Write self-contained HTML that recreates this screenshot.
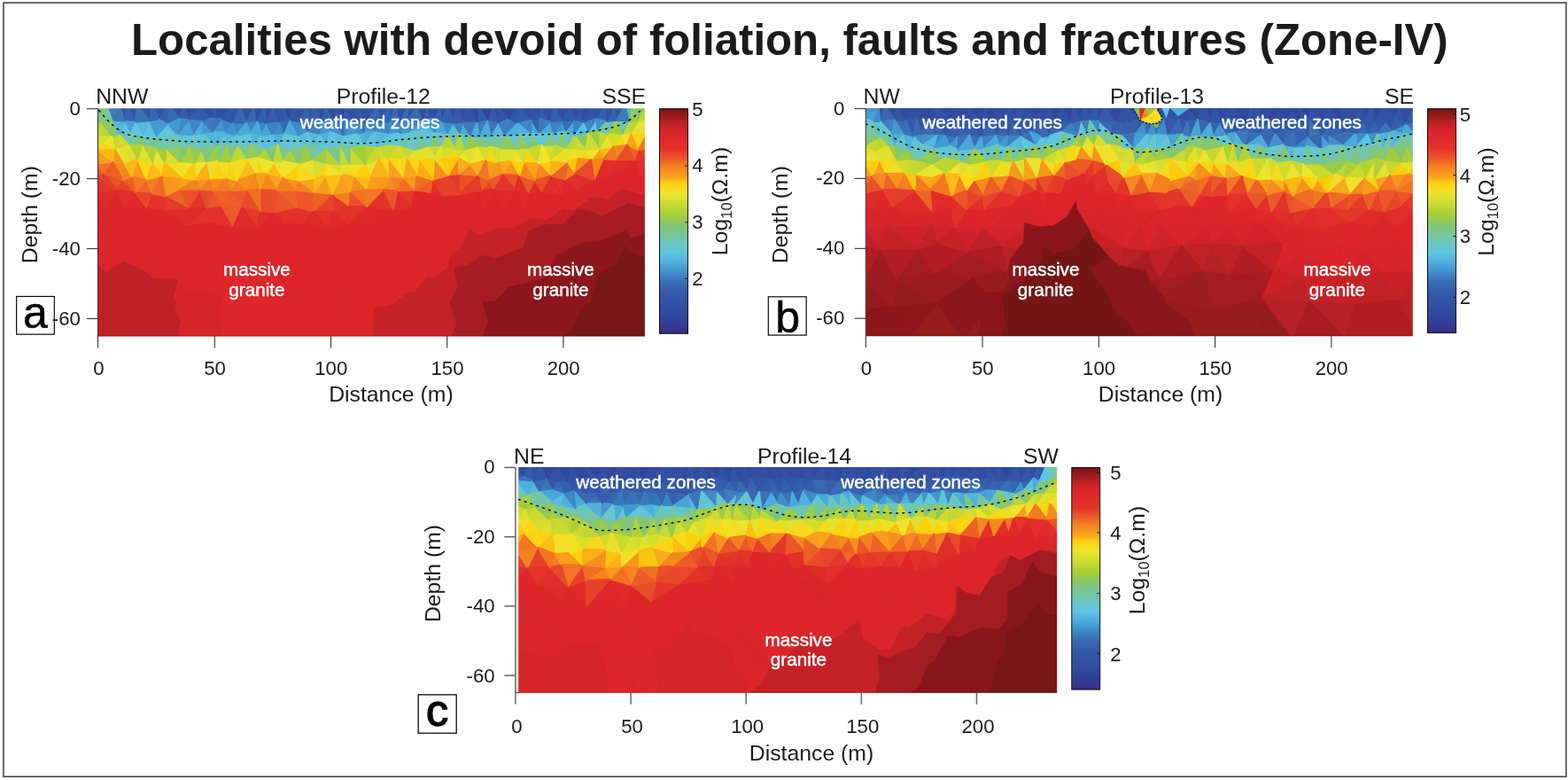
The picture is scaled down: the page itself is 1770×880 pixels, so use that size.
<!DOCTYPE html>
<html lang="en"><head><meta charset="utf-8"><title>Localities with devoid of foliation, faults and fractures (Zone-IV)</title>
<style>html,body{margin:0;padding:0;background:#fff}body{width:1770px;height:880px;overflow:hidden}svg{display:block}text{font-family:"Liberation Sans",Arial,Helvetica,sans-serif;fill:#1c1a1b}.t{font-size:22.2px}.l{font-size:24.8px}.z{font-size:20.7px;fill:#fff;stroke:#fff;stroke-width:.45px}.k{font-size:50px;fill:#000;stroke:#000}</style></head><body>
<svg width="1770" height="880" viewBox="0 0 1770 880">
<rect x="0" y="0" width="1770" height="880" fill="#fff"/>
<rect x="3.95" y="3.1" width="1763.95" height="873.1" fill="none" stroke="#3c3c3c" stroke-width="1.5"/>
<text x="891.4" y="61.9" text-anchor="middle" font-size="49.2" font-weight="bold">Localities with devoid of foliation, faults and fractures (Zone-IV)</text>
<defs><linearGradient id="jet" x1="0" y1="1" x2="0" y2="0">
<stop offset="0.000" stop-color="#342f7d"/>
<stop offset="0.015" stop-color="#35358b"/>
<stop offset="0.053" stop-color="#323f98"/>
<stop offset="0.110" stop-color="#314ea3"/>
<stop offset="0.170" stop-color="#3358a9"/>
<stop offset="0.225" stop-color="#3a6cb3"/>
<stop offset="0.262" stop-color="#3d87c3"/>
<stop offset="0.302" stop-color="#48a7d9"/>
<stop offset="0.355" stop-color="#5ec5e1"/>
<stop offset="0.405" stop-color="#6bc6bb"/>
<stop offset="0.455" stop-color="#7dc68a"/>
<stop offset="0.485" stop-color="#86c66f"/>
<stop offset="0.522" stop-color="#a1cd3a"/>
<stop offset="0.572" stop-color="#c8d92f"/>
<stop offset="0.625" stop-color="#efe42e"/>
<stop offset="0.668" stop-color="#fdd00e"/>
<stop offset="0.695" stop-color="#f9a51c"/>
<stop offset="0.746" stop-color="#f37e21"/>
<stop offset="0.777" stop-color="#ec5a29"/>
<stop offset="0.824" stop-color="#e2312b"/>
<stop offset="0.875" stop-color="#de262b"/>
<stop offset="0.902" stop-color="#d9252a"/>
<stop offset="0.947" stop-color="#b01f24"/>
<stop offset="1.000" stop-color="#761416"/>
</linearGradient><filter id="soft" x="-2%" y="-2%" width="104%" height="104%"><feGaussianBlur stdDeviation="0.55"/></filter></defs>
<g id="panel-a">
<clipPath id="clipa"><rect x="111.00" y="122.30" width="616.90" height="257.20"/></clipPath>
<g clip-path="url(#clipa)"><g stroke-width="1.5" stroke-linejoin="round" filter="url(#soft)">
<path fill="#e4392b" stroke="#e4392b" d="M375.0 218.7L394.6 232.7L375.4 238.5zM211.7 235.0L226.4 213.7L233.0 234.4zM468.3 214.5L464.2 233.5L448.7 215.3zM289.6 257.2L273.2 233.3L293.9 238.3z"/>
<path fill="#dc262b" stroke="#dc262b" d="M263.4 256.6L232.5 274.9L238.9 250.7zM132.4 346.7L166.6 382.5L108.0 382.5zM441.3 308.0L463.7 281.2L484.5 307.5zM435.3 335.4L441.3 308.0L484.5 307.5zM286.2 341.9L304.8 382.5L231.6 382.5zM237.4 345.6L286.2 341.9L231.6 382.5zM286.2 341.9L237.4 345.6L267.1 306.2zM237.4 345.6L237.3 316.8L267.1 306.2zM108.0 336.9L132.4 346.7L108.0 382.5zM132.4 346.7L108.0 336.9L108.0 309.4zM132.4 346.7L190.9 342.7L166.6 382.5zM237.3 316.8L190.9 342.7L190.0 303.3zM190.9 342.7L237.3 316.8L237.4 345.6zM166.6 382.5L190.9 342.7L231.6 382.5zM190.9 342.7L237.4 345.6L231.6 382.5zM153.2 309.5L132.4 346.7L108.0 309.4zM124.1 279.9L153.2 309.5L108.0 309.4zM153.2 309.5L164.7 281.7L190.0 303.3zM153.2 309.5L190.9 342.7L132.4 346.7zM613.7 233.7L628.3 255.7L604.5 253.3zM654.5 382.5L698.4 344.2L730.9 382.5zM698.4 344.2L730.9 351.8L730.9 382.5zM730.9 351.8L698.4 344.2L730.9 304.1zM707.1 281.6L730.9 280.8L730.9 304.1zM730.9 280.8L707.1 281.6L730.9 250.4zM577.9 281.9L570.6 255.6L604.5 253.3zM698.4 344.2L642.1 344.4L678.2 306.8zM642.1 344.4L698.4 344.2L654.5 382.5zM601.6 382.5L642.1 344.4L654.5 382.5zM642.1 344.4L601.6 382.5L602.4 341.6zM514.6 309.8L496.9 349.8L484.5 307.5zM496.9 349.8L435.3 335.4L484.5 307.5zM435.3 335.4L496.9 349.8L466.3 382.5zM559.2 311.5L514.6 309.8L537.5 285.8zM523.6 259.0L547.1 257.4L537.5 285.8zM429.7 277.7L463.7 281.2L441.3 308.0zM463.7 281.2L498.6 281.1L484.5 307.5zM498.6 281.1L514.6 309.8L484.5 307.5zM523.6 259.0L498.6 281.1L501.7 251.2zM514.6 309.8L498.6 281.1L537.5 285.8zM429.7 277.7L445.1 257.9L463.7 281.2zM108.0 275.1L124.1 279.9L108.0 309.4zM141.2 258.0L124.1 279.9L108.0 252.4zM124.1 279.9L141.2 258.0L164.7 281.7zM185.2 252.1L198.1 284.7L164.7 281.7zM198.1 284.7L237.3 316.8L190.0 303.3zM688.2 219.1L704.1 196.8L707.3 218.0zM654.4 253.9L646.1 277.1L628.3 255.7zM654.4 253.9L650.8 231.2L672.8 251.2zM688.2 219.1L676.7 234.8L667.8 215.2zM717.5 233.2L692.0 236.4L707.3 218.0zM692.0 236.4L717.5 233.2L701.2 251.2zM692.0 236.4L676.7 234.8L688.2 219.1zM676.7 234.8L692.0 236.4L672.8 251.2zM547.1 257.4L543.7 237.0L570.6 255.6zM523.6 259.0L543.7 237.0L547.1 257.4zM593.0 238.4L613.7 233.7L604.5 253.3zM569.3 232.6L593.0 238.4L570.6 255.6zM672.0 282.7L707.1 281.6L678.2 306.8zM707.1 281.6L672.0 282.7L701.2 251.2zM672.0 282.7L654.4 253.9L672.8 251.2zM604.3 286.9L577.9 281.9L604.5 253.3zM646.1 277.1L604.3 286.9L628.3 255.7zM642.1 344.4L647.5 313.0L678.2 306.8zM647.5 313.0L672.0 282.7L678.2 306.8zM672.0 282.7L647.5 313.0L646.1 277.1zM552.6 348.7L496.9 349.8L514.6 309.8zM559.2 311.5L552.6 348.7L514.6 309.8zM552.6 348.7L559.2 311.5L602.4 341.6zM429.7 277.7L401.0 285.5L423.3 255.3zM185.2 252.1L156.6 255.3L164.9 233.9zM141.2 258.0L156.6 255.3L164.7 281.7zM108.0 235.5L117.7 235.6L108.0 252.4zM117.7 235.6L139.9 233.8L141.2 258.0zM717.5 233.2L730.9 238.2L730.9 250.4zM634.9 219.0L636.5 231.7L613.7 233.7zM595.6 311.6L559.2 311.5L577.9 281.9zM559.2 311.5L595.6 311.6L602.4 341.6zM595.6 311.6L647.5 313.0L602.4 341.6zM364.7 382.5L396.2 344.8L417.1 382.5zM396.2 344.8L435.3 335.4L417.1 382.5zM332.2 337.4L364.7 382.5L304.8 382.5zM286.2 341.9L332.2 337.4L304.8 382.5zM316.2 311.8L332.2 337.4L286.2 341.9zM332.2 337.4L316.2 311.8L356.8 306.1zM396.2 344.8L332.2 337.4L356.8 306.1zM332.2 337.4L396.2 344.8L364.7 382.5zM292.9 281.5L316.2 311.8L267.1 306.2zM401.0 285.5L369.4 257.6L392.3 252.0zM369.4 257.6L401.0 285.5L361.1 274.8zM343.3 253.0L369.4 257.6L361.1 274.8zM332.0 281.6L361.1 274.8L356.8 306.1zM396.2 344.8L393.1 311.6L435.3 335.4zM435.3 335.4L393.1 311.6L441.3 308.0zM393.1 311.6L401.0 285.5L441.3 308.0zM393.1 311.6L396.2 344.8L356.8 306.1zM289.6 257.2L270.5 284.4L263.4 256.6zM289.6 257.2L292.9 281.5L270.5 284.4zM321.1 250.3L332.0 281.6L292.9 281.5zM502.3 234.0L518.2 219.4L524.9 237.2z"/>
<path fill="#dd262b" stroke="#dd262b" d="M435.3 335.4L466.3 382.5L417.1 382.5zM232.5 274.9L270.5 284.4L267.1 306.2zM270.5 284.4L232.5 274.9L263.4 256.6zM237.3 316.8L232.5 274.9L267.1 306.2zM153.2 309.5L124.1 279.9L164.7 281.7zM190.9 342.7L153.2 309.5L190.0 303.3zM650.8 231.2L652.5 213.7L667.8 215.2zM730.9 304.1L698.4 344.2L678.2 306.8zM707.1 281.6L730.9 304.1L678.2 306.8zM707.1 281.6L701.2 251.2L730.9 250.4zM577.9 281.9L547.1 257.4L570.6 255.6zM547.1 257.4L577.9 281.9L537.5 285.8zM466.3 382.5L496.9 349.8L547.2 382.5zM577.9 281.9L559.2 311.5L537.5 285.8zM498.6 281.1L523.6 259.0L537.5 285.8zM445.1 257.9L429.7 277.7L423.3 255.3zM124.1 279.9L108.0 275.1L108.0 252.4zM164.7 281.7L198.1 284.7L190.0 303.3zM237.3 316.8L198.1 284.7L232.5 274.9zM117.7 235.6L141.2 258.0L108.0 252.4zM701.2 251.2L717.5 233.2L730.9 250.4zM676.7 234.8L650.8 231.2L667.8 215.2zM650.8 231.2L676.7 234.8L672.8 251.2zM692.0 236.4L688.2 219.1L707.3 218.0zM692.0 236.4L701.2 251.2L672.8 251.2zM543.7 237.0L569.3 232.6L570.6 255.6zM634.9 219.0L652.5 213.7L650.8 231.2zM570.6 255.6L593.0 238.4L604.5 253.3zM701.2 251.2L672.0 282.7L672.8 251.2zM654.4 253.9L672.0 282.7L646.1 277.1zM628.3 255.7L604.3 286.9L604.5 253.3zM647.5 313.0L604.3 286.9L646.1 277.1zM647.5 313.0L642.1 344.4L602.4 341.6zM496.9 349.8L552.6 348.7L547.2 382.5zM552.6 348.7L601.6 382.5L547.2 382.5zM316.2 311.8L286.2 341.9L267.1 306.2zM401.0 285.5L429.7 277.7L441.3 308.0zM401.0 285.5L392.3 252.0L423.3 255.3zM156.6 255.3L185.2 252.1L164.7 281.7zM209.6 253.7L198.1 284.7L185.2 252.1zM186.2 237.1L209.6 253.7L185.2 252.1zM198.1 284.7L209.6 253.7L232.5 274.9zM232.5 274.9L209.6 253.7L238.9 250.7zM139.9 233.8L117.7 235.6L132.1 214.5zM156.6 255.3L139.9 233.8L164.9 233.9zM139.9 233.8L156.6 255.3L141.2 258.0zM723.2 201.8L730.9 217.6L707.3 218.0zM704.1 196.8L723.2 201.8L707.3 218.0zM730.9 238.2L717.5 233.2L730.9 217.6zM524.9 237.2L523.6 259.0L501.7 251.2zM524.9 237.2L543.7 237.0L523.6 259.0zM524.9 237.2L543.2 214.8L543.7 237.0zM636.5 231.7L634.9 219.0L650.8 231.2zM636.5 231.7L654.4 253.9L628.3 255.7zM654.4 253.9L636.5 231.7L650.8 231.2zM613.7 233.7L636.5 231.7L628.3 255.7zM604.3 286.9L595.6 311.6L577.9 281.9zM647.5 313.0L595.6 311.6L604.3 286.9zM316.2 311.8L332.0 281.6L356.8 306.1zM332.0 281.6L343.3 253.0L361.1 274.8zM292.9 281.5L332.0 281.6L316.2 311.8zM444.3 236.9L464.2 233.5L445.1 257.9zM730.9 204.0L723.2 201.8L730.9 182.5zM723.2 201.8L730.9 204.0L730.9 217.6zM652.5 213.7L670.5 203.1L667.8 215.2zM670.5 203.1L688.2 219.1L667.8 215.2zM361.1 274.8L393.1 311.6L356.8 306.1zM289.6 257.2L321.1 250.3L292.9 281.5zM473.9 255.6L498.6 281.1L463.7 281.2zM445.1 257.9L473.9 255.6L463.7 281.2zM464.2 233.5L473.9 255.6L445.1 257.9zM689.5 197.3L704.1 196.8L688.2 219.1zM502.3 234.0L524.9 237.2L501.7 251.2zM518.2 219.4L502.3 234.0L499.7 220.7zM473.9 255.6L485.8 239.2L501.7 251.2zM485.8 239.2L502.3 234.0L501.7 251.2zM485.8 239.2L473.9 255.6L464.2 233.5zM502.3 234.0L485.8 239.2L499.7 220.7z"/>
<path fill="#e2312b" stroke="#e2312b" d="M394.6 232.7L392.3 252.0L375.4 238.5zM634.9 219.0L621.0 198.3L637.5 202.7zM108.0 219.3L108.0 202.4L132.1 214.5zM353.6 238.5L343.3 253.0L335.4 234.1z"/>
<path fill="#f37e21" stroke="#f37e21" d="M375.0 218.7L395.5 216.2L394.6 232.7z"/>
<path fill="#e7452a" stroke="#e7452a" d="M353.6 238.5L375.0 218.7L375.4 238.5zM552.3 203.5L556.9 213.3L543.2 214.8z"/>
<path fill="#f7971e" stroke="#f7971e" d="M333.2 215.0L319.6 200.1L337.5 203.7zM220.5 202.7L237.9 201.5L226.4 213.7zM182.5 198.1L205.7 200.8L201.3 214.0zM566.7 196.6L577.4 181.5L586.3 197.7z"/>
<path fill="#fbd312" stroke="#fbd312" d="M367.4 198.0L355.2 201.3L369.0 184.4z"/>
<path fill="#ea5129" stroke="#ea5129" d="M395.5 216.2L414.3 233.2L394.6 232.7zM118.0 196.5L138.8 203.2L132.1 214.5zM518.1 196.2L540.0 198.3L518.2 219.4zM566.7 196.6L586.3 197.7L580.9 213.6z"/>
<path fill="#df282b" stroke="#df282b" d="M392.3 252.0L414.3 233.2L423.3 255.3zM186.2 237.1L185.2 252.1L164.9 233.9zM652.5 213.7L634.9 219.0L637.5 202.7zM414.3 233.2L444.3 236.9L423.3 255.3zM139.9 233.8L152.2 216.9L164.9 233.9zM596.6 216.9L611.2 216.2L613.7 233.7zM464.2 233.5L468.3 214.5L485.6 217.3zM321.1 250.3L289.6 257.2L309.3 239.4zM518.2 219.4L543.2 214.8L524.9 237.2zM499.7 220.7L485.8 239.2L485.6 217.3z"/>
<path fill="#e2302b" stroke="#e2302b" d="M414.3 233.2L392.3 252.0L394.6 232.7zM233.0 234.4L250.2 231.8L238.9 250.7zM250.2 231.8L263.4 256.6L238.9 250.7zM209.6 253.7L233.0 234.4L238.9 250.7zM171.6 218.4L186.2 237.1L164.9 233.9zM369.4 257.6L353.6 238.5L375.4 238.5zM649.0 195.6L652.5 213.7L637.5 202.7zM335.4 234.1L321.1 250.3L309.3 239.4zM432.8 213.8L444.3 236.9L414.3 233.2z"/>
<path fill="#314fa4" stroke="#314fa4" d="M250.2 134.1L239.1 119.3L251.6 119.3zM346.5 119.3L353.8 119.3L350.5 135.4zM301.2 139.3L298.2 119.3L309.0 119.3zM609.1 133.7L598.9 119.3L611.2 119.3zM511.7 138.7L506.3 119.3L516.4 119.3z"/>
<path fill="#61c5da" stroke="#61c5da" d="M283.7 162.5L295.0 152.5L299.4 168.4z"/>
<path fill="#345baa" stroke="#345baa" d="M389.5 119.3L398.5 139.1L386.3 134.1zM609.1 133.7L611.2 119.3L620.8 137.3zM658.6 138.9L647.6 136.0L655.3 119.3z"/>
<path fill="#ec5829" stroke="#ec5829" d="M354.9 217.2L353.6 238.5L335.4 234.1z"/>
<path fill="#eb5829" stroke="#eb5829" d="M333.2 215.0L354.9 217.2L335.4 234.1zM258.9 214.9L279.3 214.4L273.2 233.3z"/>
<path fill="#ee6427" stroke="#ee6427" d="M353.6 238.5L354.9 217.2L375.0 218.7zM171.6 218.4L152.2 216.9L165.4 203.0z"/>
<path fill="#f48220" stroke="#f48220" d="M354.9 217.2L333.2 215.0L337.5 203.7z"/>
<path fill="#f9a21c" stroke="#f9a21c" d="M355.2 201.3L354.9 217.2L337.5 203.7zM312.3 214.8L300.7 196.1L319.6 200.1z"/>
<path fill="#f89c1d" stroke="#f89c1d" d="M354.9 217.2L367.4 198.0L375.0 218.7zM148.8 199.1L155.1 179.3L165.4 203.0z"/>
<path fill="#fbba15" stroke="#fbba15" d="M367.4 198.0L354.9 217.2L355.2 201.3zM680.9 179.7L676.6 168.2L692.1 165.5zM300.7 196.1L308.8 183.3L319.6 200.1z"/>
<path fill="#3150a4" stroke="#3150a4" d="M346.5 119.3L337.1 137.5L332.4 119.3zM413.6 137.8L402.5 119.3L412.1 119.3zM363.3 138.2L353.8 119.3L367.4 119.3zM611.2 119.3L625.3 119.3L620.8 137.3zM206.7 119.3L203.6 133.7L190.5 119.3zM667.7 119.3L658.6 138.9L655.3 119.3zM586.5 119.3L598.9 119.3L600.0 135.6zM563.3 119.3L563.1 139.1L555.4 119.3zM530.9 119.3L521.6 137.9L516.4 119.3z"/>
<path fill="#355eac" stroke="#355eac" d="M337.1 137.5L346.5 119.3L350.5 135.4zM301.2 139.3L309.0 119.3L315.4 138.3z"/>
<path fill="#4090c9" stroke="#4090c9" d="M337.1 137.5L348.9 148.7L336.5 154.5z"/>
<path fill="#396ab2" stroke="#396ab2" d="M348.9 148.7L337.1 137.5L350.5 135.4z"/>
<path fill="#d7dd2f" stroke="#d7dd2f" d="M355.2 201.3L351.9 180.0L369.0 184.4zM384.6 185.7L385.9 196.2L369.0 184.4z"/>
<path fill="#9ccc44" stroke="#9ccc44" d="M351.9 180.0L368.2 166.8L369.0 184.4z"/>
<path fill="#74c6a4" stroke="#74c6a4" d="M368.2 166.8L351.9 180.0L355.4 164.7z"/>
<path fill="#e02b2b" stroke="#e02b2b" d="M117.7 235.6L108.0 219.3L132.1 214.5zM209.6 253.7L211.7 235.0L233.0 234.4zM603.5 203.5L611.2 216.2L596.6 216.9zM695.9 180.4L716.0 180.5L704.1 196.8z"/>
<path fill="#ea5329" stroke="#ea5329" d="M226.4 213.7L211.7 235.0L201.3 214.0z"/>
<path fill="#de262b" stroke="#de262b" d="M730.9 217.6L717.5 233.2L707.3 218.0zM593.0 238.4L569.3 232.6L580.9 213.6zM601.6 382.5L552.6 348.7L602.4 341.6zM444.3 236.9L445.1 257.9L423.3 255.3zM117.7 235.6L108.0 235.5L108.0 219.3zM270.5 284.4L292.9 281.5L267.1 306.2zM401.0 285.5L393.1 311.6L361.1 274.8zM332.0 281.6L321.1 250.3L343.3 253.0zM498.6 281.1L473.9 255.6L501.7 251.2zM670.5 203.1L689.5 197.3L688.2 219.1zM543.7 237.0L556.9 213.3L569.3 232.6z"/>
<path fill="#fdcc0f" stroke="#fdcc0f" d="M621.5 181.0L621.0 198.3L607.4 184.3z"/>
<path fill="#88c76a" stroke="#88c76a" d="M624.8 163.7L638.6 147.8L639.5 168.1z"/>
<path fill="#c5d830" stroke="#c5d830" d="M621.5 181.0L624.8 163.7L639.5 168.1zM710.0 136.7L712.0 150.7L702.0 152.7zM468.8 169.2L459.5 179.8L451.4 164.0zM483.3 164.5L498.2 164.4L490.5 178.9z"/>
<path fill="#acd037" stroke="#acd037" d="M108.0 135.1L115.2 138.6L108.0 153.4z"/>
<path fill="#bdd632" stroke="#bdd632" d="M115.2 138.6L126.5 154.2L108.0 153.4zM128.8 167.5L126.5 154.2L135.3 150.7zM227.0 168.6L234.0 183.7L219.6 183.6z"/>
<path fill="#7dc689" stroke="#7dc689" d="M122.7 119.3L108.0 135.1L108.0 119.3z"/>
<path fill="#85c672" stroke="#85c672" d="M108.0 135.1L122.7 119.3L115.2 138.6zM611.6 163.7L596.3 167.0L599.2 151.3zM564.6 167.7L552.2 165.2L554.3 154.3z"/>
<path fill="#e5e12e" stroke="#e5e12e" d="M128.8 167.5L146.8 162.7L140.3 185.7z"/>
<path fill="#cfdb2f" stroke="#cfdb2f" d="M146.8 162.7L128.8 167.5L135.3 150.7zM439.4 179.3L427.9 179.2L425.2 165.3z"/>
<path fill="#314fa3" stroke="#314fa3" d="M206.7 119.3L216.5 119.3L213.4 135.3zM277.9 138.5L272.0 119.3L287.2 119.3zM634.6 136.2L625.3 119.3L635.8 119.3zM428.3 138.2L426.9 119.3L438.9 119.3zM470.5 119.3L460.0 136.2L460.0 119.3z"/>
<path fill="#3251a5" stroke="#3251a5" d="M190.5 119.3L179.7 134.8L178.5 119.3zM216.5 119.3L226.7 119.3L213.4 135.3zM402.5 119.3L398.5 139.1L389.5 119.3zM426.9 119.3L413.6 137.8L412.1 119.3zM667.7 119.3L684.0 119.3L672.9 134.0zM446.4 119.3L440.3 136.9L438.9 119.3z"/>
<path fill="#5dc3e1" stroke="#5dc3e1" d="M168.8 136.6L176.4 153.8L160.9 154.1zM189.2 139.8L200.1 151.8L192.8 154.5z"/>
<path fill="#449cd1" stroke="#449cd1" d="M179.7 134.8L176.4 153.8L168.8 136.6z"/>
<path fill="#f0e32c" stroke="#f0e32c" d="M205.7 200.8L202.9 182.4L219.6 183.6zM234.0 183.7L220.5 202.7L219.6 183.6z"/>
<path fill="#4398ce" stroke="#4398ce" d="M413.6 137.8L423.8 148.7L410.2 149.9zM440.3 136.9L452.3 150.4L438.2 151.8z"/>
<path fill="#3b77b9" stroke="#3b77b9" d="M398.5 139.1L413.6 137.8L410.2 149.9z"/>
<path fill="#f2e027" stroke="#f2e027" d="M394.3 185.0L412.8 185.6L399.1 199.2z"/>
<path fill="#ec5a29" stroke="#ec5a29" d="M250.2 231.8L273.2 233.3L263.4 256.6z"/>
<path fill="#3254a7" stroke="#3254a7" d="M309.0 119.3L322.3 119.3L315.4 138.3zM705.5 119.3L695.4 135.9L692.6 119.3z"/>
<path fill="#3e89c5" stroke="#3e89c5" d="M326.0 135.1L337.1 137.5L336.5 154.5z"/>
<path fill="#345aaa" stroke="#345aaa" d="M322.3 119.3L326.0 135.1L315.4 138.3zM555.4 119.3L563.1 139.1L550.2 136.5z"/>
<path fill="#3149a0" stroke="#3149a0" d="M326.0 135.1L322.3 119.3L332.4 119.3z"/>
<path fill="#3357a8" stroke="#3357a8" d="M337.1 137.5L326.0 135.1L332.4 119.3zM402.5 119.3L413.6 137.8L398.5 139.1z"/>
<path fill="#4aaada" stroke="#4aaada" d="M319.5 150.7L326.0 135.1L336.5 154.5zM600.0 135.6L608.8 150.4L599.2 151.3zM475.6 147.7L462.6 148.4L476.7 137.0zM647.6 136.0L648.4 153.3L638.6 147.8z"/>
<path fill="#3868b1" stroke="#3868b1" d="M326.0 135.1L319.5 150.7L315.4 138.3zM290.7 137.5L277.9 138.5L287.2 119.3z"/>
<path fill="#7ec688" stroke="#7ec688" d="M313.2 163.3L328.8 169.7L318.7 181.7z"/>
<path fill="#60c5db" stroke="#60c5db" d="M328.8 169.7L319.5 150.7L336.5 154.5zM219.2 152.4L212.9 164.6L200.1 151.8z"/>
<path fill="#64c5d0" stroke="#64c5d0" d="M319.5 150.7L328.8 169.7L313.2 163.3z"/>
<path fill="#314ea3" stroke="#314ea3" d="M261.1 119.3L250.2 134.1L251.6 119.3zM647.6 136.0L645.4 119.3L655.3 119.3zM645.4 119.3L634.6 136.2L635.8 119.3zM506.3 119.3L497.5 136.9L497.2 119.3zM298.2 119.3L290.7 137.5L287.2 119.3zM451.4 138.5L446.4 119.3L460.0 119.3z"/>
<path fill="#81c67f" stroke="#81c67f" d="M269.3 164.2L260.6 183.0L256.4 162.6z"/>
<path fill="#5cc2e0" stroke="#5cc2e0" d="M227.0 168.6L219.2 152.4L229.4 150.2z"/>
<path fill="#47a4d7" stroke="#47a4d7" d="M219.2 152.4L200.1 151.8L213.4 135.3z"/>
<path fill="#4397ce" stroke="#4397ce" d="M254.9 149.6L239.9 148.8L250.2 134.1z"/>
<path fill="#66c6ca" stroke="#66c6ca" d="M244.9 164.4L254.9 149.6L256.4 162.6z"/>
<path fill="#53b6dd" stroke="#53b6dd" d="M254.9 149.6L244.9 164.4L239.9 148.8z"/>
<path fill="#6ac6bd" stroke="#6ac6bd" d="M244.9 164.4L227.0 168.6L229.4 150.2z"/>
<path fill="#53b5dd" stroke="#53b5dd" d="M239.9 148.8L244.9 164.4L229.4 150.2z"/>
<path fill="#7fc683" stroke="#7fc683" d="M290.8 178.1L283.7 162.5L299.4 168.4zM244.9 164.4L234.0 183.7L227.0 168.6z"/>
<path fill="#3662ae" stroke="#3662ae" d="M378.7 135.7L363.3 138.2L367.4 119.3zM189.2 139.8L179.7 134.8L190.5 119.3zM684.0 119.3L685.2 137.3L672.9 134.0z"/>
<path fill="#3d86c2" stroke="#3d86c2" d="M363.3 138.2L378.7 135.7L372.9 148.6zM263.0 138.6L254.9 149.6L250.2 134.1zM290.7 137.5L301.2 139.3L295.0 152.5zM266.7 152.7L263.0 138.6L277.9 138.5z"/>
<path fill="#3b76b9" stroke="#3b76b9" d="M363.3 138.2L348.9 148.7L350.5 135.4zM563.1 139.1L554.3 154.3L550.2 136.5z"/>
<path fill="#314ba1" stroke="#314ba1" d="M378.6 119.3L378.7 135.7L367.4 119.3z"/>
<path fill="#314aa0" stroke="#314aa0" d="M378.6 119.3L389.5 119.3L386.3 134.1z"/>
<path fill="#3356a8" stroke="#3356a8" d="M378.7 135.7L378.6 119.3L386.3 134.1zM155.7 119.3L151.7 137.7L143.4 119.3zM261.1 119.3L263.0 138.6L250.2 134.1zM563.3 119.3L575.1 133.8L563.1 139.1z"/>
<path fill="#345cab" stroke="#345cab" d="M353.8 119.3L363.3 138.2L350.5 135.4z"/>
<path fill="#58bddf" stroke="#58bddf" d="M348.9 148.7L345.0 164.0L336.5 154.5zM295.0 152.5L306.6 151.1L299.4 168.4zM686.2 150.9L685.2 137.3L695.4 135.9zM511.7 138.7L519.3 151.3L504.0 151.7z"/>
<path fill="#61c5d9" stroke="#61c5d9" d="M345.0 164.0L348.9 148.7L355.4 164.7zM608.8 150.4L611.6 163.7L599.2 151.3z"/>
<path fill="#68c6c3" stroke="#68c6c3" d="M345.0 164.0L328.8 169.7L336.5 154.5z"/>
<path fill="#73c6a5" stroke="#73c6a5" d="M351.9 180.0L345.0 164.0L355.4 164.7z"/>
<path fill="#54b8de" stroke="#54b8de" d="M348.9 148.7L360.0 151.0L355.4 164.7zM254.9 149.6L266.7 152.7L256.4 162.6z"/>
<path fill="#50b2dc" stroke="#50b2dc" d="M368.2 166.8L360.0 151.0L372.9 148.6zM705.5 119.3L713.6 119.3L710.0 136.7z"/>
<path fill="#64c5ce" stroke="#64c5ce" d="M360.0 151.0L368.2 166.8L355.4 164.7z"/>
<path fill="#4295cd" stroke="#4295cd" d="M360.0 151.0L363.3 138.2L372.9 148.6zM625.2 150.4L634.6 136.2L638.6 147.8z"/>
<path fill="#3d83c1" stroke="#3d83c1" d="M363.3 138.2L360.0 151.0L348.9 148.7zM440.3 136.9L438.2 151.8L428.3 138.2z"/>
<path fill="#e02c2b" stroke="#e02c2b" d="M209.6 253.7L186.2 237.1L211.7 235.0zM689.5 197.3L670.5 203.1L680.9 179.7zM569.3 232.6L556.9 213.3L580.9 213.6zM543.2 214.8L556.9 213.3L543.7 237.0z"/>
<path fill="#ed6127" stroke="#ed6127" d="M211.7 235.0L186.3 221.4L201.3 214.0z"/>
<path fill="#e43a2b" stroke="#e43a2b" d="M186.2 237.1L186.3 221.4L211.7 235.0z"/>
<path fill="#eb5529" stroke="#eb5529" d="M118.0 196.5L108.0 202.4L108.0 184.8z"/>
<path fill="#e43b2b" stroke="#e43b2b" d="M108.0 202.4L118.0 196.5L132.1 214.5zM518.1 196.2L518.2 219.4L506.0 197.8z"/>
<path fill="#f17423" stroke="#f17423" d="M127.5 182.7L118.0 196.5L108.0 184.8z"/>
<path fill="#f7961e" stroke="#f7961e" d="M127.5 182.7L128.8 167.5L140.3 185.7z"/>
<path fill="#f89d1d" stroke="#f89d1d" d="M108.0 168.1L127.5 182.7L108.0 184.8zM417.7 199.5L432.8 213.8L413.0 214.5z"/>
<path fill="#fbbb15" stroke="#fbbb15" d="M127.5 182.7L108.0 168.1L128.8 167.5zM417.7 199.5L413.0 214.5L399.1 199.2zM289.5 196.0L267.2 203.8L279.7 179.8z"/>
<path fill="#e7472a" stroke="#e7472a" d="M152.2 216.9L171.6 218.4L164.9 233.9z"/>
<path fill="#e3352b" stroke="#e3352b" d="M171.6 218.4L186.3 221.4L186.2 237.1z"/>
<path fill="#e7442a" stroke="#e7442a" d="M138.8 203.2L152.2 216.9L132.1 214.5zM720.3 169.0L730.9 167.6L730.9 182.5z"/>
<path fill="#f68e1f" stroke="#f68e1f" d="M138.8 203.2L127.5 182.7L140.3 185.7z"/>
<path fill="#ed5e28" stroke="#ed5e28" d="M127.5 182.7L138.8 203.2L118.0 196.5zM540.0 198.3L552.3 203.5L543.2 214.8z"/>
<path fill="#e12e2b" stroke="#e12e2b" d="M152.2 216.9L139.9 233.8L132.1 214.5zM723.2 201.8L716.0 180.5L730.9 182.5zM464.2 233.5L444.3 236.9L448.7 215.3zM343.3 253.0L321.1 250.3L335.4 234.1z"/>
<path fill="#f9a31c" stroke="#f9a31c" d="M205.7 200.8L220.5 202.7L201.3 214.0z"/>
<path fill="#f38121" stroke="#f38121" d="M220.5 202.7L226.4 213.7L201.3 214.0zM640.4 182.2L649.0 195.6L637.5 202.7zM267.2 203.8L279.3 214.4L258.9 214.9z"/>
<path fill="#fcca10" stroke="#fcca10" d="M220.5 202.7L205.7 200.8L219.6 183.6z"/>
<path fill="#ea5429" stroke="#ea5429" d="M241.0 214.7L250.2 231.8L233.0 234.4zM312.3 214.8L335.4 234.1L309.3 239.4z"/>
<path fill="#e94c2a" stroke="#e94c2a" d="M226.4 213.7L241.0 214.7L233.0 234.4z"/>
<path fill="#f27b22" stroke="#f27b22" d="M237.9 201.5L241.0 214.7L226.4 213.7z"/>
<path fill="#f58d1f" stroke="#f58d1f" d="M241.0 214.7L237.9 201.5L256.4 200.7zM432.8 213.8L440.0 199.4L448.7 215.3z"/>
<path fill="#fbd313" stroke="#fbd313" d="M720.3 169.0L712.0 150.7L730.9 150.1zM237.9 201.5L245.6 181.5L256.4 200.7z"/>
<path fill="#e8e22e" stroke="#e8e22e" d="M712.0 150.7L720.7 136.5L730.9 150.1zM336.3 185.1L351.9 180.0L355.2 201.3zM720.7 136.5L730.9 134.0L730.9 150.1zM676.6 168.2L686.2 150.9L692.1 165.5z"/>
<path fill="#bed632" stroke="#bed632" d="M720.7 136.5L712.0 150.7L710.0 136.7z"/>
<path fill="#8ac767" stroke="#8ac767" d="M720.7 136.5L713.6 119.3L730.9 119.3zM648.4 153.3L663.7 149.3L661.4 169.1z"/>
<path fill="#92c958" stroke="#92c958" d="M713.6 119.3L720.7 136.5L710.0 136.7z"/>
<path fill="#75c69f" stroke="#75c69f" d="M695.4 135.9L710.0 136.7L702.0 152.7z"/>
<path fill="#f27922" stroke="#f27922" d="M730.9 167.6L720.3 169.0L730.9 150.1z"/>
<path fill="#e3342b" stroke="#e3342b" d="M716.0 180.5L720.3 169.0L730.9 182.5z"/>
<path fill="#de272b" stroke="#de272b" d="M716.0 180.5L723.2 201.8L704.1 196.8zM593.0 238.4L596.6 216.9L613.7 233.7zM611.2 216.2L634.9 219.0L613.7 233.7zM485.8 239.2L464.2 233.5L485.6 217.3z"/>
<path fill="#f89f1d" stroke="#f89f1d" d="M676.6 168.2L680.9 179.7L667.4 180.2zM385.9 196.2L395.5 216.2L375.0 218.7zM563.1 182.9L552.3 203.5L548.3 180.8z"/>
<path fill="#fad515" stroke="#fad515" d="M652.3 178.7L661.4 169.1L667.4 180.2z"/>
<path fill="#f1e22a" stroke="#f1e22a" d="M661.4 169.1L676.6 168.2L667.4 180.2zM517.4 178.1L523.5 169.0L530.9 185.3z"/>
<path fill="#ee6327" stroke="#ee6327" d="M621.0 198.3L640.4 182.2L637.5 202.7zM241.0 214.7L258.9 214.9L250.2 231.8zM312.3 214.8L333.2 215.0L335.4 234.1z"/>
<path fill="#fab118" stroke="#fab118" d="M640.4 182.2L621.0 198.3L621.5 181.0zM220.5 202.7L234.0 183.7L237.9 201.5z"/>
<path fill="#f5dc21" stroke="#f5dc21" d="M640.4 182.2L621.5 181.0L639.5 168.1z"/>
<path fill="#df292b" stroke="#df292b" d="M596.6 216.9L593.0 238.4L580.9 213.6zM369.4 257.6L343.3 253.0L353.6 238.5zM273.2 233.3L289.6 257.2L263.4 256.6zM689.5 197.3L695.9 180.4L704.1 196.8z"/>
<path fill="#e02d2b" stroke="#e02d2b" d="M611.2 216.2L621.0 198.3L634.9 219.0zM586.3 197.7L596.6 216.9L580.9 213.6zM488.4 203.0L499.7 220.7L485.6 217.3z"/>
<path fill="#68c6c5" stroke="#68c6c5" d="M624.8 163.7L625.2 150.4L638.6 147.8zM200.1 151.8L204.1 165.4L192.8 154.5z"/>
<path fill="#df2a2b" stroke="#df2a2b" d="M392.3 252.0L369.4 257.6L375.4 238.5z"/>
<path fill="#74c6a3" stroke="#74c6a3" d="M122.7 119.3L128.1 135.9L115.2 138.6z"/>
<path fill="#80c682" stroke="#80c682" d="M126.5 154.2L128.1 135.9L135.3 150.7z"/>
<path fill="#8cc863" stroke="#8cc863" d="M128.1 135.9L126.5 154.2L115.2 138.6z"/>
<path fill="#f8d81a" stroke="#f8d81a" d="M115.8 162.9L108.0 168.1L108.0 153.4z"/>
<path fill="#d8de2f" stroke="#d8de2f" d="M126.5 154.2L115.8 162.9L108.0 153.4z"/>
<path fill="#efe32d" stroke="#efe32d" d="M115.8 162.9L126.5 154.2L128.8 167.5zM308.8 183.3L318.7 181.7L319.6 200.1z"/>
<path fill="#f9d618" stroke="#f9d618" d="M108.0 168.1L115.8 162.9L128.8 167.5zM708.0 163.4L692.1 165.5L702.0 152.7zM427.9 179.2L439.4 179.3L440.0 199.4zM591.1 183.8L596.3 167.0L607.4 184.3zM552.2 165.2L563.1 182.9L548.3 180.8z"/>
<path fill="#dedf2e" stroke="#dedf2e" d="M146.8 162.7L155.1 179.3L140.3 185.7z"/>
<path fill="#f7d81b" stroke="#f7d81b" d="M165.4 203.0L155.1 179.3L171.8 185.4z"/>
<path fill="#3253a6" stroke="#3253a6" d="M155.7 119.3L171.6 119.3L168.8 136.6zM141.1 136.9L134.9 119.3L143.4 119.3z"/>
<path fill="#3254a6" stroke="#3254a6" d="M179.7 134.8L171.6 119.3L178.5 119.3z"/>
<path fill="#3968b1" stroke="#3968b1" d="M171.6 119.3L179.7 134.8L168.8 136.6zM203.6 133.7L189.2 139.8L190.5 119.3zM460.0 136.2L451.4 138.5L460.0 119.3z"/>
<path fill="#54b7dd" stroke="#54b7dd" d="M151.7 137.7L168.8 136.6L160.9 154.1zM411.6 163.1L402.7 151.0L410.2 149.9z"/>
<path fill="#3b72b6" stroke="#3b72b6" d="M151.7 137.7L155.7 119.3L168.8 136.6z"/>
<path fill="#355cab" stroke="#355cab" d="M203.6 133.7L206.7 119.3L213.4 135.3zM481.1 119.3L488.3 133.5L476.7 137.0z"/>
<path fill="#3e8ac5" stroke="#3e8ac5" d="M200.1 151.8L203.6 133.7L213.4 135.3z"/>
<path fill="#f3df25" stroke="#f3df25" d="M186.2 184.1L202.9 182.4L205.7 200.8zM245.6 181.5L260.6 183.0L256.4 200.7z"/>
<path fill="#ece32e" stroke="#ece32e" d="M176.7 167.8L186.2 184.1L171.8 185.4zM427.9 179.2L417.7 199.5L412.8 185.6z"/>
<path fill="#dade2f" stroke="#dade2f" d="M186.2 184.1L187.6 167.5L202.9 182.4z"/>
<path fill="#a4ce39" stroke="#a4ce39" d="M187.6 167.5L186.2 184.1L176.7 167.8z"/>
<path fill="#6ac6be" stroke="#6ac6be" d="M187.6 167.5L176.4 153.8L192.8 154.5zM638.6 147.8L648.4 153.3L639.5 168.1z"/>
<path fill="#77c69b" stroke="#77c69b" d="M176.4 153.8L187.6 167.5L176.7 167.8z"/>
<path fill="#e1e02e" stroke="#e1e02e" d="M472.5 180.8L483.3 164.5L490.5 178.9zM523.5 169.0L539.6 164.6L530.9 185.3z"/>
<path fill="#f68f1f" stroke="#f68f1f" d="M413.0 214.5L395.5 216.2L399.1 199.2zM267.2 203.8L258.9 214.9L256.4 200.7zM289.5 196.0L279.3 214.4L267.2 203.8z"/>
<path fill="#f17224" stroke="#f17224" d="M413.0 214.5L414.3 233.2L395.5 216.2z"/>
<path fill="#f6da1f" stroke="#f6da1f" d="M385.9 196.2L394.3 185.0L399.1 199.2zM186.2 184.1L182.5 198.1L171.8 185.4z"/>
<path fill="#fbc013" stroke="#fbc013" d="M367.4 198.0L385.9 196.2L375.0 218.7z"/>
<path fill="#f1e129" stroke="#f1e129" d="M385.9 196.2L367.4 198.0L369.0 184.4zM591.1 183.8L577.4 181.5L583.2 168.3z"/>
<path fill="#f9a71b" stroke="#f9a71b" d="M395.5 216.2L385.9 196.2L399.1 199.2z"/>
<path fill="#b6d434" stroke="#b6d434" d="M368.2 166.8L384.6 185.7L369.0 184.4z"/>
<path fill="#e7e22e" stroke="#e7e22e" d="M385.9 196.2L384.6 185.7L394.3 185.0zM459.5 179.8L468.8 169.2L472.5 180.8z"/>
<path fill="#b3d335" stroke="#b3d335" d="M411.6 163.1L425.2 165.3L412.8 185.6z"/>
<path fill="#4eb0db" stroke="#4eb0db" d="M423.8 148.7L411.6 163.1L410.2 149.9z"/>
<path fill="#5fc5df" stroke="#5fc5df" d="M425.2 165.3L411.6 163.1L423.8 148.7zM663.7 149.3L672.9 134.0L674.4 147.7z"/>
<path fill="#c8d92f" stroke="#c8d92f" d="M425.2 165.3L427.9 179.2L412.8 185.6z"/>
<path fill="#4daedb" stroke="#4daedb" d="M306.6 151.1L319.5 150.7L313.2 163.3zM519.3 151.3L521.6 137.9L531.6 154.0z"/>
<path fill="#59bfdf" stroke="#59bfdf" d="M306.6 151.1L313.2 163.3L299.4 168.4z"/>
<path fill="#47a5d8" stroke="#47a5d8" d="M301.2 139.3L306.6 151.1L295.0 152.5z"/>
<path fill="#3f8cc6" stroke="#3f8cc6" d="M319.5 150.7L306.6 151.1L315.4 138.3zM497.5 136.9L511.7 138.7L504.0 151.7zM460.0 136.2L462.6 148.4L451.4 138.5zM462.6 148.4L460.0 136.2L476.7 137.0z"/>
<path fill="#3c82c0" stroke="#3c82c0" d="M306.6 151.1L301.2 139.3L315.4 138.3z"/>
<path fill="#aed136" stroke="#aed136" d="M328.8 169.7L336.3 185.1L318.7 181.7z"/>
<path fill="#9dcc41" stroke="#9dcc41" d="M336.3 185.1L345.0 164.0L351.9 180.0z"/>
<path fill="#83c679" stroke="#83c679" d="M345.0 164.0L336.3 185.1L328.8 169.7z"/>
<path fill="#fcd211" stroke="#fcd211" d="M319.6 200.1L336.3 185.1L337.5 203.7z"/>
<path fill="#eee42e" stroke="#eee42e" d="M318.7 181.7L336.3 185.1L319.6 200.1z"/>
<path fill="#f7d91c" stroke="#f7d91c" d="M336.3 185.1L355.2 201.3L337.5 203.7zM517.4 178.1L499.8 179.1L513.6 167.5z"/>
<path fill="#345bab" stroke="#345bab" d="M226.7 119.3L228.9 136.9L213.4 135.3zM239.0 133.3L228.9 136.9L226.7 119.3zM584.5 139.1L586.5 119.3L600.0 135.6z"/>
<path fill="#3d88c4" stroke="#3d88c4" d="M228.9 136.9L219.2 152.4L213.4 135.3z"/>
<path fill="#4babda" stroke="#4babda" d="M219.2 152.4L228.9 136.9L229.4 150.2zM625.2 150.4L608.8 150.4L620.8 137.3z"/>
<path fill="#4399d0" stroke="#4399d0" d="M228.9 136.9L239.9 148.8L229.4 150.2z"/>
<path fill="#69c6c2" stroke="#69c6c2" d="M212.9 164.6L219.2 152.4L227.0 168.6z"/>
<path fill="#8fc85d" stroke="#8fc85d" d="M212.9 164.6L227.0 168.6L219.6 183.6z"/>
<path fill="#aad037" stroke="#aad037" d="M202.9 182.4L212.9 164.6L219.6 183.6z"/>
<path fill="#51b4dc" stroke="#51b4dc" d="M283.0 149.8L295.0 152.5L283.7 162.5z"/>
<path fill="#3252a6" stroke="#3252a6" d="M263.0 138.6L261.1 119.3L272.0 119.3z"/>
<path fill="#3866b0" stroke="#3866b0" d="M277.9 138.5L263.0 138.6L272.0 119.3z"/>
<path fill="#c2d731" stroke="#c2d731" d="M269.3 164.2L279.7 179.8L260.6 183.0zM730.9 134.0L720.7 136.5L730.9 119.3zM451.4 164.0L439.4 179.3L439.7 162.6z"/>
<path fill="#7bc68f" stroke="#7bc68f" d="M279.7 179.8L269.3 164.2L283.7 162.5z"/>
<path fill="#99cb4b" stroke="#99cb4b" d="M290.8 178.1L279.7 179.8L283.7 162.5z"/>
<path fill="#b9d433" stroke="#b9d433" d="M308.8 183.3L290.8 178.1L299.4 168.4z"/>
<path fill="#81c67d" stroke="#81c67d" d="M313.2 163.3L308.8 183.3L299.4 168.4z"/>
<path fill="#c3d830" stroke="#c3d830" d="M308.8 183.3L313.2 163.3L318.7 181.7z"/>
<path fill="#a3ce3a" stroke="#a3ce3a" d="M260.6 183.0L245.6 181.5L256.4 162.6z"/>
<path fill="#79c696" stroke="#79c696" d="M245.6 181.5L244.9 164.4L256.4 162.6zM160.4 164.2L176.4 153.8L176.7 167.8z"/>
<path fill="#f27822" stroke="#f27822" d="M152.2 216.9L148.8 199.1L165.4 203.0z"/>
<path fill="#ec5c28" stroke="#ec5c28" d="M138.8 203.2L148.8 199.1L152.2 216.9z"/>
<path fill="#f48720" stroke="#f48720" d="M148.8 199.1L138.8 203.2L140.3 185.7zM300.7 196.1L312.3 214.8L293.7 213.7z"/>
<path fill="#fbb916" stroke="#fbb916" d="M155.1 179.3L148.8 199.1L140.3 185.7z"/>
<path fill="#f37d21" stroke="#f37d21" d="M258.9 214.9L241.0 214.7L256.4 200.7z"/>
<path fill="#ed5f28" stroke="#ed5f28" d="M258.9 214.9L273.2 233.3L250.2 231.8z"/>
<path fill="#a3ce39" stroke="#a3ce39" d="M686.2 150.9L695.4 135.9L702.0 152.7z"/>
<path fill="#d5dd2f" stroke="#d5dd2f" d="M692.1 165.5L686.2 150.9L702.0 152.7zM611.6 163.7L624.8 163.7L621.5 181.0zM523.5 169.0L517.4 178.1L513.6 167.5z"/>
<path fill="#c0d731" stroke="#c0d731" d="M686.2 150.9L676.6 168.2L674.4 147.7z"/>
<path fill="#3c7cbc" stroke="#3c7cbc" d="M695.4 135.9L705.5 119.3L710.0 136.7zM575.1 133.8L584.5 139.1L570.0 153.3z"/>
<path fill="#ee6227" stroke="#ee6227" d="M716.0 180.5L708.0 163.4L720.3 169.0z"/>
<path fill="#f0e22b" stroke="#f0e22b" d="M712.0 150.7L708.0 163.4L702.0 152.7z"/>
<path fill="#f8a21c" stroke="#f8a21c" d="M708.0 163.4L712.0 150.7L720.3 169.0z"/>
<path fill="#f48420" stroke="#f48420" d="M680.9 179.7L670.5 203.1L667.4 180.2z"/>
<path fill="#3764af" stroke="#3764af" d="M695.4 135.9L685.2 137.3L692.6 119.3zM609.1 133.7L608.8 150.4L600.0 135.6z"/>
<path fill="#4192cb" stroke="#4192cb" d="M672.9 134.0L685.2 137.3L674.4 147.7z"/>
<path fill="#73c6a6" stroke="#73c6a6" d="M685.2 137.3L686.2 150.9L674.4 147.7z"/>
<path fill="#70c6ad" stroke="#70c6ad" d="M519.3 151.3L513.6 167.5L504.0 151.7zM176.4 153.8L160.4 164.2L160.9 154.1z"/>
<path fill="#e2e02e" stroke="#e2e02e" d="M648.1 167.7L661.4 169.1L652.3 178.7zM468.8 169.2L483.3 164.5L472.5 180.8zM577.4 181.5L564.6 167.7L583.2 168.3zM564.6 167.7L577.4 181.5L563.1 182.9z"/>
<path fill="#e3e12e" stroke="#e3e12e" d="M648.1 167.7L640.4 182.2L639.5 168.1z"/>
<path fill="#f2df27" stroke="#f2df27" d="M640.4 182.2L648.1 167.7L652.3 178.7z"/>
<path fill="#fcc811" stroke="#fcc811" d="M649.0 195.6L640.4 182.2L652.3 178.7z"/>
<path fill="#e12f2b" stroke="#e12f2b" d="M649.0 195.6L670.5 203.1L652.5 213.7zM289.6 257.2L293.9 238.3L309.3 239.4zM695.9 180.4L689.5 197.3L680.9 179.7z"/>
<path fill="#f58b1f" stroke="#f58b1f" d="M649.0 195.6L652.3 178.7L667.4 180.2z"/>
<path fill="#e8482a" stroke="#e8482a" d="M670.5 203.1L649.0 195.6L667.4 180.2z"/>
<path fill="#f58820" stroke="#f58820" d="M621.0 198.3L603.5 203.5L607.4 184.3zM708.0 163.4L695.9 180.4L692.1 165.5zM289.5 196.0L293.7 213.7L279.3 214.4z"/>
<path fill="#e94e2a" stroke="#e94e2a" d="M611.2 216.2L603.5 203.5L621.0 198.3zM293.9 238.3L312.3 214.8L309.3 239.4zM293.7 213.7L312.3 214.8L293.9 238.3z"/>
<path fill="#eb5729" stroke="#eb5729" d="M586.3 197.7L603.5 203.5L596.6 216.9z"/>
<path fill="#3a6fb5" stroke="#3a6fb5" d="M634.6 136.2L647.6 136.0L638.6 147.8z"/>
<path fill="#3359aa" stroke="#3359aa" d="M634.6 136.2L645.4 119.3L647.6 136.0z"/>
<path fill="#3d84c1" stroke="#3d84c1" d="M634.6 136.2L625.2 150.4L620.8 137.3zM290.7 137.5L283.0 149.8L277.9 138.5zM398.5 139.1L388.1 154.3L386.3 134.1zM658.6 138.9L648.4 153.3L647.6 136.0z"/>
<path fill="#3660ad" stroke="#3660ad" d="M625.3 119.3L634.6 136.2L620.8 137.3zM497.5 136.9L488.3 133.5L497.2 119.3zM301.2 139.3L290.7 137.5L298.2 119.3zM506.3 119.3L511.7 138.7L497.5 136.9z"/>
<path fill="#3357a9" stroke="#3357a9" d="M658.6 138.9L667.7 119.3L672.9 134.0zM521.6 137.9L530.9 119.3L538.4 138.6z"/>
<path fill="#32469d" stroke="#32469d" d="M555.4 119.3L550.2 136.5L539.9 119.3z"/>
<path fill="#355dac" stroke="#355dac" d="M550.2 136.5L538.4 138.6L539.9 119.3z"/>
<path fill="#53b7dd" stroke="#53b7dd" d="M554.3 154.3L563.1 139.1L570.0 153.3z"/>
<path fill="#f9a41c" stroke="#f9a41c" d="M603.5 203.5L591.1 183.8L607.4 184.3z"/>
<path fill="#f48520" stroke="#f48520" d="M591.1 183.8L603.5 203.5L586.3 197.7zM540.0 198.3L518.1 196.2L530.9 185.3z"/>
<path fill="#3255a7" stroke="#3255a7" d="M598.9 119.3L609.1 133.7L600.0 135.6zM239.0 133.3L239.1 119.3L250.2 134.1z"/>
<path fill="#3c7bbc" stroke="#3c7bbc" d="M608.8 150.4L609.1 133.7L620.8 137.3zM134.9 119.3L128.1 135.9L122.7 119.3zM521.6 137.9L538.4 138.6L531.6 154.0zM541.1 154.1L538.4 138.6L550.2 136.5z"/>
<path fill="#b1d235" stroke="#b1d235" d="M160.4 164.2L176.7 167.8L171.8 185.4z"/>
<path fill="#dfe02e" stroke="#dfe02e" d="M155.1 179.3L160.4 164.2L171.8 185.4z"/>
<path fill="#89c769" stroke="#89c769" d="M160.4 164.2L146.8 162.7L160.9 154.1z"/>
<path fill="#afd136" stroke="#afd136" d="M160.4 164.2L155.1 179.3L146.8 162.7z"/>
<path fill="#70c6ac" stroke="#70c6ac" d="M147.4 148.3L146.8 162.7L135.3 150.7z"/>
<path fill="#72c6a9" stroke="#72c6a9" d="M146.8 162.7L147.4 148.3L160.9 154.1z"/>
<path fill="#5ec5e0" stroke="#5ec5e0" d="M147.4 148.3L151.7 137.7L160.9 154.1zM141.1 136.9L147.4 148.3L135.3 150.7z"/>
<path fill="#449ad0" stroke="#449ad0" d="M189.2 139.8L203.6 133.7L200.1 151.8z"/>
<path fill="#62c5d4" stroke="#62c5d4" d="M176.4 153.8L189.2 139.8L192.8 154.5z"/>
<path fill="#449cd2" stroke="#449cd2" d="M189.2 139.8L176.4 153.8L179.7 134.8z"/>
<path fill="#f6941e" stroke="#f6941e" d="M186.3 221.4L182.5 198.1L201.3 214.0z"/>
<path fill="#fbb716" stroke="#fbb716" d="M182.5 198.1L186.2 184.1L205.7 200.8z"/>
<path fill="#f37c21" stroke="#f37c21" d="M182.5 198.1L171.6 218.4L165.4 203.0z"/>
<path fill="#ef6b25" stroke="#ef6b25" d="M171.6 218.4L182.5 198.1L186.3 221.4z"/>
<path fill="#fbb915" stroke="#fbb915" d="M182.5 198.1L165.4 203.0L171.8 185.4z"/>
<path fill="#314da2" stroke="#314da2" d="M470.5 119.3L481.1 119.3L476.7 137.0zM488.3 133.5L481.1 119.3L497.2 119.3zM239.0 133.3L226.7 119.3L239.1 119.3z"/>
<path fill="#f38021" stroke="#f38021" d="M440.0 199.4L456.0 200.7L448.7 215.3zM517.4 178.1L518.1 196.2L506.0 197.8z"/>
<path fill="#f17124" stroke="#f17124" d="M456.0 200.7L468.3 214.5L448.7 215.3z"/>
<path fill="#f7981e" stroke="#f7981e" d="M456.0 200.7L470.1 197.6L468.3 214.5zM432.8 213.8L417.7 199.5L440.0 199.4z"/>
<path fill="#7cc68d" stroke="#7cc68d" d="M468.8 169.2L475.6 147.7L483.3 164.5z"/>
<path fill="#3c80bf" stroke="#3c80bf" d="M413.6 137.8L428.3 138.2L423.8 148.7zM563.1 139.1L575.1 133.8L570.0 153.3zM511.7 138.7L521.6 137.9L519.3 151.3z"/>
<path fill="#3865b0" stroke="#3865b0" d="M426.9 119.3L428.3 138.2L413.6 137.8zM151.7 137.7L141.1 136.9L143.4 119.3z"/>
<path fill="#fab317" stroke="#fab317" d="M417.7 199.5L427.9 179.2L440.0 199.4z"/>
<path fill="#fdcf0e" stroke="#fdcf0e" d="M412.8 185.6L417.7 199.5L399.1 199.2z"/>
<path fill="#c6d830" stroke="#c6d830" d="M394.3 185.0L395.0 165.2L412.8 185.6z"/>
<path fill="#9fcd3d" stroke="#9fcd3d" d="M395.0 165.2L411.6 163.1L412.8 185.6z"/>
<path fill="#c4d830" stroke="#c4d830" d="M439.4 179.3L425.2 165.3L439.7 162.6z"/>
<path fill="#f8a11d" stroke="#f8a11d" d="M439.4 179.3L456.0 200.7L440.0 199.4z"/>
<path fill="#e53f2a" stroke="#e53f2a" d="M499.7 220.7L488.4 203.0L506.0 197.8z"/>
<path fill="#ed5d28" stroke="#ed5d28" d="M468.3 214.5L488.4 203.0L485.6 217.3z"/>
<path fill="#f06f24" stroke="#f06f24" d="M470.1 197.6L488.4 203.0L468.3 214.5z"/>
<path fill="#f58e1f" stroke="#f58e1f" d="M506.0 197.8L488.4 203.0L490.5 178.9z"/>
<path fill="#fdcd0f" stroke="#fdcd0f" d="M488.4 203.0L472.5 180.8L490.5 178.9z"/>
<path fill="#faad19" stroke="#faad19" d="M488.4 203.0L470.1 197.6L472.5 180.8zM518.1 196.2L517.4 178.1L530.9 185.3z"/>
<path fill="#4bacda" stroke="#4bacda" d="M283.0 149.8L290.7 137.5L295.0 152.5z"/>
<path fill="#3b75b8" stroke="#3b75b8" d="M239.9 148.8L239.0 133.3L250.2 134.1z"/>
<path fill="#3c7abb" stroke="#3c7abb" d="M228.9 136.9L239.0 133.3L239.9 148.8z"/>
<path fill="#94ca54" stroke="#94ca54" d="M187.6 167.5L204.1 165.4L202.9 182.4z"/>
<path fill="#84c674" stroke="#84c674" d="M204.1 165.4L212.9 164.6L202.9 182.4zM489.8 150.3L498.2 164.4L483.3 164.5z"/>
<path fill="#76c69e" stroke="#76c69e" d="M204.1 165.4L187.6 167.5L192.8 154.5z"/>
<path fill="#70c6ae" stroke="#70c6ae" d="M212.9 164.6L204.1 165.4L200.1 151.8z"/>
<path fill="#66c6c9" stroke="#66c6c9" d="M269.3 164.2L266.7 152.7L283.7 162.5z"/>
<path fill="#5cc3e0" stroke="#5cc3e0" d="M266.7 152.7L283.0 149.8L283.7 162.5z"/>
<path fill="#4297ce" stroke="#4297ce" d="M263.0 138.6L266.7 152.7L254.9 149.6z"/>
<path fill="#4aa9da" stroke="#4aa9da" d="M283.0 149.8L266.7 152.7L277.9 138.5zM489.8 150.3L497.5 136.9L504.0 151.7z"/>
<path fill="#64c5cf" stroke="#64c5cf" d="M266.7 152.7L269.3 164.2L256.4 162.6z"/>
<path fill="#fbd212" stroke="#fbd212" d="M260.6 183.0L267.2 203.8L256.4 200.7z"/>
<path fill="#f5db20" stroke="#f5db20" d="M279.7 179.8L267.2 203.8L260.6 183.0z"/>
<path fill="#9ecc40" stroke="#9ecc40" d="M245.6 181.5L234.0 183.7L244.9 164.4z"/>
<path fill="#e9e22e" stroke="#e9e22e" d="M234.0 183.7L245.6 181.5L237.9 201.5z"/>
<path fill="#e94f2a" stroke="#e94f2a" d="M695.9 180.4L708.0 163.4L716.0 180.5z"/>
<path fill="#f17623" stroke="#f17623" d="M695.9 180.4L680.9 179.7L692.1 165.5z"/>
<path fill="#3252a5" stroke="#3252a5" d="M685.2 137.3L684.0 119.3L692.6 119.3z"/>
<path fill="#fad415" stroke="#fad415" d="M499.8 179.1L506.0 197.8L490.5 178.9zM300.7 196.1L289.5 196.0L290.8 178.1z"/>
<path fill="#e6422a" stroke="#e6422a" d="M518.2 219.4L499.7 220.7L506.0 197.8z"/>
<path fill="#3d85c2" stroke="#3d85c2" d="M663.7 149.3L658.6 138.9L672.9 134.0z"/>
<path fill="#99cb49" stroke="#99cb49" d="M676.6 168.2L663.7 149.3L674.4 147.7z"/>
<path fill="#d0db2f" stroke="#d0db2f" d="M661.4 169.1L663.7 149.3L676.6 168.2z"/>
<path fill="#3d86c3" stroke="#3d86c3" d="M584.5 139.1L600.0 135.6L599.2 151.3z"/>
<path fill="#314ca2" stroke="#314ca2" d="M538.4 138.6L530.9 119.3L539.9 119.3z"/>
<path fill="#ede32e" stroke="#ede32e" d="M530.9 185.3L539.6 164.6L548.3 180.8zM289.5 196.0L279.7 179.8L290.8 178.1z"/>
<path fill="#d6dd2f" stroke="#d6dd2f" d="M596.3 167.0L591.1 183.8L583.2 168.3z"/>
<path fill="#84c676" stroke="#84c676" d="M611.6 163.7L625.2 150.4L624.8 163.7z"/>
<path fill="#65c6cd" stroke="#65c6cd" d="M611.6 163.7L608.8 150.4L625.2 150.4z"/>
<path fill="#c6d92f" stroke="#c6d92f" d="M596.3 167.0L611.6 163.7L607.4 184.3z"/>
<path fill="#efe42e" stroke="#efe42e" d="M611.6 163.7L621.5 181.0L607.4 184.3z"/>
<path fill="#47a3d6" stroke="#47a3d6" d="M147.4 148.3L141.1 136.9L151.7 137.7z"/>
<path fill="#52b5dd" stroke="#52b5dd" d="M128.1 135.9L141.1 136.9L135.3 150.7z"/>
<path fill="#3b78ba" stroke="#3b78ba" d="M134.9 119.3L141.1 136.9L128.1 135.9z"/>
<path fill="#3867b0" stroke="#3867b0" d="M460.0 136.2L470.5 119.3L476.7 137.0z"/>
<path fill="#3f8ec8" stroke="#3f8ec8" d="M428.3 138.2L438.2 151.8L423.8 148.7z"/>
<path fill="#68c6c2" stroke="#68c6c2" d="M425.2 165.3L438.2 151.8L439.7 162.6z"/>
<path fill="#55b8de" stroke="#55b8de" d="M438.2 151.8L425.2 165.3L423.8 148.7z"/>
<path fill="#4194cc" stroke="#4194cc" d="M488.3 133.5L489.8 150.3L476.7 137.0z"/>
<path fill="#55b9de" stroke="#55b9de" d="M489.8 150.3L475.6 147.7L476.7 137.0z"/>
<path fill="#408fc8" stroke="#408fc8" d="M489.8 150.3L488.3 133.5L497.5 136.9z"/>
<path fill="#60c5dc" stroke="#60c5dc" d="M475.6 147.7L489.8 150.3L483.3 164.5z"/>
<path fill="#6ec6b2" stroke="#6ec6b2" d="M462.6 148.4L468.8 169.2L451.4 164.0z"/>
<path fill="#63c5d2" stroke="#63c5d2" d="M468.8 169.2L462.6 148.4L475.6 147.7z"/>
<path fill="#3661ae" stroke="#3661ae" d="M440.3 136.9L428.3 138.2L438.9 119.3z"/>
<path fill="#3969b1" stroke="#3969b1" d="M440.3 136.9L446.4 119.3L451.4 138.5z"/>
<path fill="#f27723" stroke="#f27723" d="M413.0 214.5L432.8 213.8L414.3 233.2z"/>
<path fill="#eb5629" stroke="#eb5629" d="M444.3 236.9L432.8 213.8L448.7 215.3z"/>
<path fill="#4091ca" stroke="#4091ca" d="M378.7 135.7L388.1 154.3L372.9 148.6z"/>
<path fill="#3b71b6" stroke="#3b71b6" d="M388.1 154.3L378.7 135.7L386.3 134.1z"/>
<path fill="#d4dc2f" stroke="#d4dc2f" d="M459.5 179.8L439.4 179.3L451.4 164.0zM499.8 179.1L498.2 164.4L513.6 167.5z"/>
<path fill="#f8d719" stroke="#f8d719" d="M439.4 179.3L459.5 179.8L456.0 200.7z"/>
<path fill="#fad414" stroke="#fad414" d="M470.1 197.6L459.5 179.8L472.5 180.8z"/>
<path fill="#f9a51c" stroke="#f9a51c" d="M456.0 200.7L459.5 179.8L470.1 197.6z"/>
<path fill="#e8492a" stroke="#e8492a" d="M273.2 233.3L279.3 214.4L293.9 238.3z"/>
<path fill="#bcd532" stroke="#bcd532" d="M513.6 167.5L498.2 164.4L504.0 151.7z"/>
<path fill="#69c6c0" stroke="#69c6c0" d="M498.2 164.4L489.8 150.3L504.0 151.7z"/>
<path fill="#e4e12e" stroke="#e4e12e" d="M498.2 164.4L499.8 179.1L490.5 178.9z"/>
<path fill="#faab1a" stroke="#faab1a" d="M540.0 198.3L530.9 185.3L548.3 180.8z"/>
<path fill="#e53c2a" stroke="#e53c2a" d="M518.2 219.4L540.0 198.3L543.2 214.8z"/>
<path fill="#d1dc2f" stroke="#d1dc2f" d="M539.6 164.6L552.2 165.2L548.3 180.8z"/>
<path fill="#faac1a" stroke="#faac1a" d="M577.4 181.5L566.7 196.6L563.1 182.9z"/>
<path fill="#fdd00e" stroke="#fdd00e" d="M577.4 181.5L591.1 183.8L586.3 197.7z"/>
<path fill="#ccda2f" stroke="#ccda2f" d="M648.1 167.7L648.4 153.3L661.4 169.1z"/>
<path fill="#bfd632" stroke="#bfd632" d="M648.4 153.3L648.1 167.7L639.5 168.1z"/>
<path fill="#58bcdf" stroke="#58bcdf" d="M663.7 149.3L648.4 153.3L658.6 138.9z"/>
<path fill="#31499f" stroke="#31499f" d="M586.5 119.3L575.1 133.8L573.9 119.3z"/>
<path fill="#3358a9" stroke="#3358a9" d="M584.5 139.1L575.1 133.8L586.5 119.3z"/>
<path fill="#31489f" stroke="#31489f" d="M575.1 133.8L563.3 119.3L573.9 119.3z"/>
<path fill="#50b1dc" stroke="#50b1dc" d="M585.8 151.0L584.5 139.1L599.2 151.3z"/>
<path fill="#66c6cb" stroke="#66c6cb" d="M596.3 167.0L585.8 151.0L599.2 151.3z"/>
<path fill="#93c955" stroke="#93c955" d="M585.8 151.0L596.3 167.0L583.2 168.3z"/>
<path fill="#67c6c6" stroke="#67c6c6" d="M585.8 151.0L583.2 168.3L570.0 153.3z"/>
<path fill="#4eafdb" stroke="#4eafdb" d="M584.5 139.1L585.8 151.0L570.0 153.3z"/>
<path fill="#355dab" stroke="#355dab" d="M521.6 137.9L511.7 138.7L516.4 119.3z"/>
<path fill="#6ec6b3" stroke="#6ec6b3" d="M541.1 154.1L539.6 164.6L531.6 154.0z"/>
<path fill="#4fb0db" stroke="#4fb0db" d="M538.4 138.6L541.1 154.1L531.6 154.0z"/>
<path fill="#6bc6ba" stroke="#6bc6ba" d="M552.2 165.2L541.1 154.1L554.3 154.3zM523.5 169.0L519.3 151.3L531.6 154.0z"/>
<path fill="#87c66c" stroke="#87c66c" d="M541.1 154.1L552.2 165.2L539.6 164.6z"/>
<path fill="#4cacda" stroke="#4cacda" d="M554.3 154.3L541.1 154.1L550.2 136.5z"/>
<path fill="#97ca4d" stroke="#97ca4d" d="M539.6 164.6L523.5 169.0L531.6 154.0z"/>
<path fill="#bad533" stroke="#bad533" d="M523.5 169.0L513.6 167.5L519.3 151.3z"/>
<path fill="#5ec4e1" stroke="#5ec4e1" d="M452.3 150.4L462.6 148.4L451.4 164.0z"/>
<path fill="#65c6ce" stroke="#65c6ce" d="M452.3 150.4L451.4 164.0L439.7 162.6z"/>
<path fill="#5dc4e1" stroke="#5dc4e1" d="M438.2 151.8L452.3 150.4L439.7 162.6z"/>
<path fill="#4296cd" stroke="#4296cd" d="M462.6 148.4L452.3 150.4L451.4 138.5z"/>
<path fill="#3d87c3" stroke="#3d87c3" d="M452.3 150.4L440.3 136.9L451.4 138.5z"/>
<path fill="#60c5da" stroke="#60c5da" d="M384.9 164.7L368.2 166.8L372.9 148.6z"/>
<path fill="#59bedf" stroke="#59bedf" d="M388.1 154.3L384.9 164.7L372.9 148.6z"/>
<path fill="#62c5d5" stroke="#62c5d5" d="M384.9 164.7L388.1 154.3L395.0 165.2z"/>
<path fill="#7ac692" stroke="#7ac692" d="M384.9 164.7L384.6 185.7L368.2 166.8z"/>
<path fill="#cada2f" stroke="#cada2f" d="M384.6 185.7L384.9 164.7L394.3 185.0z"/>
<path fill="#7dc68a" stroke="#7dc68a" d="M384.9 164.7L395.0 165.2L394.3 185.0z"/>
<path fill="#408fc9" stroke="#408fc9" d="M402.7 151.0L398.5 139.1L410.2 149.9z"/>
<path fill="#4398cf" stroke="#4398cf" d="M402.7 151.0L388.1 154.3L398.5 139.1z"/>
<path fill="#5ec5e1" stroke="#5ec5e1" d="M388.1 154.3L402.7 151.0L395.0 165.2z"/>
<path fill="#61c5d7" stroke="#61c5d7" d="M395.0 165.2L402.7 151.0L411.6 163.1z"/>
<path fill="#f07024" stroke="#f07024" d="M279.3 214.4L293.7 213.7L293.9 238.3z"/>
<path fill="#6fc6b0" stroke="#6fc6b0" d="M564.6 167.7L554.3 154.3L570.0 153.3z"/>
<path fill="#d4dd2f" stroke="#d4dd2f" d="M552.2 165.2L564.6 167.7L563.1 182.9z"/>
<path fill="#90c95b" stroke="#90c95b" d="M583.2 168.3L564.6 167.7L570.0 153.3z"/>
<path fill="#e3362b" stroke="#e3362b" d="M556.9 213.3L566.7 196.6L580.9 213.6z"/>
<path fill="#f27722" stroke="#f27722" d="M552.3 203.5L540.0 198.3L548.3 180.8z"/>
<path fill="#f7951e" stroke="#f7951e" d="M566.7 196.6L552.3 203.5L563.1 182.9z"/>
<path fill="#ec5929" stroke="#ec5929" d="M556.9 213.3L552.3 203.5L566.7 196.6z"/>
<path fill="#fcc711" stroke="#fcc711" d="M499.8 179.1L517.4 178.1L506.0 197.8z"/>
<path fill="#f37f21" stroke="#f37f21" d="M333.2 215.0L312.3 214.8L319.6 200.1z"/>
<path fill="#ede42e" stroke="#ede42e" d="M308.8 183.3L300.7 196.1L290.8 178.1z"/>
<path fill="#f8a01d" stroke="#f8a01d" d="M289.5 196.0L300.7 196.1L293.7 213.7z"/>
<path fill="#bf2126" stroke="#bf2126" stroke-width="0.5" d="M110.0 298.6L119.6 307.5L138.8 294.8L162.5 305.6L171.6 313.3L201.1 316.1L196.1 333.3L204.2 355.6L201.1 380.9L110.0 380.9z"/>
<path fill="#d6252a" stroke="#d6252a" stroke-width="0.5" d="M201.1 323.1L212.6 330.1L250.1 333.6L246.7 354.3L250.1 380.9L201.1 380.9L207.6 368.2L197.8 349.8z"/>
<path fill="#c42227" stroke="#c42227" stroke-width="0.5" d="M418.2 380.9L423.0 374.8L421.7 347.6L440.8 345.3L460.3 330.1L467.7 330.5L481.3 312.6L490.8 312.6L505.8 302.1L509.3 288.0L520.8 278.6L530.3 260.0L541.3 264.4L565.3 256.5L577.9 258.8L600.4 246.0L617.0 249.0L635.4 235.5L646.8 237.5L670.4 221.5L685.1 225.9L701.1 213.8L731.7 221.5L731.7 380.9z"/>
<path fill="#a71d22" stroke="#a71d22" stroke-width="0.5" d="M509.3 380.9L515.5 364.9L507.7 341.6L516.7 323.6L512.8 302.1L528.0 299.5L544.3 288.0L559.4 292.0L575.8 284.5L590.8 279.9L596.4 260.6L617.9 253.0L634.7 253.5L652.4 236.1L670.4 239.0L679.1 244.4L709.3 229.3L731.7 235.5L731.7 380.9z"/>
<path fill="#8c181b" stroke="#8c181b" stroke-width="0.5" d="M544.3 380.9L551.2 363.3L544.3 340.6L558.7 339.7L574.8 323.6L607.4 316.1L618.4 310.9L627.3 288.7L656.4 274.0L676.4 272.6L705.4 260.0L712.6 268.7L731.7 263.5L731.7 380.9z"/>
<path fill="#761416" stroke="#761416" stroke-width="0.5" d="M635.4 380.9L646.6 371.8L656.4 347.6L666.4 341.6L675.9 309.2L696.4 298.4L705.4 277.5L714.1 286.2L731.7 291.5L731.7 380.9z"/>
</g></g>
<g stroke="#3a3a3a" stroke-width="1.15" fill="none">
<path d="M110.50 122.30V392.50"/>
<path d="M97.90 122.70H110.50"/>
<path d="M97.90 201.64H110.50"/>
<path d="M97.90 280.58H110.50"/>
<path d="M97.90 359.52H110.50"/>
<path d="M242.30 379.00V392.50"/>
<path d="M373.50 379.00V392.50"/>
<path d="M504.70 379.00V392.50"/>
<path d="M635.90 379.00V392.50"/>
</g>
<path d="M111.00 379.00H727.90" stroke="#000" stroke-opacity="0.22" stroke-width="1" fill="none"/>
<text class="t" x="90.9" y="129.7" text-anchor="end">0</text>
<text class="t" x="90.9" y="208.6" text-anchor="end">-20</text>
<text class="t" x="90.9" y="287.6" text-anchor="end">-40</text>
<text class="t" x="90.9" y="366.5" text-anchor="end">-60</text>
<text class="t" x="111.4" y="423.0" text-anchor="middle">0</text>
<text class="t" x="242.6" y="423.0" text-anchor="middle">50</text>
<text class="t" x="373.8" y="423.0" text-anchor="middle">100</text>
<text class="t" x="505.0" y="423.0" text-anchor="middle">150</text>
<text class="t" x="636.2" y="423.0" text-anchor="middle">200</text>
<text class="l" x="441.4" y="452.9" text-anchor="middle">Distance (m)</text>
<text class="l" transform="translate(41.6 242.1) rotate(-90)" text-anchor="middle">Depth (m)</text>
<text class="l" x="108.2" y="117.4">NNW</text>
<text class="l" x="432.8" y="117.4" text-anchor="middle">Profile-12</text>
<text class="l" x="729.0" y="117.4" text-anchor="end">SSE</text>
<path d="M111.9 124.7L116.3 130.0L120.7 134.8L125.1 139.2L129.5 143.2L133.9 146.4L138.3 149.0L142.7 151.2L147.1 152.6L151.5 153.6L155.9 154.4L160.3 155.0L164.7 155.6L169.1 156.2L173.5 156.7L177.9 157.2L182.3 157.6L186.7 158.0L191.1 158.3L195.5 158.7L199.9 159.0L204.3 159.3L208.7 159.6L213.1 159.7L217.5 159.8L221.8 159.8L226.2 159.9L230.6 159.9L235.0 159.9L239.4 159.9L243.8 160.0L248.2 160.0L252.6 160.0L257.0 160.0L261.4 160.0L265.8 160.0L270.2 160.0L274.6 160.0L279.0 159.9L283.4 159.8L287.8 159.7L292.2 159.6L296.6 159.5L301.0 159.3L305.4 159.2L309.8 159.1L314.2 159.1L318.6 159.0L323.0 159.0L327.4 159.0L331.8 159.1L336.2 159.2L340.6 159.2L345.0 159.3L349.4 159.5L353.8 159.6L358.2 159.7L362.6 159.9L367.0 160.0L371.4 160.1L375.8 160.3L380.2 160.5L384.6 160.7L389.0 161.0L393.4 161.3L397.8 161.5L402.2 161.7L406.6 161.8L411.0 161.7L415.4 161.5L419.8 161.3L424.2 160.9L428.6 160.5L433.0 160.0L437.4 159.4L441.8 158.8L446.2 158.3L450.6 157.8L455.0 157.3L459.4 156.9L463.8 156.5L468.2 156.1L472.6 155.8L477.0 155.4L481.4 155.1L485.8 154.8L490.2 154.6L494.6 154.4L499.0 154.2L503.4 154.1L507.8 153.9L512.2 153.8L516.5 153.6L520.9 153.5L525.3 153.4L529.7 153.4L534.1 153.3L538.5 153.2L542.9 153.2L547.3 153.1L551.7 153.1L556.1 153.0L560.5 152.9L564.9 152.9L569.3 152.8L573.7 152.7L578.1 152.6L582.5 152.5L586.9 152.4L591.3 152.3L595.7 152.2L600.1 152.1L604.5 152.0L608.9 151.8L613.3 151.7L617.7 151.5L622.1 151.4L626.5 151.2L630.9 151.0L635.3 150.8L639.7 150.5L644.1 150.3L648.5 150.0L652.9 149.6L657.3 149.3L661.7 148.8L666.1 148.2L670.5 147.6L674.9 147.0L679.3 146.2L683.7 145.4L688.1 144.5L692.5 143.4L696.9 142.0L701.3 140.4L705.7 138.3L710.1 135.7L714.5 132.7L718.9 128.9L723.3 124.3" fill="none" stroke="#0d0d0d" stroke-width="1.5" stroke-linecap="round" stroke-dasharray="1.7 5.5"/>
<text class="z" x="417.5" y="145.2" text-anchor="middle">weathered zones</text>
<text class="z" x="289.9" y="311.2" text-anchor="middle">massive</text>
<text class="z" x="289.9" y="333.8" text-anchor="middle">granite</text>
<text class="z" x="632.9" y="311.2" text-anchor="middle">massive</text>
<text class="z" x="632.9" y="333.8" text-anchor="middle">granite</text>
<rect x="744.50" y="122.70" width="32.05" height="253.60" fill="url(#jet)" stroke="#150c0c" stroke-width="1"/>
<path d="M776.45 187.10h-3.2" stroke="#151515" stroke-width="1"/>
<path d="M776.45 250.70h-3.2" stroke="#151515" stroke-width="1"/>
<path d="M776.45 314.30h-3.2" stroke="#151515" stroke-width="1"/>
<text class="t" x="781.2" y="130.9">5</text>
<text class="t" x="781.2" y="194.4">4</text>
<text class="t" x="781.2" y="257.9">3</text>
<text class="t" x="781.2" y="321.7">2</text>
<text class="l" transform="translate(820.5 227.0) rotate(-90)" text-anchor="middle">Log<tspan font-size="16.5" dy="5.2">10</tspan><tspan dy="-5.2">(Ω.m)</tspan></text>
<rect x="18.64" y="334.46" width="42.70" height="42.74" fill="none" stroke="#0c0c0c" stroke-width="1.2"/>
<text class="k" x="39.8" y="370.1" text-anchor="middle" stroke-width="0.5">a</text>
</g>
<g id="panel-b">
<clipPath id="clipb"><rect x="977.80" y="122.10" width="617.00" height="257.20"/></clipPath>
<g clip-path="url(#clipb)"><g stroke-width="1.5" stroke-linejoin="round" filter="url(#soft)">
<path fill="#951a1d" stroke="#951a1d" d="M1218.5 382.3L1269.4 344.9L1296.7 382.3zM1269.4 344.9L1218.5 382.3L1199.1 337.9zM1218.5 382.3L1162.9 382.3L1199.1 337.9zM1162.9 382.3L1145.3 342.3L1199.1 337.9zM1215.8 315.5L1269.4 344.9L1199.1 337.9zM1111.5 349.0L1162.9 382.3L1088.4 382.3zM1111.5 349.0L1134.5 304.9L1145.3 342.3zM1422.6 382.3L1424.8 336.7L1459.8 382.3zM1269.4 344.9L1308.1 337.3L1296.7 382.3zM1007.7 347.3L974.8 348.2L974.8 316.8zM1007.7 347.3L1012.4 315.7L1057.4 342.0z"/>
<path fill="#d42429" stroke="#d42429" d="M1471.4 313.3L1470.1 286.6L1514.9 312.5zM1470.1 286.6L1471.4 313.3L1438.0 305.3zM1130.2 253.8L1130.2 277.2L1109.6 257.6zM1538.3 285.4L1560.6 307.1L1514.9 312.5zM1166.0 282.9L1162.6 257.3L1185.5 256.6zM1130.2 253.8L1162.6 257.3L1130.2 277.2zM1057.6 274.0L1051.2 252.2L1077.9 256.6zM1402.1 277.3L1418.3 249.9L1447.5 274.6zM1207.9 252.5L1233.6 256.5L1227.9 279.9zM1368.1 275.3L1333.4 277.5L1364.2 257.2zM1368.1 275.3L1386.9 255.5L1402.1 277.3z"/>
<path fill="#a21c21" stroke="#a21c21" d="M1424.8 336.7L1369.6 350.9L1387.5 309.6zM1012.4 315.7L1036.2 281.0L1054.8 308.3zM1092.9 285.0L1099.4 313.4L1054.8 308.3zM1092.9 285.0L1134.5 304.9L1099.4 313.4zM1369.6 350.9L1357.2 305.0L1387.5 309.6zM1307.7 316.3L1269.4 344.9L1265.1 306.8zM1307.7 316.3L1357.2 305.0L1308.1 337.3z"/>
<path fill="#a61d22" stroke="#a61d22" d="M1438.0 305.3L1424.8 336.7L1387.5 309.6zM1215.8 315.5L1186.5 306.0L1193.1 275.1zM1215.8 315.5L1227.9 279.9L1265.1 306.8zM1166.0 282.9L1186.5 306.0L1134.5 304.9z"/>
<path fill="#cc2328" stroke="#cc2328" d="M1471.4 313.3L1424.8 336.7L1438.0 305.3zM1477.5 340.1L1471.4 313.3L1514.9 312.5zM1166.0 282.9L1185.5 256.6L1193.1 275.1zM1207.9 252.5L1227.9 279.9L1193.1 275.1z"/>
<path fill="#991b1e" stroke="#991b1e" d="M1024.9 382.3L1057.4 342.0L1088.4 382.3zM1134.5 304.9L1111.5 349.0L1099.4 313.4zM1422.6 382.3L1334.0 382.3L1369.6 350.9zM1424.8 336.7L1422.6 382.3L1369.6 350.9zM1308.1 337.3L1334.0 382.3L1296.7 382.3zM1334.0 382.3L1308.1 337.3L1369.6 350.9zM1145.3 342.3L1186.5 306.0L1199.1 337.9zM1307.7 316.3L1308.1 337.3L1269.4 344.9z"/>
<path fill="#9d1b20" stroke="#9d1b20" d="M1099.4 313.4L1057.4 342.0L1054.8 308.3zM1269.4 344.9L1215.8 315.5L1265.1 306.8zM1134.5 304.9L1186.5 306.0L1145.3 342.3zM1186.5 306.0L1215.8 315.5L1199.1 337.9zM993.3 281.3L1012.4 315.7L974.8 316.8zM1012.4 315.7L1007.7 347.3L974.8 316.8zM1057.4 342.0L1012.4 315.7L1054.8 308.3zM1308.1 337.3L1357.2 305.0L1369.6 350.9z"/>
<path fill="#8c181b" stroke="#8c181b" d="M1007.7 347.3L1024.9 382.3L974.8 382.3zM1057.4 342.0L1111.5 349.0L1088.4 382.3zM1111.5 349.0L1057.4 342.0L1099.4 313.4zM974.8 348.2L1007.7 347.3L974.8 382.3z"/>
<path fill="#90191c" stroke="#90191c" d="M1007.7 347.3L1057.4 342.0L1024.9 382.3zM1162.9 382.3L1111.5 349.0L1145.3 342.3z"/>
<path fill="#b62025" stroke="#b62025" d="M1270.7 278.7L1295.3 283.1L1265.1 306.8zM1578.8 337.0L1597.8 341.9L1597.8 382.3zM1424.8 336.7L1477.5 340.1L1459.8 382.3zM1477.5 340.1L1530.0 341.4L1519.4 382.3zM1130.2 277.2L1166.0 282.9L1134.5 304.9zM1357.2 305.0L1368.1 275.3L1387.5 309.6z"/>
<path fill="#d02429" stroke="#d02429" d="M1295.3 283.1L1270.7 278.7L1287.6 254.7zM1000.9 255.6L993.3 281.3L974.8 258.9zM1092.9 285.0L1077.9 256.6L1109.6 257.6zM1000.9 255.6L1027.7 254.4L1036.2 281.0zM1027.7 254.4L1051.2 252.2L1036.2 281.0zM1309.5 254.8L1333.4 277.5L1295.3 283.1z"/>
<path fill="#b31f24" stroke="#b31f24" d="M1519.4 382.3L1578.8 337.0L1597.8 382.3zM974.8 276.6L993.3 281.3L974.8 316.8zM1036.2 281.0L1012.4 315.7L993.3 281.3zM1227.9 279.9L1215.8 315.5L1193.1 275.1zM1519.4 382.3L1530.0 341.4L1578.8 337.0zM1402.1 277.3L1438.0 305.3L1387.5 309.6zM1036.2 281.0L1057.6 274.0L1054.8 308.3zM1057.6 274.0L1092.9 285.0L1054.8 308.3z"/>
<path fill="#dc262b" stroke="#dc262b" d="M1490.2 258.3L1470.1 286.6L1464.3 255.9zM1447.5 274.6L1445.4 251.0L1464.3 255.9zM1179.8 231.3L1185.5 256.6L1162.1 236.5zM1179.8 231.3L1202.7 236.5L1185.5 256.6zM1281.3 235.6L1261.6 250.9L1260.8 233.1zM1051.7 237.7L1051.2 252.2L1033.4 239.3zM1490.2 258.3L1511.6 278.3L1470.1 286.6zM1511.6 278.3L1490.2 258.3L1523.8 250.4zM1538.3 285.4L1511.6 278.3L1523.8 250.4zM1597.8 285.9L1584.6 280.4L1597.8 256.4zM1584.6 280.4L1572.7 254.7L1597.8 256.4zM1207.9 252.5L1202.7 236.5L1224.2 236.2zM1547.0 257.6L1562.4 238.6L1572.7 254.7zM1547.0 257.6L1572.7 254.7L1584.6 280.4zM1387.7 238.2L1418.3 249.9L1386.9 255.5zM1345.6 232.3L1374.6 235.9L1364.2 257.2zM1111.1 235.7L1141.5 230.9L1130.2 253.8zM1233.6 256.5L1224.2 236.2L1243.2 238.4zM1007.3 233.0L1000.9 255.6L984.7 236.0zM1027.7 254.4L1007.3 233.0L1033.4 239.3z"/>
<path fill="#da252a" stroke="#da252a" d="M1447.5 274.6L1470.1 286.6L1438.0 305.3zM1470.1 286.6L1447.5 274.6L1464.3 255.9zM1538.3 285.4L1584.6 280.4L1560.6 307.1zM1185.5 256.6L1162.6 257.3L1162.1 236.5zM1470.1 286.6L1511.6 278.3L1514.9 312.5zM1141.5 230.9L1162.6 257.3L1130.2 253.8zM1233.6 256.5L1207.9 252.5L1224.2 236.2zM1261.6 250.9L1233.6 256.5L1243.2 238.4zM1007.3 233.0L1027.7 254.4L1000.9 255.6z"/>
<path fill="#d9252a" stroke="#d9252a" d="M1270.7 278.7L1261.6 250.9L1287.6 254.7zM984.7 236.0L1000.9 255.6L974.8 258.9zM1077.9 256.6L1090.8 236.3L1109.6 257.6zM1309.5 254.8L1295.3 283.1L1287.6 254.7zM1051.2 252.2L1073.6 232.0L1077.9 256.6zM1051.2 252.2L1027.7 254.4L1033.4 239.3zM1584.6 280.4L1597.8 285.9L1597.8 305.0zM1333.4 277.5L1331.7 257.1L1364.2 257.2zM1331.7 257.1L1333.4 277.5L1309.5 254.8zM1386.9 255.5L1418.3 249.9L1402.1 277.3zM1386.9 255.5L1368.1 275.3L1364.2 257.2z"/>
<path fill="#db252a" stroke="#db252a" d="M1260.8 233.1L1261.6 250.9L1243.2 238.4zM974.8 237.8L984.7 236.0L974.8 258.9zM1111.1 235.7L1130.2 253.8L1109.6 257.6zM1310.1 237.0L1309.5 254.8L1287.6 254.7zM1310.1 237.0L1331.7 257.1L1309.5 254.8zM1331.7 257.1L1345.6 232.3L1364.2 257.2zM1261.6 250.9L1281.3 235.6L1287.6 254.7zM1281.3 235.6L1310.1 237.0L1287.6 254.7zM1202.7 236.5L1207.9 252.5L1185.5 256.6zM1547.0 257.6L1584.6 280.4L1538.3 285.4zM1447.5 274.6L1418.3 249.9L1445.4 251.0zM1374.6 235.9L1386.9 255.5L1364.2 257.2zM1162.6 257.3L1141.5 230.9L1162.1 236.5z"/>
<path fill="#e53c2a" stroke="#e53c2a" d="M1198.0 219.0L1179.0 217.9L1189.1 198.1zM1520.6 236.3L1537.8 219.3L1545.2 236.3z"/>
<path fill="#c12227" stroke="#c12227" d="M993.3 281.3L974.8 276.6L974.8 258.9zM1530.0 341.4L1560.6 307.1L1578.8 337.0zM1051.2 252.2L1057.6 274.0L1036.2 281.0zM1333.4 277.5L1368.1 275.3L1357.2 305.0z"/>
<path fill="#ee6726" stroke="#ee6726" d="M974.8 217.4L974.8 198.8L984.6 198.1z"/>
<path fill="#de262b" stroke="#de262b" d="M974.8 237.8L974.8 217.4L984.7 236.0zM1224.2 236.2L1198.0 219.0L1225.3 213.0zM1179.8 231.3L1179.0 217.9L1198.0 219.0zM1202.7 236.5L1179.8 231.3L1198.0 219.0zM1238.3 217.6L1260.3 217.2L1260.8 233.1zM1385.0 219.7L1374.6 235.9L1366.1 221.3zM1141.5 230.9L1150.4 221.6L1162.1 236.5z"/>
<path fill="#c52227" stroke="#c52227" d="M1000.9 255.6L1036.2 281.0L993.3 281.3zM1560.6 307.1L1530.0 341.4L1514.9 312.5zM1530.0 341.4L1477.5 340.1L1514.9 312.5zM1402.1 277.3L1447.5 274.6L1438.0 305.3zM1092.9 285.0L1057.6 274.0L1077.9 256.6z"/>
<path fill="#be2126" stroke="#be2126" d="M1130.2 277.2L1092.9 285.0L1109.6 257.6zM1597.8 305.0L1597.8 341.9L1578.8 337.0zM1477.5 340.1L1424.8 336.7L1471.4 313.3zM1333.4 277.5L1307.7 316.3L1295.3 283.1zM1368.1 275.3L1402.1 277.3L1387.5 309.6z"/>
<path fill="#af1f24" stroke="#af1f24" d="M1092.9 285.0L1130.2 277.2L1134.5 304.9zM1307.7 316.3L1333.4 277.5L1357.2 305.0z"/>
<path fill="#e2312b" stroke="#e2312b" d="M1090.8 236.3L1073.6 232.0L1074.6 221.4zM1233.9 197.8L1248.0 185.5L1250.9 203.5zM1223.2 195.3L1233.9 197.8L1225.3 213.0zM1449.7 214.8L1456.5 239.4L1435.2 239.0zM1456.5 239.4L1482.9 234.0L1464.3 255.9zM1141.5 230.9L1129.3 215.4L1150.4 221.6z"/>
<path fill="#e12f2b" stroke="#e12f2b" d="M1073.6 232.0L1090.8 236.3L1077.9 256.6zM1345.6 232.3L1353.8 218.9L1366.1 221.3zM1435.2 239.0L1456.5 239.4L1445.4 251.0z"/>
<path fill="#ba2025" stroke="#ba2025" d="M1227.9 279.9L1270.7 278.7L1265.1 306.8zM1186.5 306.0L1166.0 282.9L1193.1 275.1z"/>
<path fill="#c92328" stroke="#c92328" d="M1560.6 307.1L1597.8 305.0L1578.8 337.0zM1162.6 257.3L1166.0 282.9L1130.2 277.2zM1227.9 279.9L1233.6 256.5L1270.7 278.7z"/>
<path fill="#ab1e23" stroke="#ab1e23" d="M1477.5 340.1L1519.4 382.3L1459.8 382.3zM1295.3 283.1L1307.7 316.3L1265.1 306.8z"/>
<path fill="#df292b" stroke="#df292b" d="M1482.9 234.0L1490.2 258.3L1464.3 255.9zM1260.3 217.2L1275.8 219.9L1260.8 233.1zM1260.3 217.2L1238.3 217.6L1250.9 203.5zM1281.3 235.6L1275.8 219.9L1298.3 216.0zM1545.2 236.3L1547.0 257.6L1523.8 250.4z"/>
<path fill="#e0e02e" stroke="#e0e02e" d="M1226.9 152.4L1235.7 163.6L1220.6 166.6zM1156.9 178.8L1156.1 203.7L1143.8 181.9zM1138.9 197.4L1130.1 181.3L1143.8 181.9z"/>
<path fill="#f5db20" stroke="#f5db20" d="M1235.7 163.6L1232.8 181.5L1220.6 166.6z"/>
<path fill="#dd262b" stroke="#dd262b" d="M1224.2 236.2L1238.3 217.6L1243.2 238.4zM1238.3 217.6L1224.2 236.2L1225.3 213.0zM1238.3 217.6L1260.8 233.1L1243.2 238.4zM1224.2 236.2L1202.7 236.5L1198.0 219.0zM1233.9 197.8L1238.3 217.6L1225.3 213.0zM1051.2 252.2L1051.7 237.7L1073.6 232.0zM1547.0 257.6L1538.3 285.4L1523.8 250.4zM1374.6 235.9L1387.7 238.2L1386.9 255.5zM1168.9 214.1L1179.8 231.3L1162.1 236.5z"/>
<path fill="#77c699" stroke="#77c699" d="M1169.4 164.4L1181.5 163.0L1175.2 179.3z"/>
<path fill="#3b74b8" stroke="#3b74b8" d="M1162.3 147.6L1169.4 164.4L1150.9 153.3zM1586.3 139.7L1597.8 137.6L1597.8 152.1zM1072.1 164.1L1066.7 153.1L1081.8 153.4z"/>
<path fill="#314ea3" stroke="#314ea3" d="M1236.2 119.1L1247.6 119.1L1240.1 136.2zM1009.9 135.2L999.3 119.1L1010.9 119.1zM1163.8 119.1L1154.9 135.4L1152.1 119.1zM1140.2 119.1L1134.5 134.1L1127.7 119.1zM1134.5 134.1L1116.9 134.9L1127.7 119.1zM1451.7 138.1L1438.2 134.2L1443.0 119.1zM1467.5 135.2L1451.7 138.1L1454.1 119.1z"/>
<path fill="#314ca2" stroke="#314ca2" d="M1282.2 135.5L1271.2 119.1L1281.3 119.1zM1081.1 137.4L1091.4 119.1L1096.4 137.6zM1141.9 136.8L1140.2 119.1L1152.1 119.1z"/>
<path fill="#ed6028" stroke="#ed6028" d="M1275.8 219.9L1288.8 195.9L1298.3 216.0z"/>
<path fill="#3b72b7" stroke="#3b72b7" d="M1282.0 148.4L1279.0 166.9L1264.8 151.2z"/>
<path fill="#f89c1d" stroke="#f89c1d" d="M993.1 180.3L999.8 195.8L984.6 198.1zM1430.3 219.5L1418.6 202.5L1435.6 202.1z"/>
<path fill="#d7252a" stroke="#d7252a" d="M1560.6 307.1L1584.6 280.4L1597.8 305.0zM1511.6 278.3L1538.3 285.4L1514.9 312.5zM1185.5 256.6L1207.9 252.5L1193.1 275.1zM1233.6 256.5L1261.6 250.9L1270.7 278.7z"/>
<path fill="#32459d" stroke="#32459d" d="M1464.9 119.1L1479.9 119.1L1477.2 134.2z"/>
<path fill="#f4dd23" stroke="#f4dd23" d="M999.8 195.8L1011.3 181.0L1022.1 195.4z"/>
<path fill="#f7d81b" stroke="#f7d81b" d="M993.1 180.3L1011.3 181.0L999.8 195.8zM1306.5 195.8L1320.3 179.0L1321.8 203.4z"/>
<path fill="#82c67a" stroke="#82c67a" d="M1026.2 169.1L1011.3 181.0L1009.6 162.9z"/>
<path fill="#31499f" stroke="#31499f" d="M1105.5 134.4L1091.4 119.1L1106.0 119.1zM1502.9 119.1L1491.5 134.7L1492.3 119.1zM1071.4 133.1L1057.1 119.1L1073.0 119.1zM1115.2 119.1L1105.5 134.4L1106.0 119.1z"/>
<path fill="#3252a5" stroke="#3252a5" d="M1091.4 119.1L1105.5 134.4L1096.4 137.6zM1491.5 134.7L1502.9 119.1L1501.8 139.3zM991.8 119.1L999.3 119.1L993.6 136.9zM1154.9 135.4L1141.9 136.8L1152.1 119.1zM1267.7 139.6L1271.2 119.1L1282.2 135.5zM1267.7 139.6L1257.3 136.8L1271.2 119.1zM1467.5 135.2L1464.9 119.1L1477.2 134.2zM1115.2 119.1L1116.9 134.9L1105.5 134.4zM1339.5 119.1L1352.1 134.6L1340.2 137.0zM1386.7 119.1L1389.8 133.7L1377.4 139.4z"/>
<path fill="#3763af" stroke="#3763af" d="M1081.1 137.4L1094.5 152.2L1081.8 153.4zM1176.4 154.5L1162.3 147.6L1178.4 134.9zM1134.5 134.1L1137.7 153.3L1124.1 153.0z"/>
<path fill="#355cab" stroke="#355cab" d="M1094.5 152.2L1081.1 137.4L1096.4 137.6z"/>
<path fill="#314ba1" stroke="#314ba1" d="M1045.6 135.6L1034.4 119.1L1048.5 119.1zM1492.3 119.1L1491.5 134.7L1479.9 119.1zM1562.1 119.1L1551.9 138.8L1548.6 119.1zM1023.4 119.1L1022.5 135.8L1010.9 119.1zM1023.4 119.1L1034.4 119.1L1034.3 133.1zM1371.6 119.1L1365.9 138.6L1360.3 119.1zM1538.2 138.9L1536.8 119.1L1548.6 119.1zM1432.4 119.1L1431.1 139.7L1418.1 119.1z"/>
<path fill="#3150a4" stroke="#3150a4" d="M1034.4 119.1L1045.6 135.6L1034.3 133.1zM1502.9 119.1L1514.0 136.2L1501.8 139.3zM1411.0 119.1L1418.1 119.1L1415.7 137.4zM1071.4 133.1L1084.5 119.1L1081.1 137.4z"/>
<path fill="#314aa0" stroke="#314aa0" d="M1057.1 119.1L1045.6 135.6L1048.5 119.1zM1211.5 119.1L1208.5 139.7L1197.2 119.1zM1257.3 136.8L1247.6 119.1L1254.7 119.1zM1294.1 119.1L1292.5 133.3L1281.3 119.1zM1313.8 119.1L1328.6 119.1L1314.6 132.9zM1116.9 134.9L1115.2 119.1L1127.7 119.1zM1581.6 119.1L1573.6 133.0L1570.3 119.1zM1454.1 119.1L1451.7 138.1L1443.0 119.1zM1371.6 119.1L1386.7 119.1L1377.4 139.4z"/>
<path fill="#314fa3" stroke="#314fa3" d="M1045.6 135.6L1057.1 119.1L1057.8 138.7zM1479.9 119.1L1491.5 134.7L1477.2 134.2zM1405.2 138.4L1389.8 133.7L1394.2 119.1z"/>
<path fill="#3357a8" stroke="#3357a8" d="M1034.3 133.1L1045.6 135.6L1041.0 152.5zM1408.2 147.6L1405.2 138.4L1415.7 137.4z"/>
<path fill="#3a6bb3" stroke="#3a6bb3" d="M1045.6 135.6L1057.6 152.7L1041.0 152.5zM1022.5 135.8L1019.5 150.3L1009.9 135.2z"/>
<path fill="#3662ae" stroke="#3662ae" d="M1057.6 152.7L1045.6 135.6L1057.8 138.7zM1154.9 135.4L1162.3 147.6L1150.9 153.3zM1518.4 149.6L1500.2 153.9L1501.8 139.3z"/>
<path fill="#5fc5df" stroke="#5fc5df" d="M1169.4 164.4L1155.4 168.6L1150.9 153.3z"/>
<path fill="#55b9de" stroke="#55b9de" d="M1155.4 168.6L1136.3 164.9L1150.9 153.3zM1295.8 167.9L1294.3 150.1L1303.3 151.8z"/>
<path fill="#72c6a9" stroke="#72c6a9" d="M1136.3 164.9L1155.4 168.6L1143.8 181.9zM1251.3 163.1L1255.2 149.5L1264.8 151.2z"/>
<path fill="#de272b" stroke="#de272b" d="M1090.8 236.3L1111.1 235.7L1109.6 257.6zM1331.7 257.1L1310.1 237.0L1332.1 230.9zM1345.6 232.3L1331.7 257.1L1332.1 230.9zM1275.8 219.9L1281.3 235.6L1260.8 233.1zM1374.6 235.9L1385.0 219.7L1387.7 238.2zM1417.9 234.3L1418.3 249.9L1387.7 238.2z"/>
<path fill="#ee6626" stroke="#ee6626" d="M1201.8 182.5L1204.1 202.5L1189.1 198.1z"/>
<path fill="#e43b2b" stroke="#e43b2b" d="M1204.1 202.5L1198.0 219.0L1189.1 198.1z"/>
<path fill="#df282b" stroke="#df282b" d="M1198.0 219.0L1204.1 202.5L1225.3 213.0zM1572.7 254.7L1597.8 238.7L1597.8 256.4zM1204.1 202.5L1223.2 195.3L1225.3 213.0zM1418.3 249.9L1435.2 239.0L1445.4 251.0zM1374.6 235.9L1345.6 232.3L1366.1 221.3zM1150.4 221.6L1168.9 214.1L1162.1 236.5zM996.7 213.5L1007.3 233.0L984.7 236.0z"/>
<path fill="#cedb2f" stroke="#cedb2f" d="M1265.4 165.8L1279.0 166.9L1262.9 179.4z"/>
<path fill="#5dc3e1" stroke="#5dc3e1" d="M1279.0 166.9L1265.4 165.8L1264.8 151.2z"/>
<path fill="#95ca51" stroke="#95ca51" d="M1240.3 150.9L1235.7 163.6L1226.9 152.4z"/>
<path fill="#61c5d9" stroke="#61c5d9" d="M1255.2 149.5L1240.3 150.9L1240.1 136.2zM1294.3 150.1L1295.8 167.9L1279.0 166.9z"/>
<path fill="#e12e2b" stroke="#e12e2b" d="M1238.3 217.6L1233.9 197.8L1250.9 203.5zM1051.7 237.7L1050.0 213.8L1074.6 221.4zM1482.9 234.0L1501.5 233.8L1490.2 258.3zM1129.3 215.4L1141.5 230.9L1111.1 235.7z"/>
<path fill="#f6941e" stroke="#f6941e" d="M1248.0 185.5L1232.8 181.5L1235.7 163.6z"/>
<path fill="#e84a2a" stroke="#e84a2a" d="M1248.0 185.5L1233.9 197.8L1232.8 181.5z"/>
<path fill="#e02c2b" stroke="#e02c2b" d="M1310.1 237.0L1281.3 235.6L1298.3 216.0zM1073.6 232.0L1051.7 237.7L1074.6 221.4zM1179.8 231.3L1168.9 214.1L1179.0 217.9zM1417.9 234.3L1387.7 238.2L1407.9 219.9zM1445.4 251.0L1456.5 239.4L1464.3 255.9z"/>
<path fill="#eb5629" stroke="#eb5629" d="M1366.9 197.3L1383.5 200.2L1366.1 221.3zM1581.9 232.3L1575.5 215.4L1597.8 217.6z"/>
<path fill="#f89f1d" stroke="#f89f1d" d="M1383.5 200.2L1366.9 197.3L1369.0 183.0z"/>
<path fill="#314da3" stroke="#314da3" d="M1178.0 119.1L1185.9 119.1L1178.4 134.9zM1526.1 119.1L1536.8 119.1L1529.2 135.9zM1352.1 134.6L1351.8 119.1L1360.3 119.1z"/>
<path fill="#3251a5" stroke="#3251a5" d="M1166.4 133.8L1178.0 119.1L1178.4 134.9zM1154.9 135.4L1163.8 119.1L1166.4 133.8zM1185.9 119.1L1191.5 134.5L1178.4 134.9zM1328.6 119.1L1331.2 134.3L1314.6 132.9zM1514.0 136.2L1526.1 119.1L1529.2 135.9zM1022.5 135.8L1023.4 119.1L1034.3 133.1z"/>
<path fill="#3356a8" stroke="#3356a8" d="M1162.3 147.6L1166.4 133.8L1178.4 134.9zM1022.5 135.8L1009.9 135.2L1010.9 119.1zM1302.3 134.1L1292.5 133.3L1294.1 119.1zM1141.9 136.8L1154.9 135.4L1150.9 153.3zM1514.0 136.2L1518.4 149.6L1501.8 139.3zM1564.3 139.1L1573.6 133.0L1570.4 147.5z"/>
<path fill="#f3de25" stroke="#f3de25" d="M1175.2 179.3L1191.6 183.3L1189.1 198.1z"/>
<path fill="#fcc711" stroke="#fcc711" d="M1191.6 183.3L1201.8 182.5L1189.1 198.1z"/>
<path fill="#46a0d4" stroke="#46a0d4" d="M1162.3 147.6L1176.4 154.5L1169.4 164.4zM986.3 137.6L974.8 132.9L991.8 119.1z"/>
<path fill="#51b3dc" stroke="#51b3dc" d="M1181.5 163.0L1176.4 154.5L1185.4 152.8z"/>
<path fill="#5ec4e1" stroke="#5ec4e1" d="M1176.4 154.5L1181.5 163.0L1169.4 164.4z"/>
<path fill="#3867b0" stroke="#3867b0" d="M1176.4 154.5L1178.4 134.9L1185.4 152.8zM1500.2 153.9L1490.9 152.7L1501.8 139.3z"/>
<path fill="#314ca1" stroke="#314ca1" d="M1224.7 119.1L1219.5 137.1L1211.5 119.1zM1230.2 136.2L1224.7 119.1L1236.2 119.1z"/>
<path fill="#3255a7" stroke="#3255a7" d="M1219.5 137.1L1208.5 139.7L1211.5 119.1zM1491.5 134.7L1490.9 152.7L1477.2 134.2zM1116.9 134.9L1107.7 154.5L1105.5 134.4zM1405.2 138.4L1411.0 119.1L1415.7 137.4zM1071.4 133.1L1066.7 153.1L1057.8 138.7zM1116.9 134.9L1134.5 134.1L1124.1 153.0zM1365.9 138.6L1371.6 119.1L1377.4 139.4zM1573.6 133.0L1581.6 119.1L1586.3 139.7zM1461.2 148.3L1451.7 138.1L1467.5 135.2zM1451.7 138.1L1439.3 151.0L1438.2 134.2z"/>
<path fill="#3f8cc7" stroke="#3f8cc7" d="M1318.6 152.5L1303.3 151.8L1314.6 132.9z"/>
<path fill="#57bbde" stroke="#57bbde" d="M1303.3 151.8L1318.6 152.5L1305.3 169.1zM1334.8 151.2L1343.9 153.8L1337.8 167.3z"/>
<path fill="#314da2" stroke="#314da2" d="M1271.2 119.1L1257.3 136.8L1254.7 119.1zM1586.3 139.7L1581.6 119.1L1597.8 119.1zM1303.2 119.1L1302.3 134.1L1294.1 119.1zM1303.2 119.1L1313.8 119.1L1314.6 132.9zM1573.6 133.0L1562.1 119.1L1570.3 119.1z"/>
<path fill="#3867b1" stroke="#3867b1" d="M1257.3 136.8L1255.2 149.5L1240.1 136.2zM1439.3 151.0L1431.9 167.0L1421.8 151.5z"/>
<path fill="#345bab" stroke="#345bab" d="M1247.6 119.1L1257.3 136.8L1240.1 136.2zM1538.2 138.9L1551.9 138.8L1543.4 151.5z"/>
<path fill="#fcc910" stroke="#fcc910" d="M1267.7 199.7L1248.0 185.5L1262.9 179.4z"/>
<path fill="#e94e2a" stroke="#e94e2a" d="M1248.0 185.5L1267.7 199.7L1250.9 203.5z"/>
<path fill="#e8492a" stroke="#e8492a" d="M1267.7 199.7L1260.3 217.2L1250.9 203.5zM1129.3 215.4L1138.9 197.4L1150.4 221.6z"/>
<path fill="#f58920" stroke="#f58920" d="M1267.7 199.7L1288.8 195.9L1275.8 219.9z"/>
<path fill="#e3352b" stroke="#e3352b" d="M1260.3 217.2L1267.7 199.7L1275.8 219.9zM1597.8 238.7L1581.9 232.3L1597.8 217.6zM1310.1 237.0L1316.6 217.1L1332.1 230.9z"/>
<path fill="#459dd2" stroke="#459dd2" d="M1282.0 148.4L1294.3 150.1L1279.0 166.9z"/>
<path fill="#e02b2b" stroke="#e02b2b" d="M1032.9 215.1L1051.7 237.7L1033.4 239.3zM1562.4 238.6L1547.0 257.6L1545.2 236.3zM1007.3 233.0L1032.9 215.1L1033.4 239.3zM1418.3 249.9L1417.9 234.3L1435.2 239.0z"/>
<path fill="#ee6327" stroke="#ee6327" d="M1051.7 237.7L1032.9 215.1L1050.0 213.8z"/>
<path fill="#f7951e" stroke="#f7951e" d="M1012.2 213.6L999.8 195.8L1022.1 195.4zM1589.7 195.2L1575.5 215.4L1569.1 197.5z"/>
<path fill="#f38121" stroke="#f38121" d="M1032.9 215.1L1012.2 213.6L1022.1 195.4z"/>
<path fill="#f9a81b" stroke="#f9a81b" d="M1033.5 196.8L1053.9 199.6L1050.0 213.8z"/>
<path fill="#f27922" stroke="#f27922" d="M1032.9 215.1L1033.5 196.8L1050.0 213.8zM1331.2 213.0L1316.6 217.1L1321.8 203.4z"/>
<path fill="#fcc611" stroke="#fcc611" d="M1033.5 196.8L1032.9 215.1L1022.1 195.4z"/>
<path fill="#c0d631" stroke="#c0d631" d="M1033.5 196.8L1034.4 180.1L1053.7 185.4z"/>
<path fill="#ebe32e" stroke="#ebe32e" d="M1053.9 199.6L1033.5 196.8L1053.7 185.4zM1251.3 163.1L1248.0 185.5L1235.7 163.6z"/>
<path fill="#f8a01d" stroke="#f8a01d" d="M974.8 198.8L974.8 180.5L984.6 198.1z"/>
<path fill="#fdce0f" stroke="#fdce0f" d="M974.8 180.5L993.1 180.3L984.6 198.1z"/>
<path fill="#dfe02e" stroke="#dfe02e" d="M987.6 169.4L974.8 180.5L974.8 165.1z"/>
<path fill="#eae32e" stroke="#eae32e" d="M974.8 180.5L987.6 169.4L993.1 180.3zM1551.2 201.6L1540.3 201.6L1552.0 179.1zM1340.0 198.4L1320.3 179.0L1338.8 181.5z"/>
<path fill="#345cab" stroke="#345cab" d="M1597.8 137.6L1586.3 139.7L1597.8 119.1zM1439.3 151.0L1451.7 138.1L1453.3 147.3zM1564.3 139.1L1555.3 150.2L1551.9 138.8zM1389.8 133.7L1395.4 149.1L1385.0 151.6z"/>
<path fill="#4192cb" stroke="#4192cb" d="M1586.3 139.7L1583.7 150.7L1570.4 147.5zM1292.5 133.3L1294.3 150.1L1282.0 148.4z"/>
<path fill="#49a8d9" stroke="#49a8d9" d="M1583.7 150.7L1586.3 139.7L1597.8 152.1z"/>
<path fill="#84c676" stroke="#84c676" d="M1588.7 167.4L1597.8 163.0L1597.8 181.9zM1552.0 179.1L1548.9 163.6L1561.5 167.1z"/>
<path fill="#64c5cf" stroke="#64c5cf" d="M1597.8 163.0L1583.7 150.7L1597.8 152.1z"/>
<path fill="#78c698" stroke="#78c698" d="M1583.7 150.7L1597.8 163.0L1588.7 167.4zM1570.8 166.1L1583.7 150.7L1588.7 167.4z"/>
<path fill="#90c85c" stroke="#90c85c" d="M1563.5 180.7L1552.0 179.1L1561.5 167.1z"/>
<path fill="#7ec686" stroke="#7ec686" d="M1548.9 163.6L1552.0 179.1L1534.1 183.9z"/>
<path fill="#e02d2b" stroke="#e02d2b" d="M1597.8 238.7L1572.7 254.7L1581.9 232.3zM1572.7 254.7L1562.4 238.6L1581.9 232.3zM1490.2 258.3L1501.5 233.8L1523.8 250.4zM1109.6 220.7L1111.1 235.7L1090.8 236.3z"/>
<path fill="#3b72b6" stroke="#3b72b6" d="M1490.9 152.7L1477.0 154.3L1477.2 134.2zM1107.7 154.5L1099.6 167.8L1094.5 152.2z"/>
<path fill="#3358a9" stroke="#3358a9" d="M1490.9 152.7L1491.5 134.7L1501.8 139.3zM1230.2 136.2L1236.2 119.1L1240.1 136.2zM1224.7 119.1L1230.2 136.2L1219.5 137.1zM1551.9 138.8L1538.2 138.9L1548.6 119.1zM1431.1 139.7L1421.8 151.5L1415.7 137.4zM1031.1 154.1L1022.5 135.8L1034.3 133.1zM1066.7 153.1L1071.4 133.1L1081.1 137.4zM1451.7 138.1L1461.2 148.3L1453.3 147.3zM1395.4 149.1L1389.8 133.7L1405.2 138.4z"/>
<path fill="#3253a6" stroke="#3253a6" d="M1418.1 119.1L1431.1 139.7L1415.7 137.4zM1057.1 119.1L1071.4 133.1L1057.8 138.7zM1302.3 134.1L1303.2 119.1L1314.6 132.9zM1365.9 138.6L1352.1 134.6L1360.3 119.1zM1562.1 119.1L1564.3 139.1L1551.9 138.8zM1573.6 133.0L1564.3 139.1L1562.1 119.1z"/>
<path fill="#b0d236" stroke="#b0d236" d="M1552.0 179.1L1540.3 201.6L1534.1 183.9z"/>
<path fill="#cbda2f" stroke="#cbda2f" d="M1540.3 201.6L1516.9 200.4L1534.1 183.9zM1193.8 168.6L1191.6 183.3L1175.2 179.3zM1411.5 177.8L1432.3 178.0L1418.6 202.5z"/>
<path fill="#f1e129" stroke="#f1e129" d="M1540.3 201.6L1523.5 220.1L1516.9 200.4zM1282.0 184.1L1291.9 185.1L1288.8 195.9zM1099.1 203.4L1083.1 196.8L1095.5 184.9z"/>
<path fill="#e3372b" stroke="#e3372b" d="M1520.6 236.3L1545.2 236.3L1523.8 250.4zM1168.9 214.1L1150.4 221.6L1156.1 203.7zM1316.6 217.1L1331.2 213.0L1332.1 230.9z"/>
<path fill="#f27a22" stroke="#f27a22" d="M1498.0 217.0L1482.9 234.0L1481.0 213.5z"/>
<path fill="#f89d1d" stroke="#f89d1d" d="M1487.7 201.8L1498.0 217.0L1481.0 213.5z"/>
<path fill="#f9a71b" stroke="#f9a71b" d="M1523.5 220.1L1498.0 217.0L1516.9 200.4zM1340.0 198.4L1352.3 183.9L1349.0 202.9z"/>
<path fill="#3968b1" stroke="#3968b1" d="M999.3 119.1L1009.9 135.2L993.6 136.9zM1530.7 150.4L1538.2 138.9L1543.4 151.5z"/>
<path fill="#4397ce" stroke="#4397ce" d="M991.8 119.1L974.8 132.9L974.8 119.1z"/>
<path fill="#d4dc2f" stroke="#d4dc2f" d="M1011.3 181.0L1026.4 179.5L1022.1 195.4z"/>
<path fill="#ccda2f" stroke="#ccda2f" d="M1026.4 179.5L1033.5 196.8L1022.1 195.4zM1320.3 179.0L1337.8 167.3L1338.8 181.5zM1352.3 183.9L1348.4 164.5L1360.4 168.8z"/>
<path fill="#c5d830" stroke="#c5d830" d="M1033.5 196.8L1026.4 179.5L1034.4 180.1zM992.7 154.4L987.6 169.4L974.8 165.1zM1490.3 184.4L1487.7 201.8L1470.9 184.9z"/>
<path fill="#8fc85d" stroke="#8fc85d" d="M1026.4 179.5L1026.2 169.1L1034.4 180.1z"/>
<path fill="#9fcd3e" stroke="#9fcd3e" d="M1026.2 169.1L1026.4 179.5L1011.3 181.0z"/>
<path fill="#355dac" stroke="#355dac" d="M1066.7 153.1L1081.1 137.4L1081.8 153.4zM1421.8 151.5L1408.2 147.6L1415.7 137.4z"/>
<path fill="#3969b2" stroke="#3969b2" d="M1066.7 153.1L1057.6 152.7L1057.8 138.7zM1255.2 149.5L1267.7 139.6L1264.8 151.2zM1031.1 154.1L1034.3 133.1L1041.0 152.5z"/>
<path fill="#31489f" stroke="#31489f" d="M1081.1 137.4L1084.5 119.1L1091.4 119.1zM1084.5 119.1L1071.4 133.1L1073.0 119.1z"/>
<path fill="#3254a6" stroke="#3254a6" d="M1105.5 134.4L1107.7 154.5L1096.4 137.6zM1134.5 134.1L1140.2 119.1L1141.9 136.8zM1518.4 149.6L1514.0 136.2L1529.2 135.9zM1536.8 119.1L1538.2 138.9L1529.2 135.9z"/>
<path fill="#345baa" stroke="#345baa" d="M1107.7 154.5L1094.5 152.2L1096.4 137.6zM1292.5 133.3L1282.0 148.4L1282.2 135.5z"/>
<path fill="#3763ae" stroke="#3763ae" d="M1107.7 154.5L1116.9 134.9L1124.1 153.0z"/>
<path fill="#95ca52" stroke="#95ca52" d="M1034.4 180.1L1054.2 166.6L1053.7 185.4z"/>
<path fill="#8cc863" stroke="#8cc863" d="M1054.2 166.6L1066.2 178.4L1053.7 185.4z"/>
<path fill="#3e8ac5" stroke="#3e8ac5" d="M1066.7 153.1L1054.2 166.6L1057.6 152.7zM1240.3 150.9L1230.2 136.2L1240.1 136.2zM1531.7 164.3L1530.7 150.4L1543.4 151.5z"/>
<path fill="#3865b0" stroke="#3865b0" d="M1137.7 153.3L1141.9 136.8L1150.9 153.3zM1369.5 153.9L1365.9 138.6L1377.4 139.4zM1352.1 134.6L1365.9 138.6L1355.4 153.8z"/>
<path fill="#3c80bf" stroke="#3c80bf" d="M1136.3 164.9L1137.7 153.3L1150.9 153.3z"/>
<path fill="#9ccc45" stroke="#9ccc45" d="M1155.4 168.6L1156.9 178.8L1143.8 181.9z"/>
<path fill="#99cb4a" stroke="#99cb4a" d="M1156.9 178.8L1169.4 164.4L1175.2 179.3z"/>
<path fill="#79c696" stroke="#79c696" d="M1156.9 178.8L1155.4 168.6L1169.4 164.4z"/>
<path fill="#f7981e" stroke="#f7981e" d="M1169.8 201.4L1175.2 179.3L1189.1 198.1z"/>
<path fill="#e94d2a" stroke="#e94d2a" d="M1179.0 217.9L1169.8 201.4L1189.1 198.1z"/>
<path fill="#ede32e" stroke="#ede32e" d="M1169.8 201.4L1156.9 178.8L1175.2 179.3zM1066.8 195.4L1053.9 199.6L1053.7 185.4z"/>
<path fill="#f9a31c" stroke="#f9a31c" d="M1156.9 178.8L1169.8 201.4L1156.1 203.7zM1555.7 214.9L1551.2 201.6L1569.1 197.5zM1053.9 199.6L1066.8 195.4L1050.0 213.8z"/>
<path fill="#d6dd2f" stroke="#d6dd2f" d="M1240.3 150.9L1251.3 163.1L1235.7 163.6z"/>
<path fill="#7ac692" stroke="#7ac692" d="M1251.3 163.1L1240.3 150.9L1255.2 149.5zM1442.0 184.0L1432.3 178.0L1449.1 163.3z"/>
<path fill="#86c670" stroke="#86c670" d="M1265.4 165.8L1251.3 163.1L1264.8 151.2zM1581.8 182.8L1570.8 166.1L1588.7 167.4zM1113.7 181.4L1127.6 162.9L1130.1 181.3z"/>
<path fill="#d3dc2f" stroke="#d3dc2f" d="M1251.3 163.1L1265.4 165.8L1262.9 179.4zM1193.8 168.6L1208.4 164.2L1201.8 182.5z"/>
<path fill="#efe32d" stroke="#efe32d" d="M1248.0 185.5L1251.3 163.1L1262.9 179.4zM1291.9 185.1L1306.5 195.8L1288.8 195.9zM1066.8 195.4L1084.5 181.7L1083.1 196.8z"/>
<path fill="#e9502a" stroke="#e9502a" d="M1223.2 195.3L1204.1 202.5L1201.8 182.5z"/>
<path fill="#e4392b" stroke="#e4392b" d="M1233.9 197.8L1223.2 195.3L1232.8 181.5zM1501.5 233.8L1520.6 236.3L1523.8 250.4z"/>
<path fill="#3254a7" stroke="#3254a7" d="M1292.5 133.3L1282.2 135.5L1281.3 119.1zM1178.4 134.9L1191.5 134.5L1185.4 152.8zM1438.2 134.2L1439.3 151.0L1431.1 139.7z"/>
<path fill="#3a6eb4" stroke="#3a6eb4" d="M1303.3 151.8L1302.3 134.1L1314.6 132.9zM1500.2 153.9L1518.4 149.6L1516.4 163.9z"/>
<path fill="#4193cb" stroke="#4193cb" d="M1294.3 150.1L1302.3 134.1L1303.3 151.8z"/>
<path fill="#3a6cb3" stroke="#3a6cb3" d="M1292.5 133.3L1302.3 134.1L1294.3 150.1zM1500.2 153.9L1501.0 164.3L1490.9 152.7z"/>
<path fill="#e3362b" stroke="#e3362b" d="M1316.6 217.1L1310.1 237.0L1298.3 216.0z"/>
<path fill="#f7961e" stroke="#f7961e" d="M1401.6 197.1L1418.6 202.5L1407.9 219.9z"/>
<path fill="#ed6127" stroke="#ed6127" d="M1418.6 202.5L1430.3 219.5L1407.9 219.9z"/>
<path fill="#eee42e" stroke="#eee42e" d="M1418.6 202.5L1432.3 178.0L1435.6 202.1zM1352.3 183.9L1360.4 168.8L1369.0 183.0z"/>
<path fill="#31479e" stroke="#31479e" d="M1166.4 133.8L1163.8 119.1L1178.0 119.1zM1331.2 134.3L1328.6 119.1L1339.5 119.1zM1514.0 136.2L1502.9 119.1L1513.9 119.1zM1467.5 135.2L1454.1 119.1L1464.9 119.1zM1351.8 119.1L1352.1 134.6L1339.5 119.1z"/>
<path fill="#365fad" stroke="#365fad" d="M1154.9 135.4L1166.4 133.8L1162.3 147.6z"/>
<path fill="#62c5d6" stroke="#62c5d6" d="M1193.8 168.6L1181.5 163.0L1185.4 152.8zM1379.6 164.7L1369.5 153.9L1385.0 151.6z"/>
<path fill="#99cb49" stroke="#99cb49" d="M1181.5 163.0L1193.8 168.6L1175.2 179.3z"/>
<path fill="#e4e12e" stroke="#e4e12e" d="M1191.6 183.3L1193.8 168.6L1201.8 182.5zM1282.0 184.1L1267.7 199.7L1262.9 179.4zM1551.2 201.6L1563.5 180.7L1569.1 197.5z"/>
<path fill="#3c7dbd" stroke="#3c7dbd" d="M1219.5 137.1L1230.2 136.2L1226.9 152.4z"/>
<path fill="#6ec6b2" stroke="#6ec6b2" d="M1230.2 136.2L1240.3 150.9L1226.9 152.4z"/>
<path fill="#3252a6" stroke="#3252a6" d="M1208.5 139.7L1191.5 134.5L1197.2 119.1z"/>
<path fill="#31489e" stroke="#31489e" d="M1191.5 134.5L1185.9 119.1L1197.2 119.1zM1411.0 119.1L1405.2 138.4L1394.2 119.1z"/>
<path fill="#62c5d4" stroke="#62c5d4" d="M1215.8 152.5L1219.5 137.1L1226.9 152.4z"/>
<path fill="#3b73b7" stroke="#3b73b7" d="M1215.8 152.5L1208.5 139.7L1219.5 137.1z"/>
<path fill="#8dc862" stroke="#8dc862" d="M1215.8 152.5L1226.9 152.4L1220.6 166.6z"/>
<path fill="#acd037" stroke="#acd037" d="M1208.4 164.2L1215.8 152.5L1220.6 166.6z"/>
<path fill="#3459aa" stroke="#3459aa" d="M1331.2 134.3L1318.6 152.5L1314.6 132.9z"/>
<path fill="#314fa4" stroke="#314fa4" d="M1331.2 134.3L1339.5 119.1L1340.2 137.0zM1526.1 119.1L1514.0 136.2L1513.9 119.1zM1432.4 119.1L1438.2 134.2L1431.1 139.7zM1389.8 133.7L1386.7 119.1L1394.2 119.1z"/>
<path fill="#65c6ce" stroke="#65c6ce" d="M1318.6 152.5L1323.2 166.1L1305.3 169.1z"/>
<path fill="#355eac" stroke="#355eac" d="M1257.3 136.8L1267.7 139.6L1255.2 149.5zM1573.6 133.0L1586.3 139.7L1570.4 147.5zM1352.1 134.6L1343.9 153.8L1340.2 137.0zM1530.7 150.4L1518.4 149.6L1529.2 135.9z"/>
<path fill="#3661ad" stroke="#3661ad" d="M1267.7 139.6L1282.0 148.4L1264.8 151.2zM1282.0 148.4L1267.7 139.6L1282.2 135.5zM1408.2 147.6L1395.4 149.1L1405.2 138.4zM1449.1 163.3L1439.3 151.0L1453.3 147.3z"/>
<path fill="#6ac6bf" stroke="#6ac6bf" d="M1295.8 167.9L1303.3 151.8L1305.3 169.1zM1393.0 162.4L1379.6 164.7L1385.0 151.6z"/>
<path fill="#7fc685" stroke="#7fc685" d="M1305.6 182.0L1295.8 167.9L1305.3 169.1z"/>
<path fill="#abd037" stroke="#abd037" d="M1295.8 167.9L1305.6 182.0L1291.9 185.1zM1385.5 184.4L1379.6 164.7L1393.0 162.4z"/>
<path fill="#d8dd2f" stroke="#d8dd2f" d="M1279.0 166.9L1282.0 184.1L1262.9 179.4z"/>
<path fill="#81c67f" stroke="#81c67f" d="M1295.8 167.9L1282.0 184.1L1279.0 166.9z"/>
<path fill="#bdd632" stroke="#bdd632" d="M1282.0 184.1L1295.8 167.9L1291.9 185.1zM1505.6 195.8L1521.4 182.4L1516.9 200.4z"/>
<path fill="#fcc412" stroke="#fcc412" d="M1267.7 199.7L1282.0 184.1L1288.8 195.9z"/>
<path fill="#df2a2b" stroke="#df2a2b" d="M974.8 217.4L996.7 213.5L984.7 236.0z"/>
<path fill="#ee6427" stroke="#ee6427" d="M1012.2 213.6L996.7 213.5L999.8 195.8z"/>
<path fill="#ea5129" stroke="#ea5129" d="M996.7 213.5L974.8 217.4L984.6 198.1z"/>
<path fill="#f48720" stroke="#f48720" d="M999.8 195.8L996.7 213.5L984.6 198.1zM1083.1 196.8L1091.5 214.1L1074.6 221.4z"/>
<path fill="#84c674" stroke="#84c674" d="M974.8 149.0L992.7 154.4L974.8 165.1z"/>
<path fill="#fcc312" stroke="#fcc312" d="M1597.8 200.5L1589.7 195.2L1597.8 181.9z"/>
<path fill="#f17224" stroke="#f17224" d="M1575.5 215.4L1597.8 200.5L1597.8 217.6z"/>
<path fill="#f48520" stroke="#f48520" d="M1597.8 200.5L1575.5 215.4L1589.7 195.2zM1138.9 197.4L1129.3 215.4L1118.3 199.3z"/>
<path fill="#fdcf0e" stroke="#fdcf0e" d="M1581.8 182.8L1589.7 195.2L1569.1 197.5z"/>
<path fill="#c8d92f" stroke="#c8d92f" d="M1563.5 180.7L1581.8 182.8L1569.1 197.5z"/>
<path fill="#e2e02e" stroke="#e2e02e" d="M1589.7 195.2L1581.8 182.8L1597.8 181.9zM987.6 169.4L1001.7 164.2L993.1 180.3zM1348.4 164.5L1352.3 183.9L1338.8 181.5z"/>
<path fill="#a6cf39" stroke="#a6cf39" d="M1581.8 182.8L1588.7 167.4L1597.8 181.9z"/>
<path fill="#3764af" stroke="#3764af" d="M1551.9 138.8L1555.3 150.2L1543.4 151.5zM1461.2 148.3L1467.5 135.2L1477.0 154.3z"/>
<path fill="#4091ca" stroke="#4091ca" d="M1555.3 150.2L1548.9 163.6L1543.4 151.5z"/>
<path fill="#4fb1dc" stroke="#4fb1dc" d="M1561.5 167.1L1555.3 150.2L1570.4 147.5z"/>
<path fill="#71c6ab" stroke="#71c6ab" d="M1548.9 163.6L1555.3 150.2L1561.5 167.1z"/>
<path fill="#5dc4e1" stroke="#5dc4e1" d="M1548.9 163.6L1531.7 164.3L1543.4 151.5zM1054.2 166.6L1072.1 164.1L1066.2 178.4z"/>
<path fill="#6fc6b0" stroke="#6fc6b0" d="M1531.7 164.3L1548.9 163.6L1534.1 183.9z"/>
<path fill="#aad037" stroke="#aad037" d="M1516.9 200.4L1521.4 182.4L1534.1 183.9z"/>
<path fill="#81c67d" stroke="#81c67d" d="M1521.4 182.4L1531.7 164.3L1534.1 183.9zM1323.2 166.1L1320.3 179.0L1305.3 169.1z"/>
<path fill="#6dc6b6" stroke="#6dc6b6" d="M1531.7 164.3L1521.4 182.4L1516.4 163.9z"/>
<path fill="#f27822" stroke="#f27822" d="M1575.5 215.4L1555.7 214.9L1569.1 197.5zM1050.0 213.8L1066.8 195.4L1074.6 221.4z"/>
<path fill="#e6432a" stroke="#e6432a" d="M1555.7 214.9L1562.4 238.6L1545.2 236.3zM1385.0 219.7L1401.6 197.1L1407.9 219.9zM1353.8 218.9L1366.9 197.3L1366.1 221.3z"/>
<path fill="#e7452a" stroke="#e7452a" d="M1562.4 238.6L1575.5 215.4L1581.9 232.3zM1091.5 214.1L1109.6 220.7L1090.8 236.3z"/>
<path fill="#eb5829" stroke="#eb5829" d="M1562.4 238.6L1555.7 214.9L1575.5 215.4z"/>
<path fill="#3357a9" stroke="#3357a9" d="M1477.0 154.3L1467.5 135.2L1477.2 134.2zM1137.7 153.3L1134.5 134.1L1141.9 136.8zM1334.8 151.2L1331.2 134.3L1340.2 137.0z"/>
<path fill="#52b4dd" stroke="#52b4dd" d="M1462.6 165.6L1458.0 182.0L1449.1 163.3z"/>
<path fill="#70c6af" stroke="#70c6af" d="M1458.0 182.0L1462.6 165.6L1470.9 184.9z"/>
<path fill="#48a7d9" stroke="#48a7d9" d="M1395.4 149.1L1393.0 162.4L1385.0 151.6z"/>
<path fill="#afd136" stroke="#afd136" d="M1563.5 180.7L1551.2 201.6L1552.0 179.1z"/>
<path fill="#fbd312" stroke="#fbd312" d="M1551.2 201.6L1555.7 214.9L1540.3 201.6z"/>
<path fill="#e7462a" stroke="#e7462a" d="M1520.6 236.3L1501.5 233.8L1523.5 220.1z"/>
<path fill="#f06c25" stroke="#f06c25" d="M1501.5 233.8L1498.0 217.0L1523.5 220.1z"/>
<path fill="#e7442a" stroke="#e7442a" d="M1498.0 217.0L1501.5 233.8L1482.9 234.0zM1109.6 220.7L1129.3 215.4L1111.1 235.7z"/>
<path fill="#e2302b" stroke="#e2302b" d="M1387.7 238.2L1385.0 219.7L1407.9 219.9zM1417.9 234.3L1430.3 219.5L1435.2 239.0z"/>
<path fill="#f17523" stroke="#f17523" d="M1385.0 219.7L1383.5 200.2L1401.6 197.1zM1331.2 213.0L1340.0 198.4L1349.0 202.9z"/>
<path fill="#e6412a" stroke="#e6412a" d="M1383.5 200.2L1385.0 219.7L1366.1 221.3zM1007.3 233.0L996.7 213.5L1012.2 213.6z"/>
<path fill="#60c5da" stroke="#60c5da" d="M974.8 132.9L986.3 137.6L974.8 149.0z"/>
<path fill="#56bade" stroke="#56bade" d="M992.7 154.4L986.3 137.6L993.6 136.9z"/>
<path fill="#73c6a6" stroke="#73c6a6" d="M986.3 137.6L992.7 154.4L974.8 149.0z"/>
<path fill="#3f8dc7" stroke="#3f8dc7" d="M986.3 137.6L991.8 119.1L993.6 136.9zM1041.5 163.8L1031.1 154.1L1041.0 152.5z"/>
<path fill="#4295cc" stroke="#4295cc" d="M1057.6 152.7L1041.5 163.8L1041.0 152.5z"/>
<path fill="#55b8de" stroke="#55b8de" d="M1054.2 166.6L1041.5 163.8L1057.6 152.7z"/>
<path fill="#5cc3e0" stroke="#5cc3e0" d="M1031.1 154.1L1041.5 163.8L1026.2 169.1z"/>
<path fill="#6ac6bd" stroke="#6ac6bd" d="M1026.2 169.1L1041.5 163.8L1034.4 180.1z"/>
<path fill="#66c6c8" stroke="#66c6c8" d="M1041.5 163.8L1054.2 166.6L1034.4 180.1z"/>
<path fill="#449bd1" stroke="#449bd1" d="M1072.1 164.1L1054.2 166.6L1066.7 153.1z"/>
<path fill="#e2322b" stroke="#e2322b" d="M1168.9 214.1L1169.8 201.4L1179.0 217.9z"/>
<path fill="#ed5f28" stroke="#ed5f28" d="M1169.8 201.4L1168.9 214.1L1156.1 203.7zM1215.7 179.6L1223.2 195.3L1201.8 182.5zM1537.8 219.3L1555.7 214.9L1545.2 236.3z"/>
<path fill="#f5dc21" stroke="#f5dc21" d="M1215.7 179.6L1208.4 164.2L1220.6 166.6z"/>
<path fill="#fad415" stroke="#fad415" d="M1208.4 164.2L1215.7 179.6L1201.8 182.5z"/>
<path fill="#f6931e" stroke="#f6931e" d="M1232.8 181.5L1215.7 179.6L1220.6 166.6zM1459.8 221.1L1469.9 199.4L1481.0 213.5z"/>
<path fill="#ec5a29" stroke="#ec5a29" d="M1223.2 195.3L1215.7 179.6L1232.8 181.5zM1430.3 219.5L1449.7 214.8L1435.2 239.0zM1456.5 239.4L1459.8 221.1L1482.9 234.0z"/>
<path fill="#f06f24" stroke="#f06f24" d="M1353.8 218.9L1349.0 202.9L1366.9 197.3z"/>
<path fill="#ee6527" stroke="#ee6527" d="M1353.8 218.9L1331.2 213.0L1349.0 202.9z"/>
<path fill="#e3342b" stroke="#e3342b" d="M1331.2 213.0L1345.6 232.3L1332.1 230.9z"/>
<path fill="#ed5d28" stroke="#ed5d28" d="M1331.2 213.0L1353.8 218.9L1345.6 232.3z"/>
<path fill="#ef6b25" stroke="#ef6b25" d="M1482.9 234.0L1459.8 221.1L1481.0 213.5z"/>
<path fill="#7ec688" stroke="#7ec688" d="M1458.0 182.0L1442.0 184.0L1449.1 163.3z"/>
<path fill="#d2dc2f" stroke="#d2dc2f" d="M1432.3 178.0L1442.0 184.0L1435.6 202.1z"/>
<path fill="#3866b0" stroke="#3866b0" d="M1191.5 134.5L1199.9 147.9L1185.4 152.8z"/>
<path fill="#355fad" stroke="#355fad" d="M1199.9 147.9L1191.5 134.5L1208.5 139.7z"/>
<path fill="#5fc5de" stroke="#5fc5de" d="M1199.9 147.9L1193.8 168.6L1185.4 152.8zM1462.6 165.6L1474.8 164.6L1470.9 184.9z"/>
<path fill="#7bc68f" stroke="#7bc68f" d="M1193.8 168.6L1199.9 147.9L1208.4 164.2zM1006.5 150.8L1001.7 164.2L992.7 154.4z"/>
<path fill="#6cc6b8" stroke="#6cc6b8" d="M1199.9 147.9L1215.8 152.5L1208.4 164.2z"/>
<path fill="#3d83c1" stroke="#3d83c1" d="M1215.8 152.5L1199.9 147.9L1208.5 139.7zM1109.9 168.2L1107.7 154.5L1124.1 153.0z"/>
<path fill="#a2cd3a" stroke="#a2cd3a" d="M1320.3 179.0L1305.6 182.0L1305.3 169.1z"/>
<path fill="#85c671" stroke="#85c671" d="M1337.8 167.3L1320.3 179.0L1323.2 166.1z"/>
<path fill="#e6e22e" stroke="#e6e22e" d="M1305.6 182.0L1306.5 195.8L1291.9 185.1z"/>
<path fill="#f9a51c" stroke="#f9a51c" d="M1288.8 195.9L1306.5 195.8L1298.3 216.0z"/>
<path fill="#d9de2f" stroke="#d9de2f" d="M1320.3 179.0L1306.5 195.8L1305.6 182.0z"/>
<path fill="#f48220" stroke="#f48220" d="M1306.5 195.8L1316.6 217.1L1298.3 216.0z"/>
<path fill="#f48420" stroke="#f48420" d="M1316.6 217.1L1306.5 195.8L1321.8 203.4zM1340.0 198.4L1331.2 213.0L1321.8 203.4z"/>
<path fill="#e53e2a" stroke="#e53e2a" d="M1007.3 233.0L1012.2 213.6L1032.9 215.1z"/>
<path fill="#bfd631" stroke="#bfd631" d="M992.7 154.4L1001.7 164.2L987.6 169.4z"/>
<path fill="#a0cd3b" stroke="#a0cd3b" d="M1011.3 181.0L1001.7 164.2L1009.6 162.9z"/>
<path fill="#e1e02e" stroke="#e1e02e" d="M1001.7 164.2L1011.3 181.0L993.1 180.3zM1113.7 181.4L1099.1 203.4L1095.5 184.9z"/>
<path fill="#70c6ad" stroke="#70c6ad" d="M1001.7 164.2L1006.5 150.8L1009.6 162.9z"/>
<path fill="#3c82c0" stroke="#3c82c0" d="M1009.9 135.2L1006.5 150.8L993.6 136.9zM1137.7 153.3L1127.6 162.9L1124.1 153.0z"/>
<path fill="#67c6c7" stroke="#67c6c7" d="M1006.5 150.8L992.7 154.4L993.6 136.9zM1431.9 167.0L1432.3 178.0L1422.4 163.2z"/>
<path fill="#7fc683" stroke="#7fc683" d="M1570.8 166.1L1563.5 180.7L1561.5 167.1zM1081.5 169.2L1084.5 181.7L1066.2 178.4z"/>
<path fill="#9fcd3d" stroke="#9fcd3d" d="M1570.8 166.1L1581.8 182.8L1563.5 180.7z"/>
<path fill="#72c6a8" stroke="#72c6a8" d="M1570.8 166.1L1561.5 167.1L1570.4 147.5z"/>
<path fill="#53b7dd" stroke="#53b7dd" d="M1583.7 150.7L1570.8 166.1L1570.4 147.5z"/>
<path fill="#7fc684" stroke="#7fc684" d="M1521.4 182.4L1502.6 182.8L1516.4 163.9z"/>
<path fill="#f58b1f" stroke="#f58b1f" d="M1540.3 201.6L1537.8 219.3L1523.5 220.1zM1109.6 220.7L1099.1 203.4L1118.3 199.3z"/>
<path fill="#f79b1d" stroke="#f79b1d" d="M1555.7 214.9L1537.8 219.3L1540.3 201.6z"/>
<path fill="#eb5529" stroke="#eb5529" d="M1537.8 219.3L1520.6 236.3L1523.5 220.1zM1430.3 219.5L1417.9 234.3L1407.9 219.9z"/>
<path fill="#3661ae" stroke="#3661ae" d="M1462.6 165.6L1461.2 148.3L1477.0 154.3z"/>
<path fill="#396ab2" stroke="#396ab2" d="M1461.2 148.3L1449.1 163.3L1453.3 147.3zM1331.2 134.3L1334.8 151.2L1318.6 152.5z"/>
<path fill="#3b71b6" stroke="#3b71b6" d="M1461.2 148.3L1462.6 165.6L1449.1 163.3zM1518.4 149.6L1530.7 150.4L1516.4 163.9z"/>
<path fill="#3d86c2" stroke="#3d86c2" d="M1474.8 164.6L1462.6 165.6L1477.0 154.3z"/>
<path fill="#32469d" stroke="#32469d" d="M1438.2 134.2L1432.4 119.1L1443.0 119.1z"/>
<path fill="#3969b1" stroke="#3969b1" d="M1439.3 151.0L1421.8 151.5L1431.1 139.7z"/>
<path fill="#cdda2f" stroke="#cdda2f" d="M1385.5 184.4L1393.0 162.4L1397.8 181.7z"/>
<path fill="#fbd313" stroke="#fbd313" d="M1385.5 184.4L1383.5 200.2L1369.0 183.0zM1366.9 197.3L1352.3 183.9L1369.0 183.0z"/>
<path fill="#f9a91b" stroke="#f9a91b" d="M1383.5 200.2L1385.5 184.4L1401.6 197.1z"/>
<path fill="#f4dc22" stroke="#f4dc22" d="M1385.5 184.4L1397.8 181.7L1401.6 197.1zM1498.0 217.0L1505.6 195.8L1516.9 200.4z"/>
<path fill="#83c678" stroke="#83c678" d="M1432.3 178.0L1411.5 177.8L1422.4 163.2z"/>
<path fill="#dcdf2e" stroke="#dcdf2e" d="M1397.8 181.7L1411.5 177.8L1401.6 197.1zM1083.1 196.8L1084.5 181.7L1095.5 184.9z"/>
<path fill="#f9d618" stroke="#f9d618" d="M1411.5 177.8L1418.6 202.5L1401.6 197.1z"/>
<path fill="#66c6c9" stroke="#66c6c9" d="M1019.5 150.3L1026.2 169.1L1009.6 162.9z"/>
<path fill="#50b1dc" stroke="#50b1dc" d="M1019.5 150.3L1031.1 154.1L1026.2 169.1z"/>
<path fill="#4daedb" stroke="#4daedb" d="M1006.5 150.8L1019.5 150.3L1009.6 162.9zM1421.8 151.5L1431.9 167.0L1422.4 163.2z"/>
<path fill="#3a6fb5" stroke="#3a6fb5" d="M1031.1 154.1L1019.5 150.3L1022.5 135.8z"/>
<path fill="#4398cf" stroke="#4398cf" d="M1019.5 150.3L1006.5 150.8L1009.9 135.2zM1081.5 169.2L1072.1 164.1L1081.8 153.4zM1491.5 168.1L1474.8 164.6L1477.0 154.3z"/>
<path fill="#8fc85e" stroke="#8fc85e" d="M1084.5 181.7L1099.6 167.8L1095.5 184.9zM1343.9 153.8L1348.4 164.5L1337.8 167.3z"/>
<path fill="#f6921e" stroke="#f6921e" d="M1349.0 202.9L1352.3 183.9L1366.9 197.3z"/>
<path fill="#7dc689" stroke="#7dc689" d="M1369.5 153.9L1360.4 168.8L1355.4 153.8z"/>
<path fill="#4caddb" stroke="#4caddb" d="M1365.9 138.6L1369.5 153.9L1355.4 153.8z"/>
<path fill="#4297ce" stroke="#4297ce" d="M1369.5 153.9L1377.4 139.4L1385.0 151.6z"/>
<path fill="#fdcc0f" stroke="#fdcc0f" d="M1320.3 179.0L1340.0 198.4L1321.8 203.4z"/>
<path fill="#fad516" stroke="#fad516" d="M1352.3 183.9L1340.0 198.4L1338.8 181.5z"/>
<path fill="#f58c1f" stroke="#f58c1f" d="M1449.7 214.8L1430.3 219.5L1435.6 202.1z"/>
<path fill="#ea5229" stroke="#ea5229" d="M1456.5 239.4L1449.7 214.8L1459.8 221.1zM1150.4 221.6L1138.9 197.4L1156.1 203.7z"/>
<path fill="#47a3d6" stroke="#47a3d6" d="M1343.9 153.8L1352.1 134.6L1355.4 153.8zM1334.8 151.2L1323.2 166.1L1318.6 152.5z"/>
<path fill="#3b77b9" stroke="#3b77b9" d="M1555.3 150.2L1564.3 139.1L1570.4 147.5z"/>
<path fill="#4191ca" stroke="#4191ca" d="M1501.0 164.3L1500.2 153.9L1516.4 163.9zM1431.9 167.0L1439.3 151.0L1449.1 163.3z"/>
<path fill="#68c6c4" stroke="#68c6c4" d="M1502.6 182.8L1501.0 164.3L1516.4 163.9z"/>
<path fill="#79c694" stroke="#79c694" d="M1474.8 164.6L1490.3 184.4L1470.9 184.9z"/>
<path fill="#fdcb10" stroke="#fdcb10" d="M1505.6 195.8L1498.0 217.0L1487.7 201.8z"/>
<path fill="#96ca4f" stroke="#96ca4f" d="M1505.6 195.8L1502.6 182.8L1521.4 182.4z"/>
<path fill="#c7d92f" stroke="#c7d92f" d="M1490.3 184.4L1505.6 195.8L1487.7 201.8z"/>
<path fill="#98cb4c" stroke="#98cb4c" d="M1505.6 195.8L1490.3 184.4L1502.6 182.8z"/>
<path fill="#4aaada" stroke="#4aaada" d="M1530.7 150.4L1531.7 164.3L1516.4 163.9zM1127.6 162.9L1109.9 168.2L1124.1 153.0z"/>
<path fill="#355dab" stroke="#355dab" d="M1538.2 138.9L1530.7 150.4L1529.2 135.9z"/>
<path fill="#49a9d9" stroke="#49a9d9" d="M1405.4 163.7L1421.8 151.5L1422.4 163.2z"/>
<path fill="#3a6db3" stroke="#3a6db3" d="M1405.4 163.7L1408.2 147.6L1421.8 151.5z"/>
<path fill="#68c6c5" stroke="#68c6c5" d="M1411.5 177.8L1405.4 163.7L1422.4 163.2z"/>
<path fill="#53b6dd" stroke="#53b6dd" d="M1405.4 163.7L1393.0 162.4L1395.4 149.1z"/>
<path fill="#3c7bbc" stroke="#3c7bbc" d="M1408.2 147.6L1405.4 163.7L1395.4 149.1z"/>
<path fill="#81c67e" stroke="#81c67e" d="M1393.0 162.4L1405.4 163.7L1397.8 181.7z"/>
<path fill="#b2d235" stroke="#b2d235" d="M1405.4 163.7L1411.5 177.8L1397.8 181.7z"/>
<path fill="#65c6cc" stroke="#65c6cc" d="M1432.3 178.0L1431.9 167.0L1449.1 163.3zM1072.1 164.1L1081.5 169.2L1066.2 178.4zM1109.9 168.2L1113.7 181.4L1099.6 167.8z"/>
<path fill="#3765af" stroke="#3765af" d="M1377.4 139.4L1389.8 133.7L1385.0 151.6z"/>
<path fill="#fbba15" stroke="#fbba15" d="M1066.8 195.4L1083.1 196.8L1074.6 221.4z"/>
<path fill="#bfd632" stroke="#bfd632" d="M1066.2 178.4L1066.8 195.4L1053.7 185.4z"/>
<path fill="#bbd533" stroke="#bbd533" d="M1084.5 181.7L1066.8 195.4L1066.2 178.4z"/>
<path fill="#eb5729" stroke="#eb5729" d="M1091.5 214.1L1090.8 236.3L1074.6 221.4zM1099.1 203.4L1109.6 220.7L1091.5 214.1z"/>
<path fill="#9ccc43" stroke="#9ccc43" d="M1130.1 181.3L1136.3 164.9L1143.8 181.9z"/>
<path fill="#61c5d8" stroke="#61c5d8" d="M1084.5 181.7L1081.5 169.2L1099.6 167.8z"/>
<path fill="#3b75b8" stroke="#3b75b8" d="M1094.5 152.2L1081.5 169.2L1081.8 153.4z"/>
<path fill="#48a6d9" stroke="#48a6d9" d="M1099.6 167.8L1081.5 169.2L1094.5 152.2z"/>
<path fill="#b8d433" stroke="#b8d433" d="M1337.8 167.3L1348.4 164.5L1338.8 181.5z"/>
<path fill="#91c959" stroke="#91c959" d="M1360.4 168.8L1348.4 164.5L1355.4 153.8z"/>
<path fill="#76c69d" stroke="#76c69d" d="M1348.4 164.5L1343.9 153.8L1355.4 153.8z"/>
<path fill="#ece32e" stroke="#ece32e" d="M1379.6 164.7L1385.5 184.4L1369.0 183.0zM1469.9 199.4L1450.3 203.6L1458.0 182.0z"/>
<path fill="#c4d830" stroke="#c4d830" d="M1360.4 168.8L1379.6 164.7L1369.0 183.0z"/>
<path fill="#89c76a" stroke="#89c76a" d="M1369.5 153.9L1379.6 164.7L1360.4 168.8z"/>
<path fill="#fbb716" stroke="#fbb716" d="M1450.3 203.6L1449.7 214.8L1435.6 202.1z"/>
<path fill="#f7d81c" stroke="#f7d81c" d="M1442.0 184.0L1450.3 203.6L1435.6 202.1z"/>
<path fill="#d0db2f" stroke="#d0db2f" d="M1450.3 203.6L1442.0 184.0L1458.0 182.0z"/>
<path fill="#f37f21" stroke="#f37f21" d="M1449.7 214.8L1450.3 203.6L1459.8 221.1z"/>
<path fill="#3b78ba" stroke="#3b78ba" d="M1343.9 153.8L1334.8 151.2L1340.2 137.0z"/>
<path fill="#75c69e" stroke="#75c69e" d="M1334.8 151.2L1337.8 167.3L1323.2 166.1z"/>
<path fill="#459fd4" stroke="#459fd4" d="M1501.0 164.3L1491.5 168.1L1490.9 152.7z"/>
<path fill="#3865af" stroke="#3865af" d="M1491.5 168.1L1477.0 154.3L1490.9 152.7z"/>
<path fill="#64c5d0" stroke="#64c5d0" d="M1491.5 168.1L1490.3 184.4L1474.8 164.6z"/>
<path fill="#69c6c0" stroke="#69c6c0" d="M1491.5 168.1L1501.0 164.3L1502.6 182.8z"/>
<path fill="#7ac691" stroke="#7ac691" d="M1490.3 184.4L1491.5 168.1L1502.6 182.8z"/>
<path fill="#ed5e28" stroke="#ed5e28" d="M1129.3 215.4L1109.6 220.7L1118.3 199.3z"/>
<path fill="#f7991e" stroke="#f7991e" d="M1156.1 203.7L1138.9 197.4L1143.8 181.9z"/>
<path fill="#f5db1f" stroke="#f5db1f" d="M1130.1 181.3L1138.9 197.4L1118.3 199.3z"/>
<path fill="#60c5dd" stroke="#60c5dd" d="M1130.1 181.3L1127.6 162.9L1136.3 164.9z"/>
<path fill="#449ad0" stroke="#449ad0" d="M1127.6 162.9L1137.7 153.3L1136.3 164.9z"/>
<path fill="#4babda" stroke="#4babda" d="M1109.9 168.2L1099.6 167.8L1107.7 154.5z"/>
<path fill="#c6d92f" stroke="#c6d92f" d="M1469.9 199.4L1458.0 182.0L1470.9 184.9z"/>
<path fill="#efe42e" stroke="#efe42e" d="M1487.7 201.8L1469.9 199.4L1470.9 184.9z"/>
<path fill="#fcd10f" stroke="#fcd10f" d="M1469.9 199.4L1487.7 201.8L1481.0 213.5z"/>
<path fill="#fbb616" stroke="#fbb616" d="M1450.3 203.6L1469.9 199.4L1459.8 221.1z"/>
<path fill="#f9d617" stroke="#f9d617" d="M1099.1 203.4L1091.5 214.1L1083.1 196.8z"/>
<path fill="#fdd10f" stroke="#fdd10f" d="M1099.1 203.4L1113.7 181.4L1118.3 199.3z"/>
<path fill="#a3ce39" stroke="#a3ce39" d="M1099.6 167.8L1113.7 181.4L1095.5 184.9z"/>
<path fill="#cada2f" stroke="#cada2f" d="M1113.7 181.4L1130.1 181.3L1118.3 199.3z"/>
<path fill="#6bc6bb" stroke="#6bc6bb" d="M1113.7 181.4L1109.9 168.2L1127.6 162.9z"/>
<path fill="#8a181b" stroke="#8a181b" stroke-width="0.5" d="M1103.6 379.1L1108.0 364.4L1101.0 342.3L1103.6 321.8L1113.2 330.2L1132.7 329.1L1138.2 320.9L1139.6 293.7L1149.1 280.0L1155.3 274.4L1156.4 250.9L1172.3 255.7L1189.1 254.5L1204.1 245.0L1214.5 226.4L1215.4 235.3L1229.1 258.2L1233.2 270.7L1243.6 280.0L1252.7 290.9L1263.7 299.8L1292.7 305.5L1297.2 315.4L1312.7 332.7L1315.1 342.2L1339.9 360.2L1349.1 379.1z"/>
<path fill="#741316" stroke="#741316" stroke-width="0.5" d="M1131.8 379.1L1134.8 365.7L1131.8 332.7L1147.3 321.8L1154.6 320.6L1167.3 300.0L1176.0 295.6L1178.2 278.2L1188.5 285.8L1203.6 283.6L1211.3 281.9L1229.1 258.2L1232.4 267.6L1243.6 280.0L1252.7 292.7L1244.1 293.2L1230.9 303.6L1243.6 321.8L1254.5 338.2L1254.7 347.2L1272.7 363.6L1283.6 379.1z"/>
<path fill="#5ec5e1" stroke="#5ec5e1" stroke-width="0.5" d="M1311.5 121.0L1320.5 121.0L1316.5 133.0z"/>
<path fill="#4fb0dc" stroke="#4fb0dc" stroke-width="0.5" d="M1320.0 121.0L1344.0 121.0L1330.0 131.0z"/>
<path fill="#8cc63f" stroke="#8cc63f" stroke-width="0.5" d="M1280.0 122.2L1286.4 122.2L1287.0 135.0z"/>
<path fill="#e1272b" stroke="#e1272b" stroke-width="0.5" d="M1286.4 122.2L1292.9 122.2L1287.6 135.4z"/>
<path fill="#f6851f" stroke="#f6851f" stroke-width="0.5" d="M1292.7 122.6L1296.6 131.0L1287.8 135.4z"/>
<path fill="#9ccb3b" stroke="#9ccb3b" stroke-width="0.5" d="M1292.9 122.2L1305.2 122.2L1296.8 130.8z"/>
<path fill="#f7e223" stroke="#f7e223" stroke-width="0.5" d="M1305.0 122.4L1311.8 133.8L1309.0 137.6L1298.6 139.4L1287.8 135.6L1296.8 130.6z"/>
<path fill="#fdc90f" stroke="#fdc90f" stroke-width="0.5" d="M1297.5 132.0L1303.0 132.0L1300.2 137.8z"/>
<path fill="#8cc63f" stroke="#8cc63f" stroke-width="0.5" d="M1301.8 141.0L1308.2 140.2L1306.0 144.3z"/>
</g></g>
<g stroke="#3a3a3a" stroke-width="1.15" fill="none">
<path d="M977.30 122.10V392.30"/>
<path d="M964.70 122.50H977.30"/>
<path d="M964.70 201.42H977.30"/>
<path d="M964.70 280.34H977.30"/>
<path d="M964.70 359.26H977.30"/>
<path d="M1109.00 378.80V392.30"/>
<path d="M1240.30 378.80V392.30"/>
<path d="M1371.60 378.80V392.30"/>
<path d="M1502.90 378.80V392.30"/>
</g>
<path d="M977.80 378.80H1594.80" stroke="#000" stroke-opacity="0.22" stroke-width="1" fill="none"/>
<text class="t" x="953.3" y="129.5" text-anchor="end">0</text>
<text class="t" x="953.3" y="208.4" text-anchor="end">-20</text>
<text class="t" x="953.3" y="287.3" text-anchor="end">-40</text>
<text class="t" x="953.3" y="366.3" text-anchor="end">-60</text>
<text class="t" x="978.0" y="423.0" text-anchor="middle">0</text>
<text class="t" x="1109.3" y="423.0" text-anchor="middle">50</text>
<text class="t" x="1240.6" y="423.0" text-anchor="middle">100</text>
<text class="t" x="1371.9" y="423.0" text-anchor="middle">150</text>
<text class="t" x="1503.2" y="423.0" text-anchor="middle">200</text>
<text class="l" x="1310.0" y="452.9" text-anchor="middle">Distance (m)</text>
<text class="l" transform="translate(889.0 242.1) rotate(-90)" text-anchor="middle">Depth (m)</text>
<text class="l" x="974.6" y="117.4">NW</text>
<text class="l" x="1306.0" y="117.4" text-anchor="middle">Profile-13</text>
<text class="l" x="1596.1" y="117.4" text-anchor="end">SE</text>
<path d="M977.7 139.9L982.1 141.8L986.6 143.9L991.0 146.0L995.4 148.2L999.9 150.6L1004.3 153.1L1008.8 155.6L1013.2 157.9L1017.6 160.4L1022.1 162.8L1026.5 164.9L1030.9 166.5L1035.4 167.9L1039.8 169.1L1044.2 170.2L1048.7 171.0L1053.1 171.7L1057.5 172.3L1062.0 172.8L1066.4 173.2L1070.9 173.6L1075.3 173.9L1079.7 174.2L1084.2 174.4L1088.6 174.6L1093.0 174.6L1097.5 174.5L1101.9 174.3L1106.3 174.1L1110.8 173.8L1115.2 173.5L1119.6 173.2L1124.1 172.8L1128.5 172.3L1133.0 171.8L1137.4 171.3L1141.8 170.8L1146.3 170.3L1150.7 170.0L1155.1 169.6L1159.6 169.2L1164.0 168.8L1168.4 168.3L1172.9 167.7L1177.3 167.0L1181.7 166.1L1186.2 165.1L1190.6 163.8L1195.1 162.0L1199.5 160.1L1203.9 158.3L1208.4 156.4L1212.8 154.5L1217.2 152.7L1221.7 151.1L1226.1 149.7L1230.5 148.2L1235.0 147.2L1239.4 147.0L1243.9 147.2L1248.3 147.7L1252.7 149.2L1257.2 152.4L1261.6 155.5L1266.0 158.9L1270.5 162.3L1274.9 165.4L1279.3 169.0L1283.8 171.6L1288.2 171.8L1292.6 171.6L1297.1 171.2L1301.5 170.8L1306.0 170.2L1310.4 169.1L1314.8 167.7L1319.3 166.3L1323.7 164.7L1328.1 162.9L1332.6 161.1L1337.0 159.4L1341.4 158.0L1345.9 156.6L1350.3 155.4L1354.7 154.9L1359.2 154.9L1363.6 155.2L1368.1 155.6L1372.5 156.2L1376.9 157.6L1381.4 159.3L1385.8 161.2L1390.2 162.8L1394.7 164.4L1399.1 165.9L1403.5 167.4L1408.0 168.8L1412.4 170.0L1416.9 171.2L1421.3 172.3L1425.7 173.2L1430.2 173.9L1434.6 174.5L1439.0 175.0L1443.5 175.5L1447.9 175.9L1452.3 176.3L1456.8 176.5L1461.2 176.6L1465.6 176.5L1470.1 176.4L1474.5 176.3L1479.0 176.1L1483.4 175.8L1487.8 175.4L1492.3 174.9L1496.7 174.3L1501.1 173.7L1505.6 172.8L1510.0 171.9L1514.4 170.8L1518.9 169.4L1523.3 167.8L1527.7 166.3L1532.2 165.2L1536.6 164.2L1541.1 163.3L1545.5 162.3L1549.9 161.2L1554.4 159.9L1558.8 158.6L1563.2 157.5L1567.7 156.6L1572.1 155.8L1576.5 155.0L1581.0 154.2L1585.4 153.2L1589.8 152.1L1594.3 150.9" fill="none" stroke="#0d0d0d" stroke-width="1.5" stroke-linecap="round" stroke-dasharray="1.7 5.5"/>
<path d="M1278.4 122.6L1282.5 129.0L1286.8 135.6L1291.8 138.4L1298.6 139.8L1305.5 139.3L1310.0 136.5L1311.9 133.8L1309.1 127.2L1305.9 122.6" fill="none" stroke="#111" stroke-width="1.5" stroke-dasharray="1.6 2.2"/>
<text class="z" x="1120.0" y="145.2" text-anchor="middle">weathered zones</text>
<text class="z" x="1458.0" y="145.2" text-anchor="middle">weathered zones</text>
<text class="z" x="1180.5" y="311.2" text-anchor="middle">massive</text>
<text class="z" x="1180.5" y="333.8" text-anchor="middle">granite</text>
<text class="z" x="1509.5" y="311.2" text-anchor="middle">massive</text>
<text class="z" x="1509.5" y="333.8" text-anchor="middle">granite</text>
<rect x="1611.50" y="122.70" width="32.10" height="252.90" fill="url(#jet)" stroke="#150c0c" stroke-width="1"/>
<path d="M1643.50 128.60h-3.2" stroke="#151515" stroke-width="1"/>
<path d="M1643.50 197.50h-3.2" stroke="#151515" stroke-width="1"/>
<path d="M1643.50 266.40h-3.2" stroke="#151515" stroke-width="1"/>
<path d="M1643.50 335.30h-3.2" stroke="#151515" stroke-width="1"/>
<text class="t" x="1647.7" y="137.0">5</text>
<text class="t" x="1647.7" y="205.7">4</text>
<text class="t" x="1647.7" y="274.4">3</text>
<text class="t" x="1647.7" y="343.1">2</text>
<text class="l" transform="translate(1686.0 227.5) rotate(-90)" text-anchor="middle">Log<tspan font-size="16.5" dy="5.2">10</tspan><tspan dy="-5.2">(Ω.m)</tspan></text>
<rect x="867.30" y="334.80" width="42.90" height="43.30" fill="none" stroke="#0c0c0c" stroke-width="1.2"/>
<text class="k" x="889.2" y="374.9" text-anchor="middle" stroke-width="0.5">b</text>
</g>
<g id="panel-c">
<clipPath id="clipc"><rect x="585.20" y="527.00" width="608.00" height="254.70"/></clipPath>
<g clip-path="url(#clipc)"><g stroke-width="1.5" stroke-linejoin="round" filter="url(#soft)">
<path fill="#dc262b" stroke="#dc262b" d="M770.7 752.8L779.3 784.7L713.1 784.7zM582.2 745.6L582.2 707.4L619.0 713.2zM653.4 784.7L666.1 750.2L713.1 784.7zM951.0 784.7L970.9 738.5L1020.6 784.7zM802.9 653.6L827.1 658.4L797.2 686.9zM827.1 658.4L842.2 689.2L797.2 686.9zM776.7 685.7L802.9 653.6L797.2 686.9zM830.5 784.7L862.4 748.3L880.9 784.7zM666.1 750.2L718.0 752.8L713.1 784.7zM718.0 752.8L666.1 750.2L705.7 710.8zM770.7 752.8L816.5 738.1L779.3 784.7zM816.5 738.1L862.4 748.3L830.5 784.7zM582.2 745.6L606.5 751.4L582.2 784.7zM606.5 751.4L582.2 745.6L619.0 713.2zM666.1 750.2L606.5 751.4L619.0 713.2zM582.2 685.8L606.2 678.1L582.2 707.4zM582.2 707.4L606.2 678.1L619.0 713.2zM606.2 678.1L582.2 685.8L582.2 653.8zM666.1 750.2L662.1 707.6L705.7 710.8zM662.1 707.6L666.1 750.2L619.0 713.2zM902.2 754.4L951.0 784.7L880.9 784.7zM862.4 748.3L902.2 754.4L880.9 784.7zM902.2 754.4L862.4 748.3L867.6 718.0zM786.9 715.6L776.7 685.7L797.2 686.9zM786.9 715.6L816.5 738.1L770.7 752.8zM745.2 715.5L718.0 752.8L705.7 710.8zM718.0 752.8L745.2 715.5L770.7 752.8zM735.4 678.7L745.2 715.5L705.7 710.8zM786.9 715.6L745.2 715.5L776.7 685.7zM745.2 715.5L735.4 678.7L776.7 685.7zM842.2 689.2L834.5 712.0L797.2 686.9zM834.5 712.0L786.9 715.6L797.2 686.9zM786.9 715.6L834.5 712.0L816.5 738.1zM834.5 712.0L842.2 689.2L867.6 718.0zM1085.6 662.5L1078.6 680.7L1060.2 654.6zM1176.9 684.8L1196.2 710.7L1154.5 719.7zM1115.3 690.1L1154.5 719.7L1104.6 714.6zM1078.6 680.7L1115.3 690.1L1104.6 714.6zM1115.3 690.1L1078.6 680.7L1085.6 662.5zM1154.5 719.7L1122.4 747.4L1104.6 714.6zM1057.1 742.7L1066.2 784.7L1020.6 784.7zM1122.4 747.4L1057.1 742.7L1104.6 714.6zM1057.1 742.7L1122.4 747.4L1066.2 784.7zM606.2 678.1L633.0 678.3L619.0 713.2zM662.0 683.9L633.0 678.3L640.7 662.2zM633.0 678.3L662.1 707.6L619.0 713.2zM606.4 658.8L606.2 678.1L582.2 653.8zM606.4 658.8L633.0 678.3L606.2 678.1zM870.9 653.7L894.2 641.0L899.5 656.4zM985.9 719.6L1013.9 680.5L1033.1 709.4zM1013.9 680.5L985.9 719.6L978.8 684.7zM938.5 680.1L898.7 689.8L899.5 656.4zM898.7 689.8L910.0 718.4L867.6 718.0zM938.5 680.1L910.0 718.4L898.7 689.8zM898.7 689.8L871.6 683.2L899.5 656.4zM871.6 683.2L870.9 653.7L899.5 656.4zM871.6 683.2L898.7 689.8L867.6 718.0zM852.8 657.6L871.6 683.2L842.2 689.2zM706.3 685.2L735.4 678.7L705.7 710.8zM662.1 707.6L706.3 685.2L705.7 710.8zM706.3 685.2L662.1 707.6L662.0 683.9zM1043.6 682.1L1013.9 680.5L1037.0 660.9zM1013.9 680.5L1043.6 682.1L1033.1 709.4zM1043.6 682.1L1037.0 660.9L1060.2 654.6zM1078.6 680.7L1043.6 682.1L1060.2 654.6zM1178.0 639.3L1196.2 637.5L1196.2 660.3zM1113.6 616.9L1100.5 619.9L1104.9 606.4zM1080.4 641.5L1085.6 662.5L1060.2 654.6zM1196.2 748.9L1165.2 739.4L1196.2 710.7zM1196.2 710.7L1165.2 739.4L1154.5 719.7zM1165.2 739.4L1122.4 747.4L1154.5 719.7zM1122.4 747.4L1165.2 739.4L1130.1 784.7zM1130.1 784.7L1165.2 739.4L1196.2 784.7zM1111.1 657.0L1115.3 690.1L1085.6 662.5zM1115.3 690.1L1111.1 657.0L1143.3 659.4zM1196.2 678.5L1176.9 684.8L1196.2 660.3zM1176.9 684.8L1196.2 678.5L1196.2 710.7zM1149.9 689.6L1176.9 684.8L1154.5 719.7zM1115.3 690.1L1149.9 689.6L1154.5 719.7zM1017.9 750.7L1057.1 742.7L1020.6 784.7zM1057.1 742.7L1017.9 750.7L1033.1 709.4zM1017.9 750.7L985.9 719.6L1033.1 709.4zM970.9 738.5L1017.9 750.7L1020.6 784.7zM985.9 719.6L1017.9 750.7L970.9 738.5zM1065.3 719.3L1057.1 742.7L1033.1 709.4zM1043.6 682.1L1065.3 719.3L1033.1 709.4zM1065.3 719.3L1043.6 682.1L1078.6 680.7zM1065.3 719.3L1078.6 680.7L1104.6 714.6zM1057.1 742.7L1065.3 719.3L1104.6 714.6zM1009.5 659.9L1013.9 680.5L978.8 684.7zM977.9 656.7L1009.5 659.9L978.8 684.7zM1009.5 659.9L977.9 656.7L994.4 637.8zM1013.9 680.5L1009.5 659.9L1037.0 660.9zM910.0 718.4L949.8 708.9L970.9 738.5zM949.8 708.9L910.0 718.4L938.5 680.1zM949.8 708.9L985.9 719.6L970.9 738.5zM985.9 719.6L949.8 708.9L978.8 684.7zM949.8 708.9L938.5 680.1L978.8 684.7zM844.1 639.1L852.8 657.6L827.1 658.4zM1176.9 684.8L1164.9 662.5L1196.2 660.3zM1149.9 689.6L1164.9 662.5L1176.9 684.8zM1169.2 607.1L1186.4 604.8L1175.7 620.5zM1080.4 641.5L1099.1 634.5L1085.6 662.5zM908.4 636.8L934.2 658.0L899.5 656.4zM867.3 642.8L894.2 641.0L870.9 653.7zM1164.9 662.5L1157.9 636.1L1178.0 639.3zM1140.0 639.6L1118.3 637.3L1134.5 618.3zM1099.1 634.5L1118.3 637.3L1111.1 657.0zM1118.3 637.3L1140.0 639.6L1143.3 659.4zM1111.1 657.0L1118.3 637.3L1143.3 659.4zM1009.5 659.9L1033.7 643.0L1037.0 660.9zM1033.7 643.0L1009.5 659.9L1015.4 639.6zM1037.0 660.9L1033.7 643.0L1060.2 654.6zM1033.7 643.0L1057.3 639.8L1060.2 654.6zM934.2 658.0L956.6 635.4L960.4 658.6z"/>
<path fill="#de272b" stroke="#de272b" d="M776.7 685.7L765.9 659.0L802.9 653.6zM1196.2 622.8L1186.4 604.8L1196.2 600.8zM868.9 622.8L867.3 642.8L848.7 622.0z"/>
<path fill="#db252a" stroke="#db252a" d="M718.0 752.8L770.7 752.8L713.1 784.7zM816.5 738.1L830.5 784.7L779.3 784.7zM606.5 751.4L653.4 784.7L582.2 784.7zM606.5 751.4L666.1 750.2L653.4 784.7zM951.0 784.7L902.2 754.4L970.9 738.5zM862.4 748.3L834.5 712.0L867.6 718.0zM816.5 738.1L834.5 712.0L862.4 748.3zM910.0 718.4L902.2 754.4L867.6 718.0zM902.2 754.4L910.0 718.4L970.9 738.5zM1165.2 739.4L1196.2 748.9L1196.2 784.7zM934.2 658.0L938.5 680.1L899.5 656.4z"/>
<path fill="#e02b2b" stroke="#e02b2b" d="M661.5 654.8L662.0 683.9L640.7 662.2zM706.3 685.2L688.8 653.6L713.2 660.6z"/>
<path fill="#de262b" stroke="#de262b" d="M776.7 685.7L735.4 678.7L765.9 659.0zM1121.6 604.3L1139.3 599.5L1134.5 618.3zM1015.4 639.6L1009.5 659.9L994.4 637.8zM844.1 639.1L827.1 658.4L830.0 635.0zM1159.7 584.3L1169.2 607.1L1151.3 599.9zM1033.7 643.0L1015.4 639.6L1024.7 621.7z"/>
<path fill="#f7981e" stroke="#f7981e" d="M721.9 640.2L702.4 638.8L721.1 621.5z"/>
<path fill="#f48520" stroke="#f48520" d="M702.4 638.8L721.9 640.2L713.2 660.6zM869.1 600.6L889.0 601.0L868.9 622.8z"/>
<path fill="#d5dd2f" stroke="#d5dd2f" d="M726.8 605.1L721.1 621.5L712.4 604.8zM1117.6 567.4L1130.1 573.7L1116.2 584.7z"/>
<path fill="#bed632" stroke="#bed632" d="M744.0 603.6L726.8 605.1L738.4 585.5zM592.1 573.5L603.6 571.4L597.5 585.9z"/>
<path fill="#e2332b" stroke="#e2332b" d="M765.9 659.0L786.6 640.0L802.9 653.6z"/>
<path fill="#dd262b" stroke="#dd262b" d="M745.2 715.5L786.9 715.6L770.7 752.8zM662.1 707.6L633.0 678.3L662.0 683.9zM977.9 656.7L978.8 684.7L960.4 658.6zM978.8 684.7L938.5 680.1L960.4 658.6zM827.1 658.4L852.8 657.6L842.2 689.2zM842.2 689.2L871.6 683.2L867.6 718.0zM871.6 683.2L852.8 657.6L870.9 653.7zM735.4 678.7L706.3 685.2L713.2 660.6zM805.6 638.4L827.1 658.4L802.9 653.6zM1178.0 639.3L1196.2 622.8L1196.2 637.5zM1196.2 622.8L1178.0 639.3L1175.7 620.5zM1113.6 616.9L1121.6 604.3L1134.5 618.3zM1157.9 619.1L1140.0 639.6L1134.5 618.3zM1157.9 619.1L1169.2 607.1L1175.7 620.5zM1151.3 599.9L1157.9 619.1L1134.5 618.3zM1169.2 607.1L1157.9 619.1L1151.3 599.9zM1149.9 689.6L1115.3 690.1L1143.3 659.4zM973.7 640.4L977.9 656.7L960.4 658.6zM1164.9 662.5L1178.0 639.3L1196.2 660.3zM1164.9 662.5L1149.9 689.6L1143.3 659.4zM1186.4 604.8L1196.2 622.8L1175.7 620.5zM1099.1 634.5L1082.1 625.2L1100.5 619.9zM1082.1 625.2L1099.1 634.5L1080.4 641.5zM1113.6 616.9L1099.1 634.5L1100.5 619.9zM1099.1 634.5L1111.1 657.0L1085.6 662.5zM938.5 680.1L934.2 658.0L960.4 658.6zM894.2 641.0L908.4 636.8L899.5 656.4zM852.8 657.6L867.3 642.8L870.9 653.7zM844.1 639.1L867.3 642.8L852.8 657.6zM867.3 642.8L886.9 624.7L894.2 641.0zM1157.9 619.1L1157.9 636.1L1140.0 639.6zM1140.0 639.6L1157.9 636.1L1143.3 659.4zM1157.9 636.1L1164.9 662.5L1143.3 659.4zM1178.0 639.3L1157.9 636.1L1175.7 620.5zM1157.9 636.1L1157.9 619.1L1175.7 620.5zM1118.3 637.3L1099.1 634.5L1113.6 616.9zM1118.3 637.3L1113.6 616.9L1134.5 618.3zM1057.3 639.8L1080.4 641.5L1060.2 654.6zM1057.3 639.8L1082.1 625.2L1080.4 641.5z"/>
<path fill="#da252a" stroke="#da252a" d="M1066.2 784.7L1122.4 747.4L1130.1 784.7z"/>
<path fill="#df282b" stroke="#df282b" d="M595.4 640.8L606.4 658.8L582.2 653.8zM688.8 653.6L706.3 685.2L662.0 683.9zM1139.3 599.5L1151.3 599.9L1134.5 618.3zM1121.6 604.3L1113.6 616.9L1104.9 606.4zM977.9 656.7L973.7 640.4L994.4 637.8zM867.3 642.8L844.1 639.1L848.7 622.0zM956.6 635.4L973.7 640.4L960.4 658.6z"/>
<path fill="#df292b" stroke="#df292b" d="M633.0 678.3L606.4 658.8L640.7 662.2zM827.1 658.4L805.6 638.4L830.0 635.0zM1186.4 604.8L1169.2 607.1L1181.8 585.5zM1082.1 625.2L1083.4 602.4L1100.5 619.9zM886.9 624.7L867.3 642.8L868.9 622.8zM1057.3 639.8L1056.3 625.1L1082.1 625.2z"/>
<path fill="#e2e02e" stroke="#e2e02e" d="M582.2 588.4L592.1 573.5L597.5 585.9zM758.3 605.7L737.0 617.7L744.0 603.6zM981.2 586.2L968.8 606.8L966.7 586.7z"/>
<path fill="#e02d2b" stroke="#e02d2b" d="M582.2 637.8L595.4 640.8L582.2 653.8zM1056.3 625.1L1068.9 599.7L1082.1 625.2z"/>
<path fill="#e6402a" stroke="#e6402a" d="M582.2 637.8L582.2 619.9L595.4 640.8z"/>
<path fill="#f2df27" stroke="#f2df27" d="M592.6 602.2L582.2 588.4L597.5 585.9z"/>
<path fill="#314aa0" stroke="#314aa0" d="M840.3 524.0L849.4 524.0L846.2 538.7zM774.5 541.7L768.9 524.0L778.2 524.0zM747.6 524.0L735.3 541.8L734.0 524.0zM1055.5 524.0L1068.5 524.0L1066.0 539.5zM653.6 542.0L654.6 524.0L663.1 538.5zM933.4 542.7L928.0 524.0L941.3 524.0zM915.9 524.0L928.0 524.0L917.9 542.3zM984.4 524.0L980.6 541.3L975.7 524.0z"/>
<path fill="#a9d038" stroke="#a9d038" d="M891.8 571.5L888.7 587.8L877.1 587.2z"/>
<path fill="#3b72b6" stroke="#3b72b6" d="M894.1 554.8L891.8 571.5L881.0 555.8z"/>
<path fill="#314da2" stroke="#314da2" d="M849.4 524.0L861.7 537.7L846.2 538.7zM874.8 524.0L884.7 540.6L868.4 539.4zM700.6 543.6L698.7 524.0L713.1 524.0zM793.5 524.0L785.0 541.9L778.2 524.0zM1136.5 541.7L1136.4 524.0L1150.0 524.0zM1004.5 541.9L1008.9 524.0L1015.7 541.6zM1126.0 524.0L1123.9 542.8L1114.5 524.0zM990.5 542.7L984.4 524.0L999.7 524.0z"/>
<path fill="#3253a6" stroke="#3253a6" d="M861.7 537.7L857.1 554.5L846.2 538.7zM662.7 524.0L675.3 539.8L663.1 538.5zM813.3 524.0L822.9 544.2L809.9 540.1zM1056.1 543.8L1055.5 524.0L1066.0 539.5zM928.0 524.0L933.4 542.7L917.9 542.3zM809.9 540.1L800.7 540.9L803.2 524.0zM793.5 524.0L800.7 540.9L785.0 541.9zM1026.5 543.2L1035.3 524.0L1040.2 544.1zM701.9 553.2L687.7 542.0L700.6 543.6z"/>
<path fill="#3356a8" stroke="#3356a8" d="M857.1 554.5L861.7 537.7L868.4 539.4zM835.1 543.3L822.9 544.2L827.7 524.0zM946.5 543.3L953.7 524.0L957.9 543.2zM653.6 542.0L647.7 554.1L641.1 544.5zM1004.5 541.9L990.5 542.7L999.7 524.0z"/>
<path fill="#3255a7" stroke="#3255a7" d="M868.4 539.4L884.7 540.6L881.0 555.8zM894.1 554.8L884.7 540.6L894.0 538.8zM675.3 539.8L662.4 557.1L663.1 538.5zM735.3 541.8L727.5 554.7L724.9 540.1zM774.5 541.7L764.4 555.1L760.2 539.0zM1152.4 544.5L1136.5 541.7L1150.0 524.0zM777.5 558.0L774.5 541.7L785.0 541.9zM713.9 553.8L701.9 553.2L700.6 543.6z"/>
<path fill="#355fad" stroke="#355fad" d="M884.7 540.6L894.1 554.8L881.0 555.8z"/>
<path fill="#f0e32d" stroke="#f0e32d" d="M842.1 604.0L825.6 586.6L846.7 586.2z"/>
<path fill="#eb5729" stroke="#eb5729" d="M833.4 621.1L842.1 604.0L848.7 622.0z"/>
<path fill="#e6412a" stroke="#e6412a" d="M855.0 606.7L868.9 622.8L848.7 622.0zM606.8 617.3L620.9 640.3L595.4 640.8zM973.7 640.4L966.4 624.5L981.4 622.4z"/>
<path fill="#ef6926" stroke="#ef6926" d="M842.1 604.0L855.0 606.7L848.7 622.0zM956.6 635.4L948.2 620.4L966.4 624.5z"/>
<path fill="#fbbf14" stroke="#fbbf14" d="M855.0 606.7L842.1 604.0L846.7 586.2zM1012.0 588.8L1019.7 604.8L1000.6 599.8z"/>
<path fill="#3763ae" stroke="#3763ae" d="M869.5 555.5L868.4 539.4L881.0 555.8zM647.7 554.1L636.8 557.4L641.1 544.5zM688.7 558.9L692.6 568.8L679.6 567.6zM687.7 542.0L688.7 558.9L673.2 557.7z"/>
<path fill="#345baa" stroke="#345baa" d="M869.5 555.5L857.1 554.5L868.4 539.4zM591.4 537.7L582.2 541.3L582.2 524.0zM1104.6 543.1L1089.7 557.5L1087.8 539.6zM1026.5 543.2L1022.3 553.8L1015.7 541.6z"/>
<path fill="#f48420" stroke="#f48420" d="M688.8 653.6L661.5 654.8L682.7 640.2z"/>
<path fill="#f07024" stroke="#f07024" d="M688.8 653.6L702.4 638.8L713.2 660.6z"/>
<path fill="#f7971e" stroke="#f7971e" d="M702.4 638.8L688.8 653.6L682.7 640.2z"/>
<path fill="#e6422a" stroke="#e6422a" d="M661.5 654.8L688.8 653.6L662.0 683.9zM792.7 617.0L805.6 638.4L786.6 640.0z"/>
<path fill="#314ca1" stroke="#314ca1" d="M756.8 524.0L768.9 524.0L760.2 539.0zM874.8 524.0L881.0 524.0L884.7 540.6zM654.6 524.0L662.7 524.0L663.1 538.5zM967.2 539.9L964.2 524.0L975.7 524.0z"/>
<path fill="#3762ae" stroke="#3762ae" d="M753.5 555.1L747.6 570.2L740.9 557.9z"/>
<path fill="#3763af" stroke="#3763af" d="M857.1 554.5L842.2 553.5L846.2 538.7zM1152.4 544.5L1144.5 557.0L1136.5 541.7z"/>
<path fill="#e4372b" stroke="#e4372b" d="M735.4 678.7L740.7 655.4L765.9 659.0z"/>
<path fill="#e94d2a" stroke="#e94d2a" d="M740.7 655.4L735.4 678.7L713.2 660.6z"/>
<path fill="#ec5b29" stroke="#ec5b29" d="M721.9 640.2L740.7 655.4L713.2 660.6z"/>
<path fill="#cedb2f" stroke="#cedb2f" d="M683.3 620.5L676.0 604.7L690.5 600.3zM582.2 568.0L592.1 573.5L582.2 588.4z"/>
<path fill="#e12e2b" stroke="#e12e2b" d="M786.6 640.0L805.6 638.4L802.9 653.6zM1139.3 599.5L1121.6 604.3L1133.9 584.3zM833.4 621.1L844.1 639.1L830.0 635.0zM1169.2 607.1L1159.7 584.3L1181.8 585.5zM1186.4 604.8L1181.8 585.5L1196.2 600.8zM1100.5 619.9L1083.4 602.4L1104.9 606.4zM606.4 658.8L620.9 640.3L640.7 662.2z"/>
<path fill="#65c6ce" stroke="#65c6ce" d="M821.7 567.3L807.5 571.4L808.3 552.7z"/>
<path fill="#f17323" stroke="#f17323" d="M1144.6 583.4L1139.3 599.5L1133.9 584.3z"/>
<path fill="#e02c2b" stroke="#e02c2b" d="M1139.3 599.5L1144.6 583.4L1151.3 599.9zM934.2 658.0L908.4 636.8L933.2 638.9zM1057.3 639.8L1033.7 643.0L1041.0 621.2z"/>
<path fill="#3252a5" stroke="#3252a5" d="M687.7 542.0L698.7 524.0L700.6 543.6zM628.7 524.0L641.1 544.5L630.4 544.0zM884.7 540.6L881.0 524.0L894.0 538.8zM715.2 540.5L720.6 524.0L724.9 540.1zM1087.8 539.6L1076.6 538.5L1078.6 524.0zM616.8 540.6L628.7 524.0L630.4 544.0zM785.0 541.9L774.5 541.7L778.2 524.0zM1068.5 524.0L1076.6 538.5L1066.0 539.5zM1056.1 543.8L1040.2 544.1L1045.2 524.0zM1102.3 524.0L1104.6 543.1L1087.8 539.6z"/>
<path fill="#314ea3" stroke="#314ea3" d="M715.2 540.5L700.6 543.6L713.1 524.0zM747.6 524.0L756.8 524.0L760.2 539.0zM734.0 524.0L735.3 541.8L724.9 540.1zM1088.2 524.0L1087.8 539.6L1078.6 524.0zM953.7 524.0L964.2 524.0L957.9 543.2z"/>
<path fill="#55b9de" stroke="#55b9de" d="M596.5 558.4L602.1 542.4L609.5 554.8zM736.2 568.5L747.6 570.2L738.4 585.5z"/>
<path fill="#66c6c9" stroke="#66c6c9" d="M582.2 541.3L596.5 558.4L582.2 556.8z"/>
<path fill="#4eafdb" stroke="#4eafdb" d="M596.5 558.4L582.2 541.3L602.1 542.4zM722.3 569.6L736.2 568.5L738.4 585.5zM936.2 558.2L949.9 556.0L947.8 572.3z"/>
<path fill="#3149a0" stroke="#3149a0" d="M641.1 544.5L628.7 524.0L645.0 524.0zM861.9 524.0L874.8 524.0L868.4 539.4zM1035.3 524.0L1026.5 543.2L1019.0 524.0z"/>
<path fill="#7bc68f" stroke="#7bc68f" d="M596.5 558.4L582.2 568.0L582.2 556.8z"/>
<path fill="#a4ce39" stroke="#a4ce39" d="M582.2 568.0L596.5 558.4L592.1 573.5z"/>
<path fill="#72c6a7" stroke="#72c6a7" d="M603.6 571.4L596.5 558.4L609.5 554.8z"/>
<path fill="#9ecc3f" stroke="#9ecc3f" d="M596.5 558.4L603.6 571.4L592.1 573.5zM1188.3 538.0L1196.2 542.0L1178.4 555.8z"/>
<path fill="#ccda2f" stroke="#ccda2f" d="M603.6 571.4L618.9 585.2L597.5 585.9z"/>
<path fill="#fcc711" stroke="#fcc711" d="M592.6 602.2L582.2 607.6L582.2 588.4zM737.0 617.7L744.4 639.5L721.9 640.2z"/>
<path fill="#f8a01d" stroke="#f8a01d" d="M582.2 607.6L592.6 602.2L582.2 619.9zM1157.8 568.0L1159.7 584.3L1144.6 583.4zM643.5 623.8L657.7 637.2L633.5 636.9z"/>
<path fill="#d4dc2f" stroke="#d4dc2f" d="M618.9 585.2L608.9 601.2L597.5 585.9z"/>
<path fill="#f8d719" stroke="#f8d719" d="M608.9 601.2L592.6 602.2L597.5 585.9zM985.5 600.5L992.2 584.4L1000.6 599.8z"/>
<path fill="#e12f2b" stroke="#e12f2b" d="M886.9 624.7L907.4 621.2L894.2 641.0zM907.4 621.2L908.4 636.8L894.2 641.0zM1004.8 621.7L1015.4 639.6L994.4 637.8zM956.6 635.4L934.2 658.0L933.2 638.9z"/>
<path fill="#bdd632" stroke="#bdd632" d="M947.8 572.3L953.0 585.5L931.6 586.4zM1058.9 569.1L1055.9 587.1L1044.1 582.9zM646.2 582.4L644.7 601.6L630.2 583.6z"/>
<path fill="#e3372b" stroke="#e3372b" d="M973.7 640.4L981.4 622.4L994.4 637.8zM889.0 601.0L886.9 624.7L868.9 622.8z"/>
<path fill="#31479e" stroke="#31479e" d="M813.3 524.0L809.9 540.1L803.2 524.0zM675.3 539.8L662.7 524.0L679.2 524.0zM616.8 540.6L609.8 524.0L618.3 524.0zM1126.0 524.0L1136.4 524.0L1136.5 541.7z"/>
<path fill="#dfe02e" stroke="#dfe02e" d="M888.7 587.8L889.0 601.0L877.1 587.2zM657.9 619.1L660.1 606.1L676.0 604.7z"/>
<path fill="#f58a1f" stroke="#f58a1f" d="M907.4 621.2L889.0 601.0L908.7 606.6z"/>
<path fill="#eb5629" stroke="#eb5629" d="M889.0 601.0L907.4 621.2L886.9 624.7z"/>
<path fill="#99cb4a" stroke="#99cb4a" d="M907.5 586.6L888.7 587.8L891.8 571.5z"/>
<path fill="#f5dc21" stroke="#f5dc21" d="M907.5 586.6L921.6 600.1L908.7 606.6zM1159.7 584.3L1157.8 568.0L1169.0 568.5zM1141.5 569.6L1144.6 583.4L1133.9 584.3z"/>
<path fill="#f7d91c" stroke="#f7d91c" d="M889.0 601.0L907.5 586.6L908.7 606.6z"/>
<path fill="#e5e12e" stroke="#e5e12e" d="M907.5 586.6L889.0 601.0L888.7 587.8z"/>
<path fill="#31489e" stroke="#31489e" d="M894.0 538.8L881.0 524.0L895.6 524.0zM654.6 524.0L653.6 542.0L645.0 524.0z"/>
<path fill="#3150a4" stroke="#3150a4" d="M861.9 524.0L861.7 537.7L849.4 524.0zM687.7 542.0L675.3 539.8L679.2 524.0zM598.6 524.0L609.8 524.0L602.1 542.4zM735.3 541.8L747.6 524.0L749.6 543.5zM1104.6 543.1L1102.3 524.0L1112.0 539.8zM946.5 543.3L933.4 542.7L941.3 524.0zM909.1 524.0L915.9 524.0L917.9 542.3zM980.6 541.3L967.2 539.9L975.7 524.0zM964.2 524.0L967.2 539.9L957.9 543.2z"/>
<path fill="#3251a5" stroke="#3251a5" d="M861.7 537.7L861.9 524.0L868.4 539.4zM749.6 543.5L747.6 524.0L760.2 539.0zM653.6 542.0L641.1 544.5L645.0 524.0zM905.0 540.0L909.1 524.0L917.9 542.3zM984.4 524.0L990.5 542.7L980.6 541.3z"/>
<path fill="#c3d730" stroke="#c3d730" d="M825.6 586.6L829.9 567.8L846.7 586.2zM1070.1 571.3L1088.8 583.0L1068.7 588.9z"/>
<path fill="#90c95c" stroke="#90c95c" d="M829.9 567.8L825.6 586.6L821.7 567.3z"/>
<path fill="#f5db20" stroke="#f5db20" d="M821.6 606.8L825.6 586.6L842.1 604.0z"/>
<path fill="#f37f21" stroke="#f37f21" d="M833.4 621.1L821.6 606.8L842.1 604.0z"/>
<path fill="#e7e22e" stroke="#e7e22e" d="M858.8 583.6L855.0 606.7L846.7 586.2z"/>
<path fill="#3968b1" stroke="#3968b1" d="M877.3 567.2L869.5 555.5L881.0 555.8zM602.1 542.4L616.8 540.6L609.5 554.8zM907.1 552.9L901.3 569.7L894.1 554.8zM764.4 555.1L777.5 558.0L760.5 570.3z"/>
<path fill="#6dc6b5" stroke="#6dc6b5" d="M877.3 567.2L891.8 571.5L877.1 587.2zM989.9 568.1L981.2 586.2L972.4 568.3z"/>
<path fill="#408ec8" stroke="#408ec8" d="M891.8 571.5L877.3 567.2L881.0 555.8z"/>
<path fill="#32449c" stroke="#32449c" d="M720.6 524.0L734.0 524.0L724.9 540.1z"/>
<path fill="#31489f" stroke="#31489f" d="M720.6 524.0L715.2 540.5L713.1 524.0z"/>
<path fill="#3254a7" stroke="#3254a7" d="M753.5 555.1L749.6 543.5L760.2 539.0zM842.2 553.5L835.1 543.3L846.2 538.7zM675.3 539.8L687.7 542.0L673.2 557.7zM735.3 541.8L749.6 543.5L740.9 557.9zM1123.9 542.8L1112.0 539.8L1114.5 524.0z"/>
<path fill="#3661ae" stroke="#3661ae" d="M749.6 543.5L753.5 555.1L740.9 557.9zM641.1 544.5L636.8 557.4L630.4 544.0zM1172.9 543.3L1165.7 538.5L1172.6 524.0zM949.9 556.0L957.9 543.2L959.5 554.0z"/>
<path fill="#3867b0" stroke="#3867b0" d="M849.9 568.9L842.2 553.5L857.1 554.5zM722.3 569.6L713.9 553.8L727.5 554.7zM936.2 558.2L923.2 557.9L933.4 542.7z"/>
<path fill="#bfd632" stroke="#bfd632" d="M849.9 568.9L858.8 583.6L846.7 586.2z"/>
<path fill="#97ca4d" stroke="#97ca4d" d="M829.9 567.8L849.9 568.9L846.7 586.2z"/>
<path fill="#64c5cf" stroke="#64c5cf" d="M849.9 568.9L829.9 567.8L842.2 553.5zM703.7 570.3L706.7 582.6L694.2 588.0z"/>
<path fill="#314ba1" stroke="#314ba1" d="M840.3 524.0L835.1 543.3L827.7 524.0zM1008.9 524.0L1019.0 524.0L1015.7 541.6zM822.9 544.2L813.3 524.0L827.7 524.0zM1076.6 538.5L1068.5 524.0L1078.6 524.0zM1088.2 524.0L1102.3 524.0L1087.8 539.6zM953.7 524.0L946.5 543.3L941.3 524.0zM909.1 524.0L905.0 540.0L895.6 524.0z"/>
<path fill="#314fa4" stroke="#314fa4" d="M835.1 543.3L840.3 524.0L846.2 538.7zM768.9 524.0L774.5 541.7L760.2 539.0zM905.0 540.0L894.0 538.8L895.6 524.0zM1040.2 544.1L1035.3 524.0L1045.2 524.0zM1161.6 524.0L1152.4 544.5L1150.0 524.0z"/>
<path fill="#e3342b" stroke="#e3342b" d="M844.1 639.1L833.4 621.1L848.7 622.0zM1144.6 583.4L1159.7 584.3L1151.3 599.9z"/>
<path fill="#fab318" stroke="#fab318" d="M700.7 623.4L702.4 638.8L682.7 640.2zM1034.4 601.2L1019.7 604.8L1027.3 584.8z"/>
<path fill="#fcc412" stroke="#fcc412" d="M683.3 620.5L700.7 623.4L682.7 640.2z"/>
<path fill="#dddf2e" stroke="#dddf2e" d="M721.1 621.5L700.7 623.4L712.4 604.8z"/>
<path fill="#f3df26" stroke="#f3df26" d="M702.4 638.8L700.7 623.4L721.1 621.5zM623.1 601.7L644.7 601.6L626.1 624.7zM644.7 601.6L643.5 623.8L626.1 624.7z"/>
<path fill="#cada2f" stroke="#cada2f" d="M700.7 623.4L690.5 600.3L712.4 604.8zM1101.5 572.6L1117.6 567.4L1116.2 584.7z"/>
<path fill="#e8e22e" stroke="#e8e22e" d="M700.7 623.4L683.3 620.5L690.5 600.3z"/>
<path fill="#e4382b" stroke="#e4382b" d="M810.2 624.4L833.4 621.1L830.0 635.0zM948.2 620.4L956.6 635.4L933.2 638.9z"/>
<path fill="#e2312b" stroke="#e2312b" d="M805.6 638.4L810.2 624.4L830.0 635.0zM1116.2 584.7L1121.6 604.3L1104.9 606.4z"/>
<path fill="#ea5429" stroke="#ea5429" d="M810.2 624.4L821.6 606.8L833.4 621.1zM1181.8 585.5L1196.2 583.9L1196.2 600.8z"/>
<path fill="#f6941e" stroke="#f6941e" d="M821.6 606.8L810.2 624.4L805.4 599.8z"/>
<path fill="#c7d92f" stroke="#c7d92f" d="M825.6 586.6L814.4 586.9L821.7 567.3zM1090.7 573.9L1088.8 583.0L1070.1 571.3z"/>
<path fill="#99cb49" stroke="#99cb49" d="M814.4 586.9L807.5 571.4L821.7 567.3z"/>
<path fill="#cdda2f" stroke="#cdda2f" d="M814.4 586.9L799.7 582.7L807.5 571.4zM953.0 585.5L961.4 572.4L966.7 586.7z"/>
<path fill="#dbde2f" stroke="#dbde2f" d="M799.7 582.7L814.4 586.9L805.4 599.8zM1157.8 568.0L1167.1 556.9L1169.0 568.5z"/>
<path fill="#f8d71a" stroke="#f8d71a" d="M814.4 586.9L821.6 606.8L805.4 599.8z"/>
<path fill="#f1e028" stroke="#f1e028" d="M821.6 606.8L814.4 586.9L825.6 586.6z"/>
<path fill="#e0e02e" stroke="#e0e02e" d="M1178.4 555.8L1185.1 567.1L1169.0 568.5z"/>
<path fill="#fad415" stroke="#fad415" d="M1185.1 567.1L1181.8 585.5L1169.0 568.5z"/>
<path fill="#fcd110" stroke="#fcd110" d="M1196.2 583.9L1185.1 567.1L1196.2 568.8zM1088.8 583.0L1083.4 602.4L1068.7 588.9z"/>
<path fill="#f58b1f" stroke="#f58b1f" d="M1185.1 567.1L1196.2 583.9L1181.8 585.5zM1101.3 582.4L1116.2 584.7L1104.9 606.4z"/>
<path fill="#f27a22" stroke="#f27a22" d="M1181.8 585.5L1159.7 584.3L1169.0 568.5zM1068.9 599.7L1056.3 625.1L1054.4 601.9z"/>
<path fill="#83c678" stroke="#83c678" d="M947.8 572.3L961.4 572.4L953.0 585.5z"/>
<path fill="#3969b1" stroke="#3969b1" d="M1039.4 556.2L1040.2 544.1L1048.8 555.9z"/>
<path fill="#4397ce" stroke="#4397ce" d="M1064.2 552.0L1058.9 569.1L1048.8 555.9z"/>
<path fill="#3e8ac5" stroke="#3e8ac5" d="M1070.1 571.3L1064.2 552.0L1076.4 555.3z"/>
<path fill="#60c5db" stroke="#60c5db" d="M1064.2 552.0L1070.1 571.3L1058.9 569.1zM1165.7 538.5L1167.1 556.9L1154.6 552.1zM760.5 570.3L751.2 585.1L747.6 570.2z"/>
<path fill="#e9e22e" stroke="#e9e22e" d="M1055.9 587.1L1054.4 601.9L1044.1 582.9zM1101.5 572.6L1116.2 584.7L1101.3 582.4z"/>
<path fill="#d3dc2f" stroke="#d3dc2f" d="M1055.9 587.1L1070.1 571.3L1068.7 588.9zM758.3 605.7L765.0 583.8L775.2 599.9z"/>
<path fill="#93c956" stroke="#93c956" d="M1070.1 571.3L1055.9 587.1L1058.9 569.1z"/>
<path fill="#f58d1f" stroke="#f58d1f" d="M1121.6 604.3L1116.2 584.7L1133.9 584.3zM1041.0 621.2L1034.4 601.2L1054.4 601.9z"/>
<path fill="#ed6127" stroke="#ed6127" d="M1083.4 602.4L1101.3 582.4L1104.9 606.4zM926.0 619.1L907.4 621.2L908.7 606.6z"/>
<path fill="#6bc6bc" stroke="#6bc6bc" d="M1090.7 573.9L1070.1 571.3L1076.4 555.3z"/>
<path fill="#314da3" stroke="#314da3" d="M1112.0 539.8L1102.3 524.0L1114.5 524.0z"/>
<path fill="#3865af" stroke="#3865af" d="M1087.8 539.6L1089.7 557.5L1076.4 555.3z"/>
<path fill="#4daedb" stroke="#4daedb" d="M1089.7 557.5L1090.7 573.9L1076.4 555.3z"/>
<path fill="#345cab" stroke="#345cab" d="M1076.6 538.5L1087.8 539.6L1076.4 555.3zM1040.2 544.1L1056.1 543.8L1048.8 555.9zM822.9 544.2L818.1 552.6L809.9 540.1z"/>
<path fill="#3866b0" stroke="#3866b0" d="M1064.2 552.0L1076.6 538.5L1076.4 555.3zM1152.4 544.5L1165.7 538.5L1154.6 552.1zM703.7 570.3L701.9 553.2L713.9 553.8z"/>
<path fill="#3359a9" stroke="#3359a9" d="M1076.6 538.5L1064.2 552.0L1066.0 539.5zM907.1 552.9L905.0 540.0L917.9 542.3z"/>
<path fill="#314ca2" stroke="#314ca2" d="M691.1 524.0L687.7 542.0L679.2 524.0zM598.6 524.0L591.4 537.7L582.2 524.0zM1055.5 524.0L1056.1 543.8L1045.2 524.0z"/>
<path fill="#32469d" stroke="#32469d" d="M687.7 542.0L691.1 524.0L698.7 524.0z"/>
<path fill="#87c66e" stroke="#87c66e" d="M679.3 584.1L676.0 604.7L659.9 588.4z"/>
<path fill="#9dcc43" stroke="#9dcc43" d="M676.0 604.7L679.3 584.1L690.5 600.3zM1167.1 556.9L1157.8 568.0L1154.6 552.1z"/>
<path fill="#355dab" stroke="#355dab" d="M591.4 537.7L598.6 524.0L602.1 542.4zM1123.9 542.8L1113.3 552.9L1112.0 539.8zM832.4 555.6L822.9 544.2L835.1 543.3z"/>
<path fill="#3b73b7" stroke="#3b73b7" d="M582.2 541.3L591.4 537.7L602.1 542.4zM679.6 567.6L660.3 568.6L673.2 557.7z"/>
<path fill="#3359aa" stroke="#3359aa" d="M623.3 552.9L616.8 540.6L630.4 544.0zM1064.2 552.0L1056.1 543.8L1066.0 539.5zM777.5 558.0L764.4 555.1L774.5 541.7z"/>
<path fill="#31499f" stroke="#31499f" d="M628.7 524.0L616.8 540.6L618.3 524.0zM800.7 540.9L793.5 524.0L803.2 524.0zM1004.5 541.9L999.7 524.0L1008.9 524.0z"/>
<path fill="#3358a9" stroke="#3358a9" d="M609.8 524.0L616.8 540.6L602.1 542.4zM713.9 553.8L715.2 540.5L724.9 540.1zM1152.4 544.5L1161.6 524.0L1165.7 538.5zM1039.4 556.2L1026.5 543.2L1040.2 544.1zM973.6 559.2L967.2 539.9L980.6 541.3zM701.9 553.2L688.7 558.9L687.7 542.0z"/>
<path fill="#3b74b8" stroke="#3b74b8" d="M616.8 540.6L623.3 552.9L609.5 554.8z"/>
<path fill="#345aaa" stroke="#345aaa" d="M662.4 557.1L675.3 539.8L673.2 557.7zM800.7 540.9L809.9 540.1L808.3 552.7zM647.7 554.1L653.6 542.0L662.4 557.1z"/>
<path fill="#3a6bb3" stroke="#3a6bb3" d="M636.8 557.4L623.3 552.9L630.4 544.0zM660.3 568.6L647.7 554.1L662.4 557.1z"/>
<path fill="#e6432a" stroke="#e6432a" d="M657.7 637.2L661.5 654.8L640.7 662.2z"/>
<path fill="#f17523" stroke="#f17523" d="M633.5 636.9L657.7 637.2L640.7 662.2zM810.2 624.4L792.7 617.0L805.4 599.8z"/>
<path fill="#f06d25" stroke="#f06d25" d="M661.5 654.8L657.7 637.2L682.7 640.2z"/>
<path fill="#f6911f" stroke="#f6911f" d="M657.7 637.2L683.3 620.5L682.7 640.2zM1019.7 604.8L1004.8 621.7L1000.6 599.8z"/>
<path fill="#f38121" stroke="#f38121" d="M633.5 636.9L620.9 640.3L626.1 624.7zM582.2 619.9L606.8 617.3L595.4 640.8z"/>
<path fill="#e3362b" stroke="#e3362b" d="M620.9 640.3L606.4 658.8L595.4 640.8z"/>
<path fill="#e84a2a" stroke="#e84a2a" d="M620.9 640.3L633.5 636.9L640.7 662.2z"/>
<path fill="#c5d830" stroke="#c5d830" d="M623.1 601.7L618.9 585.2L630.2 583.6z"/>
<path fill="#dedf2e" stroke="#dedf2e" d="M623.1 601.7L608.9 601.2L618.9 585.2zM1196.2 554.7L1185.1 567.1L1178.4 555.8z"/>
<path fill="#f27723" stroke="#f27723" d="M592.6 602.2L606.8 617.3L582.2 619.9z"/>
<path fill="#fbd313" stroke="#fbd313" d="M608.9 601.2L606.8 617.3L592.6 602.2zM1055.9 587.1L1068.9 599.7L1054.4 601.9z"/>
<path fill="#fbbd14" stroke="#fbbd14" d="M606.8 617.3L623.1 601.7L626.1 624.7z"/>
<path fill="#fad414" stroke="#fad414" d="M623.1 601.7L606.8 617.3L608.9 601.2zM1083.4 602.4L1088.8 583.0L1101.3 582.4z"/>
<path fill="#f17423" stroke="#f17423" d="M620.9 640.3L606.8 617.3L626.1 624.7zM855.0 606.7L869.1 600.6L868.9 622.8z"/>
<path fill="#e84b2a" stroke="#e84b2a" d="M908.4 636.8L926.0 619.1L933.2 638.9zM1068.9 599.7L1083.4 602.4L1082.1 625.2z"/>
<path fill="#ed5f28" stroke="#ed5f28" d="M926.0 619.1L908.4 636.8L907.4 621.2zM948.2 620.4L958.3 606.1L966.4 624.5z"/>
<path fill="#f89f1d" stroke="#f89f1d" d="M921.6 600.1L926.0 619.1L908.7 606.6z"/>
<path fill="#e63f2a" stroke="#e63f2a" d="M981.4 622.4L1004.8 621.7L994.4 637.8z"/>
<path fill="#e43a2b" stroke="#e43a2b" d="M1015.4 639.6L1004.8 621.7L1024.7 621.7z"/>
<path fill="#ee6327" stroke="#ee6327" d="M985.5 600.5L1004.8 621.7L981.4 622.4z"/>
<path fill="#f89d1d" stroke="#f89d1d" d="M1004.8 621.7L985.5 600.5L1000.6 599.8zM792.2 605.3L792.7 617.0L778.0 623.2zM643.5 623.8L633.5 636.9L626.1 624.7z"/>
<path fill="#3357a8" stroke="#3357a8" d="M905.0 540.0L894.1 554.8L894.0 538.8zM662.4 557.1L653.6 542.0L663.1 538.5zM1014.6 556.5L1004.5 541.9L1015.7 541.6zM980.6 541.3L990.5 542.7L987.8 552.8z"/>
<path fill="#355eac" stroke="#355eac" d="M905.0 540.0L907.1 552.9L894.1 554.8zM957.9 543.2L967.2 539.9L959.5 554.0zM946.5 543.3L936.2 558.2L933.4 542.7z"/>
<path fill="#f7d81b" stroke="#f7d81b" d="M889.0 601.0L869.1 600.6L877.1 587.2zM792.2 605.3L799.7 582.7L805.4 599.8z"/>
<path fill="#e1e02e" stroke="#e1e02e" d="M869.1 600.6L858.8 583.6L877.1 587.2zM1130.1 573.7L1141.5 569.6L1133.9 584.3z"/>
<path fill="#f9d618" stroke="#f9d618" d="M858.8 583.6L869.1 600.6L855.0 606.7zM968.8 606.8L981.2 586.2L985.5 600.5z"/>
<path fill="#70c6ae" stroke="#70c6ae" d="M907.5 586.6L901.3 569.7L916.6 568.5z"/>
<path fill="#71c6ac" stroke="#71c6ac" d="M901.3 569.7L907.5 586.6L891.8 571.5z"/>
<path fill="#50b2dc" stroke="#50b2dc" d="M901.3 569.7L907.1 552.9L916.6 568.5zM999.7 558.3L1015.1 568.4L999.4 568.1z"/>
<path fill="#4babda" stroke="#4babda" d="M894.1 554.8L901.3 569.7L891.8 571.5zM1165.7 538.5L1172.9 543.3L1167.1 556.9zM961.4 572.4L949.9 556.0L959.5 554.0zM703.7 570.3L694.2 588.0L692.6 568.8z"/>
<path fill="#9ecc41" stroke="#9ecc41" d="M922.2 586.7L907.5 586.6L916.6 568.5z"/>
<path fill="#c9d92f" stroke="#c9d92f" d="M921.6 600.1L922.2 586.7L931.6 586.4zM644.7 601.6L623.1 601.7L630.2 583.6z"/>
<path fill="#d7dd2f" stroke="#d7dd2f" d="M907.5 586.6L922.2 586.7L921.6 600.1zM737.0 617.7L726.8 605.1L744.0 603.6z"/>
<path fill="#355fac" stroke="#355fac" d="M727.5 554.7L735.3 541.8L740.9 557.9zM923.2 557.9L907.1 552.9L917.9 542.3z"/>
<path fill="#3d85c2" stroke="#3d85c2" d="M753.5 555.1L760.5 570.3L747.6 570.2z"/>
<path fill="#3f8cc6" stroke="#3f8cc6" d="M807.5 571.4L790.8 552.8L808.3 552.7z"/>
<path fill="#81c67f" stroke="#81c67f" d="M849.9 568.9L859.6 573.7L858.8 583.6z"/>
<path fill="#c2d731" stroke="#c2d731" d="M858.8 583.6L859.6 573.7L877.1 587.2zM1027.3 584.8L1042.0 570.6L1044.1 582.9z"/>
<path fill="#82c67a" stroke="#82c67a" d="M859.6 573.7L877.3 567.2L877.1 587.2z"/>
<path fill="#4caddb" stroke="#4caddb" d="M877.3 567.2L859.6 573.7L869.5 555.5zM1015.1 568.4L1022.3 553.8L1029.1 568.3z"/>
<path fill="#3a70b5" stroke="#3a70b5" d="M869.5 555.5L859.6 573.7L857.1 554.5zM818.1 552.6L821.7 567.3L808.3 552.7z"/>
<path fill="#5cc2e0" stroke="#5cc2e0" d="M859.6 573.7L849.9 568.9L857.1 554.5z"/>
<path fill="#f6da1e" stroke="#f6da1e" d="M758.3 605.7L775.2 599.9L778.0 623.2zM683.3 620.5L657.9 619.1L676.0 604.7z"/>
<path fill="#fbbb15" stroke="#fbbb15" d="M759.6 623.7L758.3 605.7L778.0 623.2z"/>
<path fill="#f17124" stroke="#f17124" d="M744.4 639.5L740.7 655.4L721.9 640.2z"/>
<path fill="#fdd10f" stroke="#fdd10f" d="M775.2 599.9L792.2 605.3L778.0 623.2zM643.5 623.8L657.9 619.1L657.7 637.2z"/>
<path fill="#eae32e" stroke="#eae32e" d="M792.2 605.3L775.2 599.9L782.6 588.2z"/>
<path fill="#dade2f" stroke="#dade2f" d="M799.7 582.7L792.2 605.3L782.6 588.2z"/>
<path fill="#eb5529" stroke="#eb5529" d="M792.7 617.0L810.2 624.4L805.6 638.4z"/>
<path fill="#ea5129" stroke="#ea5129" d="M792.7 617.0L786.6 640.0L778.0 623.2z"/>
<path fill="#fcd10f" stroke="#fcd10f" d="M792.7 617.0L792.2 605.3L805.4 599.8z"/>
<path fill="#9acb48" stroke="#9acb48" d="M799.7 582.7L786.9 574.1L807.5 571.4z"/>
<path fill="#62c5d6" stroke="#62c5d6" d="M786.9 574.1L790.8 552.8L807.5 571.4zM718.4 584.1L706.7 582.6L722.3 569.6z"/>
<path fill="#76c69c" stroke="#76c69c" d="M778.3 571.9L786.9 574.1L782.6 588.2z"/>
<path fill="#a3ce39" stroke="#a3ce39" d="M786.9 574.1L799.7 582.7L782.6 588.2z"/>
<path fill="#c8d92f" stroke="#c8d92f" d="M1196.2 542.0L1196.2 554.7L1178.4 555.8zM1167.1 556.9L1178.4 555.8L1169.0 568.5z"/>
<path fill="#f1e22b" stroke="#f1e22b" d="M1185.1 567.1L1196.2 554.7L1196.2 568.8z"/>
<path fill="#8bc766" stroke="#8bc766" d="M1196.2 542.0L1188.3 538.0L1196.2 524.0z"/>
<path fill="#6fc6af" stroke="#6fc6af" d="M1015.1 568.4L1012.0 588.8L999.4 568.1z"/>
<path fill="#5fc5df" stroke="#5fc5df" d="M972.4 568.3L961.4 572.4L959.5 554.0z"/>
<path fill="#87c66c" stroke="#87c66c" d="M961.4 572.4L972.4 568.3L966.7 586.7z"/>
<path fill="#3d83c0" stroke="#3d83c0" d="M1015.1 568.4L999.7 558.3L1014.6 556.5z"/>
<path fill="#4295cd" stroke="#4295cd" d="M1042.0 570.6L1039.4 556.2L1048.8 555.9z"/>
<path fill="#60c5da" stroke="#60c5da" d="M1058.9 569.1L1042.0 570.6L1048.8 555.9z"/>
<path fill="#7fc684" stroke="#7fc684" d="M1042.0 570.6L1058.9 569.1L1044.1 582.9z"/>
<path fill="#5ec4e1" stroke="#5ec4e1" d="M1039.4 556.2L1042.0 570.6L1029.1 568.3z"/>
<path fill="#3b75b8" stroke="#3b75b8" d="M1022.3 553.8L1014.6 556.5L1015.7 541.6z"/>
<path fill="#3c80bf" stroke="#3c80bf" d="M1022.3 553.8L1039.4 556.2L1029.1 568.3z"/>
<path fill="#3b72b7" stroke="#3b72b7" d="M1022.3 553.8L1015.1 568.4L1014.6 556.5z"/>
<path fill="#3867b1" stroke="#3867b1" d="M1056.1 543.8L1064.2 552.0L1048.8 555.9zM999.7 558.3L1004.5 541.9L1014.6 556.5zM949.9 556.0L946.5 543.3L957.9 543.2z"/>
<path fill="#3a70b6" stroke="#3a70b6" d="M1136.5 541.7L1144.5 557.0L1126.0 553.5z"/>
<path fill="#73c6a5" stroke="#73c6a5" d="M1157.8 568.0L1144.5 557.0L1154.6 552.1z"/>
<path fill="#3c7cbc" stroke="#3c7cbc" d="M1089.7 557.5L1104.6 543.1L1104.6 556.5z"/>
<path fill="#3a6db3" stroke="#3a6db3" d="M1104.6 543.1L1113.3 552.9L1104.6 556.5zM736.2 568.5L727.5 554.7L740.9 557.9z"/>
<path fill="#3660ad" stroke="#3660ad" d="M1113.3 552.9L1104.6 543.1L1112.0 539.8zM790.8 552.8L800.7 540.9L808.3 552.7zM809.9 540.1L818.1 552.6L808.3 552.7z"/>
<path fill="#3662ae" stroke="#3662ae" d="M1123.9 542.8L1136.5 541.7L1126.0 553.5zM764.4 555.1L760.5 570.3L753.5 555.1z"/>
<path fill="#3865b0" stroke="#3865b0" d="M1113.3 552.9L1123.9 542.8L1126.0 553.5zM832.4 555.6L818.1 552.6L822.9 544.2zM990.5 542.7L999.7 558.3L987.8 552.8zM688.7 558.9L701.9 553.2L692.6 568.8z"/>
<path fill="#f8d718" stroke="#f8d718" d="M1116.2 584.7L1130.1 573.7L1133.9 584.3z"/>
<path fill="#459fd4" stroke="#459fd4" d="M1113.3 552.9L1117.6 567.4L1104.6 556.5z"/>
<path fill="#48a6d8" stroke="#48a6d8" d="M1117.6 567.4L1113.3 552.9L1126.0 553.5z"/>
<path fill="#71c6aa" stroke="#71c6aa" d="M1130.1 573.7L1117.6 567.4L1126.0 553.5z"/>
<path fill="#fcc013" stroke="#fcc013" d="M1083.4 602.4L1068.9 599.7L1068.7 588.9z"/>
<path fill="#f2e027" stroke="#f2e027" d="M1068.9 599.7L1055.9 587.1L1068.7 588.9zM992.2 584.4L1012.0 588.8L1000.6 599.8z"/>
<path fill="#dcdf2e" stroke="#dcdf2e" d="M1088.8 583.0L1090.7 573.9L1101.3 582.4zM1034.4 601.2L1027.3 584.8L1044.1 582.9zM644.7 601.6L660.1 606.1L657.9 619.1z"/>
<path fill="#355cab" stroke="#355cab" d="M727.5 554.7L713.9 553.8L724.9 540.1z"/>
<path fill="#3254a6" stroke="#3254a6" d="M715.2 540.5L713.9 553.8L700.6 543.6zM1181.4 524.0L1172.9 543.3L1172.6 524.0z"/>
<path fill="#3b76b9" stroke="#3b76b9" d="M747.6 570.2L736.2 568.5L740.9 557.9z"/>
<path fill="#72c6a9" stroke="#72c6a9" d="M660.3 568.6L679.3 584.1L659.9 588.4z"/>
<path fill="#4fb1dc" stroke="#4fb1dc" d="M679.3 584.1L660.3 568.6L679.6 567.6z"/>
<path fill="#396ab2" stroke="#396ab2" d="M660.3 568.6L662.4 557.1L673.2 557.7zM933.4 542.7L923.2 557.9L917.9 542.3zM973.6 559.2L980.6 541.3L987.8 552.8z"/>
<path fill="#aad038" stroke="#aad038" d="M618.9 585.2L623.4 566.9L630.2 583.6z"/>
<path fill="#75c6a0" stroke="#75c6a0" d="M623.4 566.9L634.1 569.9L630.2 583.6z"/>
<path fill="#8ec85f" stroke="#8ec85f" d="M603.6 571.4L623.4 566.9L618.9 585.2z"/>
<path fill="#4aa9da" stroke="#4aa9da" d="M623.3 552.9L623.4 566.9L609.5 554.8z"/>
<path fill="#72c6a8" stroke="#72c6a8" d="M623.4 566.9L603.6 571.4L609.5 554.8z"/>
<path fill="#49a8d9" stroke="#49a8d9" d="M636.8 557.4L623.4 566.9L623.3 552.9z"/>
<path fill="#58bddf" stroke="#58bddf" d="M623.4 566.9L636.8 557.4L634.1 569.9z"/>
<path fill="#faaf19" stroke="#faaf19" d="M657.7 637.2L657.9 619.1L683.3 620.5z"/>
<path fill="#3f8cc7" stroke="#3f8cc7" d="M907.1 552.9L923.2 557.9L916.6 568.5z"/>
<path fill="#e6e12e" stroke="#e6e12e" d="M953.0 585.5L939.2 602.1L931.6 586.4z"/>
<path fill="#f6da1d" stroke="#f6da1d" d="M939.2 602.1L921.6 600.1L931.6 586.4z"/>
<path fill="#f9a41c" stroke="#f9a41c" d="M939.2 602.1L926.0 619.1L921.6 600.1z"/>
<path fill="#b5d334" stroke="#b5d334" d="M1012.0 588.8L992.2 584.4L999.4 568.1z"/>
<path fill="#77c69b" stroke="#77c69b" d="M1042.0 570.6L1027.3 584.8L1029.1 568.3z"/>
<path fill="#68c6c3" stroke="#68c6c3" d="M1027.3 584.8L1015.1 568.4L1029.1 568.3z"/>
<path fill="#cbda2f" stroke="#cbda2f" d="M1015.1 568.4L1027.3 584.8L1012.0 588.8zM660.1 606.1L644.7 601.6L659.9 588.4z"/>
<path fill="#ef6b25" stroke="#ef6b25" d="M1004.8 621.7L1019.7 604.8L1024.7 621.7zM1034.4 601.2L1041.0 621.2L1024.7 621.7z"/>
<path fill="#efe32d" stroke="#efe32d" d="M1027.3 584.8L1019.7 604.8L1012.0 588.8z"/>
<path fill="#3459aa" stroke="#3459aa" d="M800.7 540.9L790.8 552.8L785.0 541.9z"/>
<path fill="#345bab" stroke="#345bab" d="M764.4 555.1L753.5 555.1L760.2 539.0zM990.5 542.7L1004.5 541.9L999.7 558.3z"/>
<path fill="#80c682" stroke="#80c682" d="M765.0 583.8L778.3 571.9L782.6 588.2z"/>
<path fill="#63c5d2" stroke="#63c5d2" d="M765.0 583.8L760.5 570.3L778.3 571.9zM923.2 557.9L934.9 571.5L916.6 568.5zM832.4 555.6L829.9 567.8L821.7 567.3zM718.4 584.1L722.3 569.6L738.4 585.5z"/>
<path fill="#add137" stroke="#add137" d="M775.2 599.9L765.0 583.8L782.6 588.2z"/>
<path fill="#e3e12e" stroke="#e3e12e" d="M726.8 605.1L737.0 617.7L721.1 621.5z"/>
<path fill="#fcc213" stroke="#fcc213" d="M737.0 617.7L721.9 640.2L721.1 621.5z"/>
<path fill="#faab1a" stroke="#faab1a" d="M744.4 639.5L737.0 617.7L759.6 623.7z"/>
<path fill="#f9d516" stroke="#f9d516" d="M737.0 617.7L758.3 605.7L759.6 623.7z"/>
<path fill="#f48720" stroke="#f48720" d="M758.4 638.6L744.4 639.5L759.6 623.7z"/>
<path fill="#e8482a" stroke="#e8482a" d="M758.4 638.6L786.6 640.0L765.9 659.0z"/>
<path fill="#e7472a" stroke="#e7472a" d="M740.7 655.4L758.4 638.6L765.9 659.0z"/>
<path fill="#e94e2a" stroke="#e94e2a" d="M744.4 639.5L758.4 638.6L740.7 655.4z"/>
<path fill="#ec5c29" stroke="#ec5c29" d="M786.6 640.0L758.4 638.6L778.0 623.2z"/>
<path fill="#f58920" stroke="#f58920" d="M758.4 638.6L759.6 623.7L778.0 623.2zM958.3 606.1L948.2 620.4L939.2 602.1z"/>
<path fill="#71c6ab" stroke="#71c6ab" d="M1188.3 538.0L1181.4 524.0L1196.2 524.0z"/>
<path fill="#314fa3" stroke="#314fa3" d="M1165.7 538.5L1161.6 524.0L1172.6 524.0z"/>
<path fill="#4192cb" stroke="#4192cb" d="M1144.5 557.0L1152.4 544.5L1154.6 552.1z"/>
<path fill="#81c67d" stroke="#81c67d" d="M1167.1 556.9L1172.9 543.3L1178.4 555.8zM646.2 582.4L649.9 573.4L659.9 588.4z"/>
<path fill="#7dc689" stroke="#7dc689" d="M1172.9 543.3L1188.3 538.0L1178.4 555.8z"/>
<path fill="#5fc5dd" stroke="#5fc5dd" d="M1172.9 543.3L1181.4 524.0L1188.3 538.0z"/>
<path fill="#3c81c0" stroke="#3c81c0" d="M973.6 559.2L972.4 568.3L959.5 554.0z"/>
<path fill="#365fad" stroke="#365fad" d="M1022.3 553.8L1026.5 543.2L1039.4 556.2zM790.8 552.8L777.5 558.0L785.0 541.9z"/>
<path fill="#3252a6" stroke="#3252a6" d="M1019.0 524.0L1026.5 543.2L1015.7 541.6zM1123.9 542.8L1126.0 524.0L1136.5 541.7z"/>
<path fill="#e2322b" stroke="#e2322b" d="M1041.0 621.2L1033.7 643.0L1024.7 621.7z"/>
<path fill="#eee42e" stroke="#eee42e" d="M1141.5 569.6L1157.8 568.0L1144.6 583.4z"/>
<path fill="#bcd532" stroke="#bcd532" d="M1141.5 569.6L1144.5 557.0L1157.8 568.0z"/>
<path fill="#65c6cb" stroke="#65c6cb" d="M1144.5 557.0L1141.5 569.6L1126.0 553.5z"/>
<path fill="#8ec860" stroke="#8ec860" d="M1141.5 569.6L1130.1 573.7L1126.0 553.5z"/>
<path fill="#77c69a" stroke="#77c69a" d="M1117.6 567.4L1101.5 572.6L1104.6 556.5z"/>
<path fill="#cfdb2f" stroke="#cfdb2f" d="M1090.7 573.9L1101.5 572.6L1101.3 582.4z"/>
<path fill="#51b3dc" stroke="#51b3dc" d="M1101.5 572.6L1089.7 557.5L1104.6 556.5z"/>
<path fill="#80c681" stroke="#80c681" d="M1089.7 557.5L1101.5 572.6L1090.7 573.9zM706.7 582.6L718.4 584.1L712.4 604.8z"/>
<path fill="#4399d0" stroke="#4399d0" d="M692.6 568.8L679.3 584.1L679.6 567.6z"/>
<path fill="#3b79ba" stroke="#3b79ba" d="M736.2 568.5L722.3 569.6L727.5 554.7zM999.7 558.3L989.9 568.1L987.8 552.8z"/>
<path fill="#85c671" stroke="#85c671" d="M634.1 569.9L646.2 582.4L630.2 583.6z"/>
<path fill="#bbd533" stroke="#bbd533" d="M676.0 604.7L660.1 606.1L659.9 588.4z"/>
<path fill="#3764af" stroke="#3764af" d="M967.2 539.9L973.6 559.2L959.5 554.0z"/>
<path fill="#68c6c2" stroke="#68c6c2" d="M949.9 556.0L961.4 572.4L947.8 572.3z"/>
<path fill="#77c699" stroke="#77c699" d="M934.9 571.5L922.2 586.7L916.6 568.5z"/>
<path fill="#a9cf38" stroke="#a9cf38" d="M922.2 586.7L934.9 571.5L931.6 586.4z"/>
<path fill="#83c679" stroke="#83c679" d="M934.9 571.5L947.8 572.3L931.6 586.4z"/>
<path fill="#e2302b" stroke="#e2302b" d="M956.6 635.4L966.4 624.5L973.7 640.4z"/>
<path fill="#f48220" stroke="#f48220" d="M968.8 606.8L985.5 600.5L981.4 622.4z"/>
<path fill="#ec5829" stroke="#ec5829" d="M966.4 624.5L968.8 606.8L981.4 622.4z"/>
<path fill="#6bc6ba" stroke="#6bc6ba" d="M992.2 584.4L989.9 568.1L999.4 568.1z"/>
<path fill="#459ed3" stroke="#459ed3" d="M989.9 568.1L999.7 558.3L999.4 568.1z"/>
<path fill="#3d87c3" stroke="#3d87c3" d="M989.9 568.1L973.6 559.2L987.8 552.8z"/>
<path fill="#56bade" stroke="#56bade" d="M973.6 559.2L989.9 568.1L972.4 568.3zM777.5 558.0L786.9 574.1L778.3 571.9z"/>
<path fill="#e4e12e" stroke="#e4e12e" d="M981.2 586.2L992.2 584.4L985.5 600.5z"/>
<path fill="#afd136" stroke="#afd136" d="M972.4 568.3L981.2 586.2L966.7 586.7z"/>
<path fill="#b8d433" stroke="#b8d433" d="M981.2 586.2L989.9 568.1L992.2 584.4z"/>
<path fill="#f48820" stroke="#f48820" d="M1019.7 604.8L1034.4 601.2L1024.7 621.7z"/>
<path fill="#fdd00e" stroke="#fdd00e" d="M1054.4 601.9L1034.4 601.2L1044.1 582.9z"/>
<path fill="#3b75b9" stroke="#3b75b9" d="M786.9 574.1L777.5 558.0L790.8 552.8z"/>
<path fill="#47a4d7" stroke="#47a4d7" d="M760.5 570.3L777.5 558.0L778.3 571.9z"/>
<path fill="#70c6ad" stroke="#70c6ad" d="M747.6 570.2L751.2 585.1L738.4 585.5z"/>
<path fill="#85c673" stroke="#85c673" d="M751.2 585.1L744.0 603.6L738.4 585.5z"/>
<path fill="#73c6a4" stroke="#73c6a4" d="M765.0 583.8L751.2 585.1L760.5 570.3z"/>
<path fill="#c6d830" stroke="#c6d830" d="M751.2 585.1L758.3 605.7L744.0 603.6z"/>
<path fill="#97ca4e" stroke="#97ca4e" d="M751.2 585.1L765.0 583.8L758.3 605.7z"/>
<path fill="#3c7ebe" stroke="#3c7ebe" d="M818.1 552.6L832.4 555.6L821.7 567.3z"/>
<path fill="#3e89c4" stroke="#3e89c4" d="M829.9 567.8L832.4 555.6L842.2 553.5z"/>
<path fill="#3a6cb3" stroke="#3a6cb3" d="M832.4 555.6L835.1 543.3L842.2 553.5z"/>
<path fill="#ed5e28" stroke="#ed5e28" d="M1056.3 625.1L1041.0 621.2L1054.4 601.9z"/>
<path fill="#e3332b" stroke="#e3332b" d="M1056.3 625.1L1057.3 639.8L1041.0 621.2z"/>
<path fill="#81c67e" stroke="#81c67e" d="M679.3 584.1L694.2 588.0L690.5 600.3z"/>
<path fill="#66c6cb" stroke="#66c6cb" d="M692.6 568.8L694.2 588.0L679.3 584.1z"/>
<path fill="#a2cd3a" stroke="#a2cd3a" d="M690.5 600.3L694.2 588.0L712.4 604.8z"/>
<path fill="#6fc6b1" stroke="#6fc6b1" d="M649.9 573.4L646.2 582.4L634.1 569.9z"/>
<path fill="#4aaada" stroke="#4aaada" d="M649.9 573.4L647.7 554.1L660.3 568.6z"/>
<path fill="#69c6bf" stroke="#69c6bf" d="M649.9 573.4L660.3 568.6L659.9 588.4z"/>
<path fill="#4eb0db" stroke="#4eb0db" d="M636.8 557.4L649.9 573.4L634.1 569.9z"/>
<path fill="#3d88c4" stroke="#3d88c4" d="M647.7 554.1L649.9 573.4L636.8 557.4z"/>
<path fill="#acd037" stroke="#acd037" d="M644.7 601.6L646.2 582.4L659.9 588.4z"/>
<path fill="#f1e12a" stroke="#f1e12a" d="M643.5 623.8L644.7 601.6L657.9 619.1z"/>
<path fill="#49a9da" stroke="#49a9da" d="M936.2 558.2L934.9 571.5L923.2 557.9z"/>
<path fill="#6ac6bd" stroke="#6ac6bd" d="M934.9 571.5L936.2 558.2L947.8 572.3z"/>
<path fill="#3a6eb4" stroke="#3a6eb4" d="M949.9 556.0L936.2 558.2L946.5 543.3z"/>
<path fill="#f37e21" stroke="#f37e21" d="M939.2 602.1L948.2 620.4L926.0 619.1z"/>
<path fill="#e7462a" stroke="#e7462a" d="M926.0 619.1L948.2 620.4L933.2 638.9z"/>
<path fill="#3b78ba" stroke="#3b78ba" d="M701.9 553.2L703.7 570.3L692.6 568.8z"/>
<path fill="#3b71b6" stroke="#3b71b6" d="M722.3 569.6L703.7 570.3L713.9 553.8z"/>
<path fill="#355dac" stroke="#355dac" d="M688.7 558.9L679.6 567.6L673.2 557.7z"/>
<path fill="#f6921e" stroke="#f6921e" d="M958.3 606.1L968.8 606.8L966.4 624.5z"/>
<path fill="#fbd211" stroke="#fbd211" d="M958.3 606.1L939.2 602.1L953.0 585.5z"/>
<path fill="#f4dc21" stroke="#f4dc21" d="M958.3 606.1L953.0 585.5L966.7 586.7z"/>
<path fill="#fdcf0e" stroke="#fdcf0e" d="M968.8 606.8L958.3 606.1L966.7 586.7z"/>
<path fill="#b4d335" stroke="#b4d335" d="M718.4 584.1L726.8 605.1L712.4 604.8z"/>
<path fill="#88c66c" stroke="#88c66c" d="M726.8 605.1L718.4 584.1L738.4 585.5z"/>
<path fill="#84c674" stroke="#84c674" d="M694.2 588.0L706.7 582.6L712.4 604.8z"/>
<path fill="#4398ce" stroke="#4398ce" d="M706.7 582.6L703.7 570.3L722.3 569.6z"/>
<path fill="#d6252a" stroke="#d6252a" stroke-width="0.5" d="M582.0 727.8L586.4 735.6L613.4 741.7L628.7 741.7L647.0 727.0L679.8 727.8L676.1 734.3L685.8 767.5L679.8 785.4L582.0 785.4z"/>
<path fill="#d6252a" stroke="#d6252a" stroke-width="0.5" d="M739.1 734.7L753.2 733.9L777.5 706.8L782.4 714.0L807.4 719.2L826.4 734.7L826.3 747.5L842.8 767.2L840.4 785.4L739.1 785.4L744.7 776.9z"/>
<path fill="#c42227" stroke="#c42227" stroke-width="0.5" d="M840.4 785.4L860.3 771.5L871.8 745.2L888.8 743.7L899.9 727.3L931.2 724.3L947.0 717.7L969.6 699.8L974.7 720.7L994.0 734.7L1005.6 732.0L1018.5 706.8L1026.2 708.7L1046.4 692.8L1070.8 699.8L1078.8 683.8L1077.8 661.4L1086.0 668.3L1105.7 671.9L1119.7 657.7L1126.7 633.5L1140.7 626.5L1149.8 633.2L1183.2 620.9L1201.8 626.5L1201.8 785.4z"/>
<path fill="#a21c21" stroke="#a21c21" stroke-width="0.5" d="M987.0 785.4L993.3 764.8L990.5 738.2L1002.6 743.9L1018.5 734.7L1032.5 731.3L1046.4 713.8L1059.2 715.3L1070.8 703.3L1079.8 691.2L1081.3 661.4L1090.2 668.8L1105.7 671.9L1119.7 650.9L1132.7 645.9L1140.7 626.5L1151.6 631.9L1174.0 620.4L1201.8 626.5L1201.8 785.4z"/>
<path fill="#86171a" stroke="#86171a" stroke-width="0.5" d="M1021.9 785.4L1037.2 776.3L1046.4 752.2L1055.9 744.2L1070.8 717.3L1083.3 719.5L1106.2 708.2L1126.7 710.3L1137.5 698.8L1137.2 668.4L1154.6 657.9L1165.1 633.5L1174.8 646.4L1201.8 650.9L1201.8 785.4z"/>
<path fill="#761416" stroke="#761416" stroke-width="0.5" d="M1109.2 785.4L1120.1 773.1L1126.7 745.2L1133.2 740.5L1137.2 713.8L1152.3 704.4L1172.1 682.4L1183.3 693.9L1201.8 692.8L1201.8 785.4z"/>
</g></g>
<g stroke="#666" stroke-width="1.5" fill="none">
<path d="M581.90 527.00V794.60"/>
<path d="M581.90 781.40H586.20"/>
<path d="M569.30 527.40H581.90"/>
<path d="M569.30 605.62H581.90"/>
<path d="M569.30 683.84H581.90"/>
<path d="M569.30 762.06H581.90"/>
<path d="M712.12 781.20V794.60"/>
<path d="M842.23 781.20V794.60"/>
<path d="M972.35 781.20V794.60"/>
<path d="M1102.46 781.20V794.60"/>
</g>
<path d="M585.20 781.20H1193.20" stroke="#000" stroke-opacity="0.22" stroke-width="1" fill="none"/>
<text class="t" x="558.6" y="533.6" text-anchor="end">0</text>
<text class="t" x="558.6" y="613.2" text-anchor="end">-20</text>
<text class="t" x="558.6" y="691.4" text-anchor="end">-40</text>
<text class="t" x="558.6" y="769.7" text-anchor="end">-60</text>
<text class="t" x="583.5" y="827.2" text-anchor="middle">0</text>
<text class="t" x="713.6" y="827.2" text-anchor="middle">50</text>
<text class="t" x="843.7" y="827.2" text-anchor="middle">100</text>
<text class="t" x="973.8" y="827.2" text-anchor="middle">150</text>
<text class="t" x="1104.0" y="827.2" text-anchor="middle">200</text>
<text class="l" x="916.0" y="857.5" text-anchor="middle">Distance (m)</text>
<text class="l" transform="translate(496.5 647.0) rotate(-90)" text-anchor="middle">Depth (m)</text>
<text class="l" x="580.1" y="522.5">NE</text>
<text class="l" x="908.0" y="522.5" text-anchor="middle">Profile-14</text>
<text class="l" x="1195.0" y="522.5" text-anchor="end">SW</text>
<path d="M585.4 563.4L589.8 564.9L594.1 566.4L598.5 567.9L602.9 569.4L607.3 570.9L611.6 572.5L616.0 574.0L620.4 575.5L624.8 577.1L629.1 578.7L633.5 580.4L637.9 582.2L642.3 584.1L646.6 586.0L651.0 588.0L655.4 590.0L659.8 592.2L664.1 594.3L668.5 595.9L672.9 597.3L677.3 598.4L681.6 598.6L686.0 598.5L690.4 598.4L694.8 598.2L699.1 598.0L703.5 597.8L707.9 597.6L712.3 597.1L716.6 596.6L721.0 596.0L725.4 595.4L729.8 594.7L734.1 594.1L738.5 593.5L742.9 592.8L747.3 592.1L751.6 591.3L756.0 590.5L760.4 589.7L764.8 588.9L769.1 588.1L773.5 587.0L777.9 585.8L782.3 584.2L786.6 582.5L791.0 580.9L795.4 579.2L799.8 577.6L804.1 576.0L808.5 574.5L812.9 573.2L817.3 571.9L821.6 570.8L826.0 570.1L830.4 569.7L834.8 569.4L839.1 569.3L843.5 569.4L847.9 570.0L852.3 571.0L856.6 572.2L861.0 573.4L865.4 574.6L869.8 576.0L874.1 577.5L878.5 578.8L882.9 580.1L887.3 581.4L891.6 582.2L896.0 582.8L900.4 583.3L904.8 583.6L909.2 583.7L913.5 583.6L917.9 583.3L922.3 582.9L926.7 582.5L931.0 581.8L935.4 580.9L939.8 579.8L944.2 578.9L948.5 578.1L952.9 577.2L957.3 576.5L961.7 576.3L966.0 576.3L970.4 576.4L974.8 576.5L979.2 576.7L983.5 577.0L987.9 577.5L992.3 577.9L996.7 578.3L1001.0 578.5L1005.4 578.8L1009.8 579.0L1014.2 579.0L1018.5 578.9L1022.9 578.6L1027.3 578.2L1031.7 577.8L1036.0 577.3L1040.4 576.7L1044.8 576.0L1049.2 575.4L1053.5 574.9L1057.9 574.4L1062.3 573.9L1066.7 573.5L1071.0 573.2L1075.4 572.9L1079.8 572.6L1084.2 572.3L1088.5 572.1L1092.9 571.8L1097.3 571.5L1101.7 571.1L1106.0 570.7L1110.4 570.1L1114.8 569.5L1119.2 568.8L1123.5 567.9L1127.9 567.0L1132.3 565.9L1136.7 564.8L1141.0 563.6L1145.4 562.4L1149.8 561.1L1154.2 559.6L1158.5 558.0L1162.9 556.2L1167.3 554.3L1171.7 552.5L1176.0 550.7L1180.4 548.9L1184.8 547.2L1189.2 545.5L1193.5 543.8" fill="none" stroke="#0d0d0d" stroke-width="1.5" stroke-linecap="round" stroke-dasharray="1.7 5.5"/>
<text class="z" x="729.0" y="550.6" text-anchor="middle">weathered zones</text>
<text class="z" x="1028.0" y="550.6" text-anchor="middle">weathered zones</text>
<text class="z" x="901.5" y="728.5" text-anchor="middle">massive</text>
<text class="z" x="901.5" y="751.1" text-anchor="middle">granite</text>
<rect x="1209.80" y="527.55" width="31.90" height="250.45" fill="url(#jet)" stroke="#150c0c" stroke-width="1"/>
<path d="M1241.60 533.10h-3.2" stroke="#151515" stroke-width="1"/>
<path d="M1241.60 600.90h-3.2" stroke="#151515" stroke-width="1"/>
<path d="M1241.60 669.40h-3.2" stroke="#151515" stroke-width="1"/>
<path d="M1241.60 737.05h-3.2" stroke="#151515" stroke-width="1"/>
<text class="t" x="1253.3" y="540.6">5</text>
<text class="t" x="1253.3" y="609.0">4</text>
<text class="t" x="1253.3" y="677.4">3</text>
<text class="t" x="1253.3" y="745.8">2</text>
<text class="l" transform="translate(1291.5 632.0) rotate(-90)" text-anchor="middle">Log<tspan font-size="16.5" dy="5.2">10</tspan><tspan dy="-5.2">(Ω.m)</tspan></text>
<rect x="472.20" y="783.80" width="43.00" height="43.40" fill="none" stroke="#0c0c0c" stroke-width="1.3"/>
<text class="k" x="493.6" y="819.0" text-anchor="middle" stroke-width="1.5">c</text>
</g>
</svg></body></html>
